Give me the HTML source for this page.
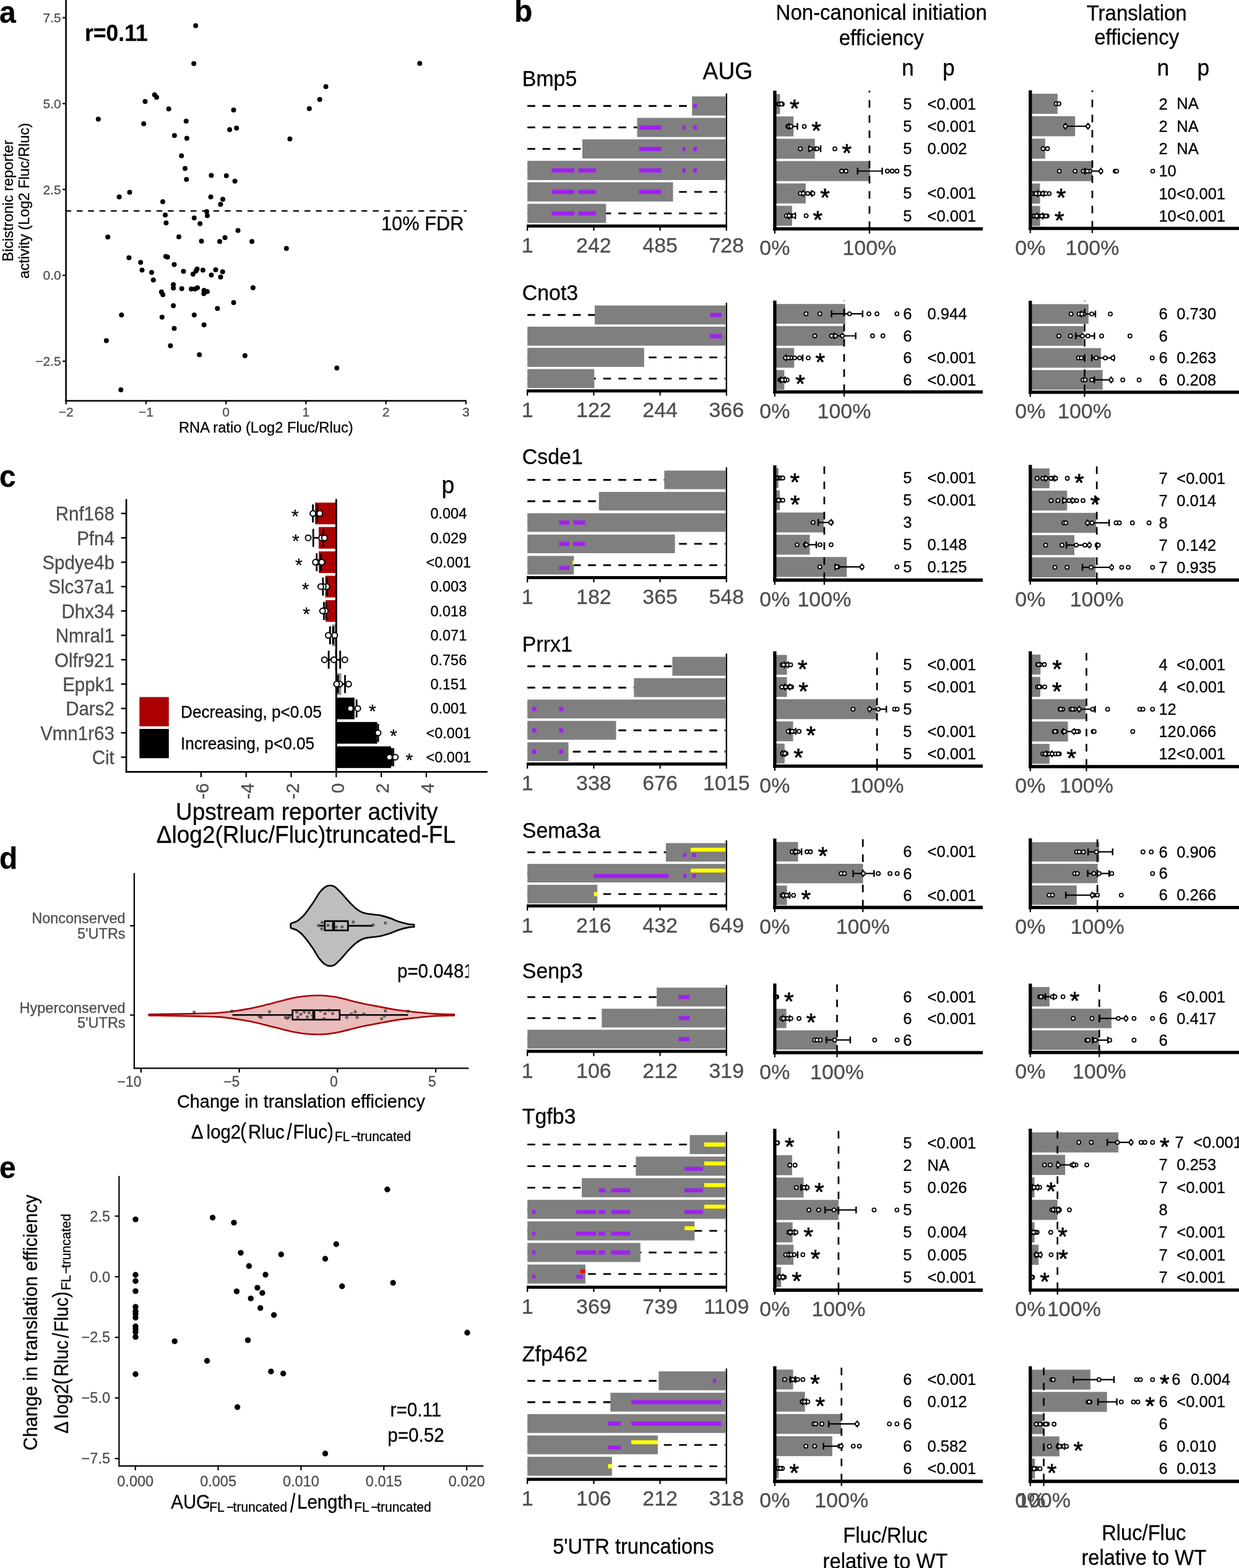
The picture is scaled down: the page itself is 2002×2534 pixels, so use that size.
<!DOCTYPE html>
<html><head><meta charset="utf-8"><title>Figure</title>
<style>
html,body{margin:0;padding:0;background:#fff;}
body{width:2002px;height:2534px;overflow:hidden;}
svg{display:block;}
svg text{font-family:"Liberation Sans", Arial, Helvetica, sans-serif;}
</style></head><body>
<svg width="2002" height="2534" viewBox="0 0 2002 2534">
<rect x="0" y="0" width="2002" height="2534" fill="#fff"/>
<text x="-1" y="36.5" font-size="48" font-weight="bold" fill="#000" stroke="#000" stroke-width="0.3" transform="translate(-1 36.5) scale(1 1.045) translate(1 -36.5)">a</text>
<line x1="106.6" y1="0" x2="106.6" y2="649.1" stroke="#000" stroke-width="2.6" stroke-linecap="butt"/>
<line x1="105.3" y1="647.8" x2="753.8" y2="647.8" stroke="#000" stroke-width="2.6" stroke-linecap="butt"/>
<line x1="101.1" y1="28.6" x2="106.6" y2="28.6" stroke="#000" stroke-width="2.2" stroke-linecap="butt"/>
<text x="98.8" y="35.9" font-size="21" text-anchor="end" fill="#4d4d4d" stroke="#4d4d4d" stroke-width="0.3">7.5</text>
<line x1="101.1" y1="167.4" x2="106.6" y2="167.4" stroke="#000" stroke-width="2.2" stroke-linecap="butt"/>
<text x="98.8" y="174.7" font-size="21" text-anchor="end" fill="#4d4d4d" stroke="#4d4d4d" stroke-width="0.3">5.0</text>
<line x1="101.1" y1="306.2" x2="106.6" y2="306.2" stroke="#000" stroke-width="2.2" stroke-linecap="butt"/>
<text x="98.8" y="313.5" font-size="21" text-anchor="end" fill="#4d4d4d" stroke="#4d4d4d" stroke-width="0.3">2.5</text>
<line x1="101.1" y1="445" x2="106.6" y2="445" stroke="#000" stroke-width="2.2" stroke-linecap="butt"/>
<text x="98.8" y="452.3" font-size="21" text-anchor="end" fill="#4d4d4d" stroke="#4d4d4d" stroke-width="0.3">0.0</text>
<line x1="101.1" y1="583.8" x2="106.6" y2="583.8" stroke="#000" stroke-width="2.2" stroke-linecap="butt"/>
<text x="98.8" y="591.1" font-size="21" text-anchor="end" fill="#4d4d4d" stroke="#4d4d4d" stroke-width="0.3">−2.5</text>
<line x1="106.8" y1="647.8" x2="106.8" y2="653.3" stroke="#000" stroke-width="2.2" stroke-linecap="butt"/>
<text x="106.8" y="673" font-size="21" text-anchor="middle" fill="#4d4d4d" stroke="#4d4d4d" stroke-width="0.3">−2</text>
<line x1="236" y1="647.8" x2="236" y2="653.3" stroke="#000" stroke-width="2.2" stroke-linecap="butt"/>
<text x="236" y="673" font-size="21" text-anchor="middle" fill="#4d4d4d" stroke="#4d4d4d" stroke-width="0.3">−1</text>
<line x1="365.2" y1="647.8" x2="365.2" y2="653.3" stroke="#000" stroke-width="2.2" stroke-linecap="butt"/>
<text x="365.2" y="673" font-size="21" text-anchor="middle" fill="#4d4d4d" stroke="#4d4d4d" stroke-width="0.3">0</text>
<line x1="494.4" y1="647.8" x2="494.4" y2="653.3" stroke="#000" stroke-width="2.2" stroke-linecap="butt"/>
<text x="494.4" y="673" font-size="21" text-anchor="middle" fill="#4d4d4d" stroke="#4d4d4d" stroke-width="0.3">1</text>
<line x1="623.6" y1="647.8" x2="623.6" y2="653.3" stroke="#000" stroke-width="2.2" stroke-linecap="butt"/>
<text x="623.6" y="673" font-size="21" text-anchor="middle" fill="#4d4d4d" stroke="#4d4d4d" stroke-width="0.3">2</text>
<line x1="752.8" y1="647.8" x2="752.8" y2="653.3" stroke="#000" stroke-width="2.2" stroke-linecap="butt"/>
<text x="752.8" y="673" font-size="21" text-anchor="middle" fill="#4d4d4d" stroke="#4d4d4d" stroke-width="0.3">3</text>
<line x1="105.6" y1="340.8" x2="754" y2="340.8" stroke="#000" stroke-width="2.3" stroke-linecap="butt" stroke-dasharray="9.4 9"/>
<circle cx="316.2" cy="41.4" r="4" fill="#000"/>
<circle cx="313.2" cy="102.8" r="4" fill="#000"/>
<circle cx="678.2" cy="102.6" r="4" fill="#000"/>
<circle cx="249.8" cy="153.3" r="4" fill="#000"/>
<circle cx="253.1" cy="157.2" r="4" fill="#000"/>
<circle cx="526.5" cy="140" r="4" fill="#000"/>
<circle cx="234.5" cy="163.9" r="4" fill="#000"/>
<circle cx="516.6" cy="160.7" r="4" fill="#000"/>
<circle cx="272.7" cy="175.9" r="4" fill="#000"/>
<circle cx="377.5" cy="177.8" r="4" fill="#000"/>
<circle cx="499.8" cy="175.6" r="4" fill="#000"/>
<circle cx="158.8" cy="192.6" r="4" fill="#000"/>
<circle cx="300.8" cy="195.8" r="4" fill="#000"/>
<circle cx="232.2" cy="200.1" r="4" fill="#000"/>
<circle cx="382.2" cy="207.1" r="4" fill="#000"/>
<circle cx="371.1" cy="209.5" r="4" fill="#000"/>
<circle cx="281.9" cy="218.9" r="4" fill="#000"/>
<circle cx="301.9" cy="223.6" r="4" fill="#000"/>
<circle cx="468.4" cy="224.4" r="4" fill="#000"/>
<circle cx="293.2" cy="251.7" r="4" fill="#000"/>
<circle cx="299" cy="272.3" r="4" fill="#000"/>
<circle cx="341.4" cy="283.6" r="4" fill="#000"/>
<circle cx="365.8" cy="284" r="4" fill="#000"/>
<circle cx="301.3" cy="289.9" r="4" fill="#000"/>
<circle cx="379.5" cy="292.7" r="4" fill="#000"/>
<circle cx="209.5" cy="310.8" r="4" fill="#000"/>
<circle cx="192.6" cy="318.3" r="4" fill="#000"/>
<circle cx="340.6" cy="318.3" r="4" fill="#000"/>
<circle cx="360" cy="322" r="4" fill="#000"/>
<circle cx="263" cy="326" r="4" fill="#000"/>
<circle cx="356.4" cy="330.2" r="4" fill="#000"/>
<circle cx="334" cy="341.9" r="4" fill="#000"/>
<circle cx="267" cy="347.5" r="4" fill="#000"/>
<circle cx="313.8" cy="352.2" r="4" fill="#000"/>
<circle cx="334.9" cy="348.5" r="4" fill="#000"/>
<circle cx="323.2" cy="361.6" r="4" fill="#000"/>
<circle cx="268.4" cy="360.2" r="4" fill="#000"/>
<circle cx="384.5" cy="372.4" r="4" fill="#000"/>
<circle cx="174.2" cy="383.1" r="4" fill="#000"/>
<circle cx="289" cy="382.7" r="4" fill="#000"/>
<circle cx="363.5" cy="384.1" r="4" fill="#000"/>
<circle cx="325.5" cy="389.7" r="4" fill="#000"/>
<circle cx="355" cy="390.2" r="4" fill="#000"/>
<circle cx="407" cy="390.2" r="4" fill="#000"/>
<circle cx="462.8" cy="401.4" r="4" fill="#000"/>
<circle cx="208.4" cy="416.4" r="4" fill="#000"/>
<circle cx="267.9" cy="414.5" r="4" fill="#000"/>
<circle cx="270.7" cy="415.5" r="4" fill="#000"/>
<circle cx="227.2" cy="423.9" r="4" fill="#000"/>
<circle cx="281.5" cy="427.6" r="4" fill="#000"/>
<circle cx="229.5" cy="436.5" r="4" fill="#000"/>
<circle cx="245" cy="440.3" r="4" fill="#000"/>
<circle cx="296.5" cy="438.4" r="4" fill="#000"/>
<circle cx="318.5" cy="434.7" r="4" fill="#000"/>
<circle cx="327.9" cy="436.5" r="4" fill="#000"/>
<circle cx="348.5" cy="436.1" r="4" fill="#000"/>
<circle cx="359.7" cy="439.3" r="4" fill="#000"/>
<circle cx="311.9" cy="443.1" r="4" fill="#000"/>
<circle cx="316.6" cy="437.9" r="4" fill="#000"/>
<circle cx="341.5" cy="444.5" r="4" fill="#000"/>
<circle cx="356.4" cy="447.8" r="4" fill="#000"/>
<circle cx="247.8" cy="452.5" r="4" fill="#000"/>
<circle cx="280.1" cy="460" r="4" fill="#000"/>
<circle cx="280.1" cy="465.6" r="4" fill="#000"/>
<circle cx="293.7" cy="466.5" r="4" fill="#000"/>
<circle cx="309.1" cy="467" r="4" fill="#000"/>
<circle cx="315.2" cy="467" r="4" fill="#000"/>
<circle cx="319" cy="465.1" r="4" fill="#000"/>
<circle cx="329.7" cy="469.3" r="4" fill="#000"/>
<circle cx="334.9" cy="471.2" r="4" fill="#000"/>
<circle cx="329.3" cy="474.5" r="4" fill="#000"/>
<circle cx="408.9" cy="465.1" r="4" fill="#000"/>
<circle cx="260.9" cy="471.7" r="4" fill="#000"/>
<circle cx="263.2" cy="476.3" r="4" fill="#000"/>
<circle cx="377.5" cy="489" r="4" fill="#000"/>
<circle cx="280.1" cy="494.1" r="4" fill="#000"/>
<circle cx="351.3" cy="498.4" r="4" fill="#000"/>
<circle cx="196.3" cy="509.1" r="4" fill="#000"/>
<circle cx="313.8" cy="509.1" r="4" fill="#000"/>
<circle cx="261.8" cy="512.4" r="4" fill="#000"/>
<circle cx="329.7" cy="525.1" r="4" fill="#000"/>
<circle cx="281.5" cy="530.7" r="4" fill="#000"/>
<circle cx="171.9" cy="550.4" r="4" fill="#000"/>
<circle cx="275.4" cy="558.8" r="4" fill="#000"/>
<circle cx="322.2" cy="573.3" r="4" fill="#000"/>
<circle cx="395.8" cy="574.7" r="4" fill="#000"/>
<circle cx="544.3" cy="594.8" r="4" fill="#000"/>
<circle cx="195.3" cy="630" r="4" fill="#000"/>
<text x="137" y="65.6" font-size="35.5" font-weight="bold" fill="#000" stroke="#000" stroke-width="0.3" transform="translate(137 65.6) scale(1 1.045) translate(-137 -65.6)">r=0.11</text>
<text x="749.5" y="372.4" font-size="30.8" text-anchor="end" fill="#000" stroke="#000" stroke-width="0.3" transform="translate(749.5 372.4) scale(1 1.045) translate(-749.5 -372.4)">10% FDR</text>
<text x="429.8" y="698.8" font-size="23.7" text-anchor="middle" fill="#000" stroke="#000" stroke-width="0.3" transform="translate(429.8 698.8) scale(1 1.045) translate(-429.8 -698.8)">RNA ratio (Log2 Fluc/Rluc)</text>
<text x="21" y="324.5" font-size="23.6" text-anchor="middle" fill="#000" stroke="#000" stroke-width="0.3" transform="translate(21 324.5) rotate(-90) scale(1 1.045) translate(-21 -324.5)">Bicistronic reporter</text>
<text x="46.8" y="324.5" font-size="23.6" text-anchor="middle" fill="#000" stroke="#000" stroke-width="0.3" transform="translate(46.8 324.5) rotate(-90) scale(1 1.045) translate(-46.8 -324.5)">activity (Log2 Fluc/Rluc)</text>
<text x="831" y="35.3" font-size="48" font-weight="bold" fill="#000" stroke="#000" stroke-width="0.3" transform="translate(831 35.3) scale(1 1.045) translate(-831 -35.3)">b</text>
<text x="1424.2" y="32.3" font-size="33" text-anchor="middle" fill="#000" stroke="#000" stroke-width="0.3" transform="translate(1424.2 32.3) scale(1 1.045) translate(-1424.2 -32.3)">Non-canonical initiation</text>
<text x="1424.2" y="73" font-size="33" text-anchor="middle" fill="#000" stroke="#000" stroke-width="0.3" transform="translate(1424.2 73) scale(1 1.045) translate(-1424.2 -73)">efficiency</text>
<text x="1836.7" y="32.7" font-size="33" text-anchor="middle" fill="#000" stroke="#000" stroke-width="0.3" transform="translate(1836.7 32.7) scale(1 1.045) translate(-1836.7 -32.7)">Translation</text>
<text x="1836.7" y="71.9" font-size="33" text-anchor="middle" fill="#000" stroke="#000" stroke-width="0.3" transform="translate(1836.7 71.9) scale(1 1.045) translate(-1836.7 -71.9)">efficiency</text>
<text x="1135.6" y="128.2" font-size="37.2" fill="#000" stroke="#000" stroke-width="0.3" transform="translate(1135.6 128.2) scale(1 1.045) translate(-1135.6 -128.2)">AUG</text>
<text x="1457" y="121.8" font-size="35.5" fill="#000" stroke="#000" stroke-width="0.3" transform="translate(1457 121.8) scale(1 1.045) translate(-1457 -121.8)">n</text>
<text x="1523" y="121.8" font-size="35.5" fill="#000" stroke="#000" stroke-width="0.3" transform="translate(1523 121.8) scale(1 1.045) translate(-1523 -121.8)">p</text>
<text x="1869.4" y="122" font-size="35.5" fill="#000" stroke="#000" stroke-width="0.3" transform="translate(1869.4 122) scale(1 1.045) translate(-1869.4 -122)">n</text>
<text x="1934.6" y="122" font-size="35.5" fill="#000" stroke="#000" stroke-width="0.3" transform="translate(1934.6 122) scale(1 1.045) translate(-1934.6 -122)">p</text>
<text x="843.8" y="138.8" font-size="33.9" fill="#000" stroke="#000" stroke-width="0.3" transform="translate(843.8 138.8) scale(1 1.045) translate(-843.8 -138.8)">Bmp5</text>
<line x1="852.2" y1="171.25" x2="1172.3" y2="171.25" stroke="#000" stroke-width="2.8" stroke-linecap="butt" stroke-dasharray="12.6 11.9"/>
<line x1="852.2" y1="205.97" x2="1172.3" y2="205.97" stroke="#000" stroke-width="2.8" stroke-linecap="butt" stroke-dasharray="12.6 11.9"/>
<line x1="852.2" y1="240.69" x2="1172.3" y2="240.69" stroke="#000" stroke-width="2.8" stroke-linecap="butt" stroke-dasharray="12.6 11.9"/>
<line x1="852.2" y1="275.41" x2="1172.3" y2="275.41" stroke="#000" stroke-width="2.8" stroke-linecap="butt" stroke-dasharray="12.6 11.9"/>
<line x1="852.2" y1="310.13" x2="1172.3" y2="310.13" stroke="#000" stroke-width="2.8" stroke-linecap="butt" stroke-dasharray="12.6 11.9"/>
<line x1="852.2" y1="344.85" x2="1172.3" y2="344.85" stroke="#000" stroke-width="2.8" stroke-linecap="butt" stroke-dasharray="12.6 11.9"/>
<rect x="1118.1" y="155.75" width="54.2" height="31" fill="#7f7f7f"/>
<rect x="1120.4" y="167.85" width="5.8" height="6.8" fill="#a020f0"/>
<rect x="1029.5" y="190.47" width="142.8" height="31" fill="#7f7f7f"/>
<rect x="1032.6" y="202.57" width="36" height="6.8" fill="#a020f0"/>
<rect x="1102.8" y="202.57" width="4.8" height="6.8" fill="#a020f0"/>
<rect x="1120.4" y="202.57" width="5.8" height="6.8" fill="#a020f0"/>
<rect x="941" y="225.19" width="231.3" height="31" fill="#7f7f7f"/>
<rect x="1032.6" y="237.29" width="36" height="6.8" fill="#a020f0"/>
<rect x="1102.8" y="237.29" width="4.8" height="6.8" fill="#a020f0"/>
<rect x="1120.4" y="237.29" width="5.8" height="6.8" fill="#a020f0"/>
<rect x="852.2" y="259.91" width="320.1" height="31" fill="#7f7f7f"/>
<rect x="891.1" y="272.01" width="37" height="6.8" fill="#a020f0"/>
<rect x="934.3" y="272.01" width="28.9" height="6.8" fill="#a020f0"/>
<rect x="1032.6" y="272.01" width="36" height="6.8" fill="#a020f0"/>
<rect x="1102.8" y="272.01" width="4.8" height="6.8" fill="#a020f0"/>
<rect x="1120.4" y="272.01" width="5.8" height="6.8" fill="#a020f0"/>
<rect x="852.2" y="294.63" width="235.3" height="31" fill="#7f7f7f"/>
<rect x="891.1" y="306.73" width="37" height="6.8" fill="#a020f0"/>
<rect x="934.3" y="306.73" width="28.9" height="6.8" fill="#a020f0"/>
<rect x="1032.6" y="306.73" width="36" height="6.8" fill="#a020f0"/>
<rect x="852.2" y="329.35" width="127.1" height="31" fill="#7f7f7f"/>
<rect x="891.1" y="341.45" width="37" height="6.8" fill="#a020f0"/>
<rect x="934.3" y="341.45" width="28.9" height="6.8" fill="#a020f0"/>
<line x1="1173.8" y1="151" x2="1173.8" y2="365.3" stroke="#000" stroke-width="2.3" stroke-linecap="butt"/>
<line x1="851" y1="365.3" x2="1175" y2="365.3" stroke="#000" stroke-width="5" stroke-linecap="butt"/>
<line x1="852.2" y1="365.3" x2="852.2" y2="372.8" stroke="#000" stroke-width="2.2" stroke-linecap="butt"/>
<text x="852.2" y="407.9" font-size="34" text-anchor="middle" fill="#4d4d4d" stroke="#4d4d4d" stroke-width="0.3">1</text>
<line x1="959.4" y1="365.3" x2="959.4" y2="372.8" stroke="#000" stroke-width="2.2" stroke-linecap="butt"/>
<text x="959.4" y="407.9" font-size="34" text-anchor="middle" fill="#4d4d4d" stroke="#4d4d4d" stroke-width="0.3">242</text>
<line x1="1066.6" y1="365.3" x2="1066.6" y2="372.8" stroke="#000" stroke-width="2.2" stroke-linecap="butt"/>
<text x="1066.6" y="407.9" font-size="34" text-anchor="middle" fill="#4d4d4d" stroke="#4d4d4d" stroke-width="0.3">485</text>
<line x1="1173.8" y1="365.3" x2="1173.8" y2="372.8" stroke="#000" stroke-width="2.2" stroke-linecap="butt"/>
<text x="1173.8" y="407.9" font-size="34" text-anchor="middle" fill="#4d4d4d" stroke="#4d4d4d" stroke-width="0.3">728</text>
<rect x="1251.9" y="152.05" width="8.5" height="32.31" fill="#7f7f7f"/>
<rect x="1251.9" y="188.15" width="30.3" height="32.31" fill="#7f7f7f"/>
<rect x="1251.9" y="224.25" width="64.7" height="32.31" fill="#7f7f7f"/>
<rect x="1251.9" y="260.35" width="153.7" height="32.31" fill="#7f7f7f"/>
<rect x="1251.9" y="296.45" width="50" height="32.31" fill="#7f7f7f"/>
<rect x="1251.9" y="332.55" width="28" height="32.31" fill="#7f7f7f"/>
<line x1="1404.9" y1="369.9" x2="1404.9" y2="146.4" stroke="#000" stroke-width="2.7" stroke-linecap="butt" stroke-dasharray="12.2 12.3"/>
<circle cx="1258.1" cy="168.2" r="3" fill="#fff" stroke="#000" stroke-width="1.8"/>
<circle cx="1261.6" cy="168.2" r="3" fill="#fff" stroke="#000" stroke-width="1.8"/>
<circle cx="1264" cy="168.2" r="3" fill="#fff" stroke="#000" stroke-width="1.8"/>
<circle cx="1259.5" cy="168.2" r="3" fill="#fff" stroke="#000" stroke-width="1.8"/>
<circle cx="1262.5" cy="168.2" r="3" fill="#fff" stroke="#000" stroke-width="1.8"/>
<text x="1283.9" y="188.7" font-size="40" text-anchor="middle" fill="#000" stroke="#000" stroke-width="0.3" style="stroke-width:0.75px">*</text>
<text x="1459.3" y="177" font-size="25.5" fill="#000" stroke="#000" stroke-width="0.3">5</text>
<text x="1498.6" y="177" font-size="25.5" fill="#000" stroke="#000" stroke-width="0.3">&lt;0.001</text>
<line x1="1274.5" y1="204.3" x2="1288.5" y2="204.3" stroke="#000" stroke-width="2.2" stroke-linecap="butt"/>
<line x1="1274.5" y1="198.8" x2="1274.5" y2="209.8" stroke="#000" stroke-width="2.4" stroke-linecap="butt"/>
<line x1="1288.5" y1="198.8" x2="1288.5" y2="209.8" stroke="#000" stroke-width="2.4" stroke-linecap="butt"/>
<circle cx="1272.9" cy="204.3" r="3" fill="#fff" stroke="#000" stroke-width="1.8"/>
<circle cx="1276.8" cy="204.3" r="3" fill="#fff" stroke="#000" stroke-width="1.8"/>
<circle cx="1299.6" cy="204.3" r="3" fill="#fff" stroke="#000" stroke-width="1.8"/>
<circle cx="1275" cy="204.3" r="3" fill="#fff" stroke="#000" stroke-width="1.8"/>
<circle cx="1278" cy="204.3" r="3" fill="#fff" stroke="#000" stroke-width="1.8"/>
<text x="1319" y="224.8" font-size="40" text-anchor="middle" fill="#000" stroke="#000" stroke-width="0.3" style="stroke-width:0.75px">*</text>
<text x="1459.3" y="213.1" font-size="25.5" fill="#000" stroke="#000" stroke-width="0.3">5</text>
<text x="1498.6" y="213.1" font-size="25.5" fill="#000" stroke="#000" stroke-width="0.3">&lt;0.001</text>
<line x1="1307.3" y1="240.4" x2="1326" y2="240.4" stroke="#000" stroke-width="2.2" stroke-linecap="butt"/>
<line x1="1307.3" y1="234.9" x2="1307.3" y2="245.9" stroke="#000" stroke-width="2.4" stroke-linecap="butt"/>
<line x1="1326" y1="234.9" x2="1326" y2="245.9" stroke="#000" stroke-width="2.4" stroke-linecap="butt"/>
<circle cx="1293.2" cy="240.4" r="3" fill="#fff" stroke="#000" stroke-width="1.8"/>
<circle cx="1309.6" cy="240.4" r="3" fill="#fff" stroke="#000" stroke-width="1.8"/>
<circle cx="1317.8" cy="240.4" r="3" fill="#fff" stroke="#000" stroke-width="1.8"/>
<circle cx="1320.2" cy="240.4" r="3" fill="#fff" stroke="#000" stroke-width="1.8"/>
<circle cx="1349" cy="240.4" r="3" fill="#fff" stroke="#000" stroke-width="1.8"/>
<text x="1368.2" y="260.9" font-size="40" text-anchor="middle" fill="#000" stroke="#000" stroke-width="0.3" style="stroke-width:0.75px">*</text>
<text x="1459.3" y="249.2" font-size="25.5" fill="#000" stroke="#000" stroke-width="0.3">5</text>
<text x="1498.6" y="249.2" font-size="25.5" fill="#000" stroke="#000" stroke-width="0.3">0.002</text>
<line x1="1385.7" y1="276.5" x2="1425.5" y2="276.5" stroke="#000" stroke-width="2.2" stroke-linecap="butt"/>
<line x1="1385.7" y1="271" x2="1385.7" y2="282" stroke="#000" stroke-width="2.4" stroke-linecap="butt"/>
<line x1="1425.5" y1="271" x2="1425.5" y2="282" stroke="#000" stroke-width="2.4" stroke-linecap="butt"/>
<circle cx="1360" cy="276.5" r="3" fill="#fff" stroke="#000" stroke-width="1.8"/>
<circle cx="1367" cy="276.5" r="3" fill="#fff" stroke="#000" stroke-width="1.8"/>
<circle cx="1433.7" cy="276.5" r="3" fill="#fff" stroke="#000" stroke-width="1.8"/>
<circle cx="1441.6" cy="276.5" r="3" fill="#fff" stroke="#000" stroke-width="1.8"/>
<circle cx="1449.4" cy="276.5" r="3" fill="#fff" stroke="#000" stroke-width="1.8"/>
<text x="1459.3" y="285.3" font-size="25.5" fill="#000" stroke="#000" stroke-width="0.3">5</text>
<line x1="1297.9" y1="312.6" x2="1312" y2="312.6" stroke="#000" stroke-width="2.2" stroke-linecap="butt"/>
<line x1="1297.9" y1="307.1" x2="1297.9" y2="318.1" stroke="#000" stroke-width="2.4" stroke-linecap="butt"/>
<line x1="1312" y1="307.1" x2="1312" y2="318.1" stroke="#000" stroke-width="2.4" stroke-linecap="butt"/>
<circle cx="1293.2" cy="312.6" r="3" fill="#fff" stroke="#000" stroke-width="1.8"/>
<circle cx="1297.9" cy="312.6" r="3" fill="#fff" stroke="#000" stroke-width="1.8"/>
<circle cx="1312" cy="312.6" r="3" fill="#fff" stroke="#000" stroke-width="1.8"/>
<circle cx="1313.5" cy="312.6" r="3" fill="#fff" stroke="#000" stroke-width="1.8"/>
<circle cx="1305" cy="312.6" r="3" fill="#fff" stroke="#000" stroke-width="1.8"/>
<text x="1333" y="333.1" font-size="40" text-anchor="middle" fill="#000" stroke="#000" stroke-width="0.3" style="stroke-width:0.75px">*</text>
<text x="1459.3" y="321.4" font-size="25.5" fill="#000" stroke="#000" stroke-width="0.3">5</text>
<text x="1498.6" y="321.4" font-size="25.5" fill="#000" stroke="#000" stroke-width="0.3">&lt;0.001</text>
<line x1="1274.5" y1="348.7" x2="1285" y2="348.7" stroke="#000" stroke-width="2.2" stroke-linecap="butt"/>
<line x1="1274.5" y1="343.2" x2="1274.5" y2="354.2" stroke="#000" stroke-width="2.4" stroke-linecap="butt"/>
<line x1="1285" y1="343.2" x2="1285" y2="354.2" stroke="#000" stroke-width="2.4" stroke-linecap="butt"/>
<circle cx="1271" cy="348.7" r="3" fill="#fff" stroke="#000" stroke-width="1.8"/>
<circle cx="1278" cy="348.7" r="3" fill="#fff" stroke="#000" stroke-width="1.8"/>
<circle cx="1282.7" cy="348.7" r="3" fill="#fff" stroke="#000" stroke-width="1.8"/>
<circle cx="1302.6" cy="348.7" r="3" fill="#fff" stroke="#000" stroke-width="1.8"/>
<circle cx="1275" cy="348.7" r="3" fill="#fff" stroke="#000" stroke-width="1.8"/>
<text x="1321.3" y="369.2" font-size="40" text-anchor="middle" fill="#000" stroke="#000" stroke-width="0.3" style="stroke-width:0.75px">*</text>
<text x="1459.3" y="357.5" font-size="25.5" fill="#000" stroke="#000" stroke-width="0.3">5</text>
<text x="1498.6" y="357.5" font-size="25.5" fill="#000" stroke="#000" stroke-width="0.3">&lt;0.001</text>
<line x1="1251.9" y1="146.4" x2="1251.9" y2="372.55" stroke="#000" stroke-width="5.3" stroke-linecap="butt"/>
<line x1="1249.25" y1="369.9" x2="1588" y2="369.9" stroke="#000" stroke-width="5.3" stroke-linecap="butt"/>
<line x1="1251.9" y1="369.9" x2="1251.9" y2="377.4" stroke="#000" stroke-width="2.2" stroke-linecap="butt"/>
<line x1="1404.9" y1="369.9" x2="1404.9" y2="377.4" stroke="#000" stroke-width="2.2" stroke-linecap="butt"/>
<text x="1251.9" y="412.3" font-size="34" text-anchor="middle" fill="#4d4d4d" stroke="#4d4d4d" stroke-width="0.3">0%</text>
<text x="1404.9" y="412.3" font-size="34" text-anchor="middle" fill="#4d4d4d" stroke="#4d4d4d" stroke-width="0.3">100%</text>
<rect x="1664.8" y="151.46" width="44" height="32.47" fill="#7f7f7f"/>
<rect x="1664.8" y="187.74" width="72.4" height="32.47" fill="#7f7f7f"/>
<rect x="1664.8" y="224.02" width="24" height="32.47" fill="#7f7f7f"/>
<rect x="1664.8" y="260.3" width="100.2" height="32.47" fill="#7f7f7f"/>
<rect x="1664.8" y="296.58" width="15.7" height="32.47" fill="#7f7f7f"/>
<rect x="1664.8" y="332.86" width="15.9" height="32.47" fill="#7f7f7f"/>
<line x1="1765" y1="369.2" x2="1765" y2="145.9" stroke="#000" stroke-width="2.7" stroke-linecap="butt" stroke-dasharray="12.2 12.3"/>
<circle cx="1706.7" cy="167.7" r="3" fill="#fff" stroke="#000" stroke-width="1.8"/>
<circle cx="1711" cy="167.7" r="3" fill="#fff" stroke="#000" stroke-width="1.8"/>
<text x="1872.4" y="176.5" font-size="25.5" fill="#000" stroke="#000" stroke-width="0.3">2</text>
<text x="1901.3" y="176.5" font-size="25.5" fill="#000" stroke="#000" stroke-width="0.3" transform="translate(1901.3 176.5) scale(1 1.045) translate(-1901.3 -176.5)">NA</text>
<line x1="1721.5" y1="203.98" x2="1758" y2="203.98" stroke="#000" stroke-width="2.2" stroke-linecap="butt"/>
<line x1="1721.5" y1="198.48" x2="1721.5" y2="209.48" stroke="#000" stroke-width="2.4" stroke-linecap="butt"/>
<line x1="1758" y1="198.48" x2="1758" y2="209.48" stroke="#000" stroke-width="2.4" stroke-linecap="butt"/>
<circle cx="1721.5" cy="203.98" r="3" fill="#fff" stroke="#000" stroke-width="1.8"/>
<circle cx="1758" cy="203.98" r="3" fill="#fff" stroke="#000" stroke-width="1.8"/>
<text x="1872.4" y="212.78" font-size="25.5" fill="#000" stroke="#000" stroke-width="0.3">2</text>
<text x="1901.3" y="212.78" font-size="25.5" fill="#000" stroke="#000" stroke-width="0.3" transform="translate(1901.3 212.78) scale(1 1.045) translate(-1901.3 -212.78)">NA</text>
<circle cx="1685.5" cy="240.26" r="3" fill="#fff" stroke="#000" stroke-width="1.8"/>
<circle cx="1692.5" cy="240.26" r="3" fill="#fff" stroke="#000" stroke-width="1.8"/>
<text x="1872.4" y="249.06" font-size="25.5" fill="#000" stroke="#000" stroke-width="0.3">2</text>
<text x="1901.3" y="249.06" font-size="25.5" fill="#000" stroke="#000" stroke-width="0.3" transform="translate(1901.3 249.06) scale(1 1.045) translate(-1901.3 -249.06)">NA</text>
<line x1="1753" y1="276.54" x2="1778.8" y2="276.54" stroke="#000" stroke-width="2.2" stroke-linecap="butt"/>
<line x1="1753" y1="271.04" x2="1753" y2="282.04" stroke="#000" stroke-width="2.4" stroke-linecap="butt"/>
<line x1="1778.8" y1="271.04" x2="1778.8" y2="282.04" stroke="#000" stroke-width="2.4" stroke-linecap="butt"/>
<circle cx="1711.7" cy="276.54" r="3" fill="#fff" stroke="#000" stroke-width="1.8"/>
<circle cx="1737.2" cy="276.54" r="3" fill="#fff" stroke="#000" stroke-width="1.8"/>
<circle cx="1750.4" cy="276.54" r="3" fill="#fff" stroke="#000" stroke-width="1.8"/>
<circle cx="1754.6" cy="276.54" r="3" fill="#fff" stroke="#000" stroke-width="1.8"/>
<circle cx="1760.7" cy="276.54" r="3" fill="#fff" stroke="#000" stroke-width="1.8"/>
<circle cx="1778.8" cy="276.54" r="3" fill="#fff" stroke="#000" stroke-width="1.8"/>
<circle cx="1802" cy="276.54" r="3" fill="#fff" stroke="#000" stroke-width="1.8"/>
<circle cx="1804.2" cy="276.54" r="3" fill="#fff" stroke="#000" stroke-width="1.8"/>
<circle cx="1862.6" cy="276.54" r="3" fill="#fff" stroke="#000" stroke-width="1.8"/>
<circle cx="1757" cy="276.54" r="3" fill="#fff" stroke="#000" stroke-width="1.8"/>
<text x="1872.4" y="285.34" font-size="25.5" fill="#000" stroke="#000" stroke-width="0.3">10</text>
<line x1="1676.8" y1="312.82" x2="1686" y2="312.82" stroke="#000" stroke-width="2.2" stroke-linecap="butt"/>
<line x1="1676.8" y1="307.32" x2="1676.8" y2="318.32" stroke="#000" stroke-width="2.4" stroke-linecap="butt"/>
<line x1="1686" y1="307.32" x2="1686" y2="318.32" stroke="#000" stroke-width="2.4" stroke-linecap="butt"/>
<circle cx="1668" cy="312.82" r="3" fill="#fff" stroke="#000" stroke-width="1.8"/>
<circle cx="1676.8" cy="312.82" r="3" fill="#fff" stroke="#000" stroke-width="1.8"/>
<circle cx="1682.3" cy="312.82" r="3" fill="#fff" stroke="#000" stroke-width="1.8"/>
<circle cx="1687" cy="312.82" r="3" fill="#fff" stroke="#000" stroke-width="1.8"/>
<circle cx="1695.3" cy="312.82" r="3" fill="#fff" stroke="#000" stroke-width="1.8"/>
<circle cx="1672" cy="312.82" r="3" fill="#fff" stroke="#000" stroke-width="1.8"/>
<circle cx="1679" cy="312.82" r="3" fill="#fff" stroke="#000" stroke-width="1.8"/>
<circle cx="1685" cy="312.82" r="3" fill="#fff" stroke="#000" stroke-width="1.8"/>
<circle cx="1690" cy="312.82" r="3" fill="#fff" stroke="#000" stroke-width="1.8"/>
<circle cx="1674" cy="312.82" r="3" fill="#fff" stroke="#000" stroke-width="1.8"/>
<text x="1714.5" y="333.32" font-size="40" text-anchor="middle" fill="#000" stroke="#000" stroke-width="0.3" style="stroke-width:0.75px">*</text>
<text x="1872.4" y="321.62" font-size="25.5" fill="#000" stroke="#000" stroke-width="0.3">10</text>
<text x="1901.3" y="321.62" font-size="25.5" fill="#000" stroke="#000" stroke-width="0.3">&lt;0.001</text>
<line x1="1676" y1="349.1" x2="1685" y2="349.1" stroke="#000" stroke-width="2.2" stroke-linecap="butt"/>
<line x1="1676" y1="343.6" x2="1676" y2="354.6" stroke="#000" stroke-width="2.4" stroke-linecap="butt"/>
<line x1="1685" y1="343.6" x2="1685" y2="354.6" stroke="#000" stroke-width="2.4" stroke-linecap="butt"/>
<circle cx="1669.2" cy="349.1" r="3" fill="#fff" stroke="#000" stroke-width="1.8"/>
<circle cx="1678.4" cy="349.1" r="3" fill="#fff" stroke="#000" stroke-width="1.8"/>
<circle cx="1685.5" cy="349.1" r="3" fill="#fff" stroke="#000" stroke-width="1.8"/>
<circle cx="1692" cy="349.1" r="3" fill="#fff" stroke="#000" stroke-width="1.8"/>
<circle cx="1672" cy="349.1" r="3" fill="#fff" stroke="#000" stroke-width="1.8"/>
<circle cx="1675" cy="349.1" r="3" fill="#fff" stroke="#000" stroke-width="1.8"/>
<circle cx="1681" cy="349.1" r="3" fill="#fff" stroke="#000" stroke-width="1.8"/>
<circle cx="1688" cy="349.1" r="3" fill="#fff" stroke="#000" stroke-width="1.8"/>
<circle cx="1683" cy="349.1" r="3" fill="#fff" stroke="#000" stroke-width="1.8"/>
<circle cx="1690" cy="349.1" r="3" fill="#fff" stroke="#000" stroke-width="1.8"/>
<text x="1711.7" y="369.6" font-size="40" text-anchor="middle" fill="#000" stroke="#000" stroke-width="0.3" style="stroke-width:0.75px">*</text>
<text x="1872.4" y="357.9" font-size="25.5" fill="#000" stroke="#000" stroke-width="0.3">10</text>
<text x="1901.3" y="357.9" font-size="25.5" fill="#000" stroke="#000" stroke-width="0.3">&lt;0.001</text>
<line x1="1664.8" y1="145.9" x2="1664.8" y2="371.85" stroke="#000" stroke-width="5.3" stroke-linecap="butt"/>
<line x1="1662.15" y1="369.2" x2="2002" y2="369.2" stroke="#000" stroke-width="5.3" stroke-linecap="butt"/>
<line x1="1664.8" y1="369.2" x2="1664.8" y2="376.7" stroke="#000" stroke-width="2.2" stroke-linecap="butt"/>
<line x1="1765" y1="369.2" x2="1765" y2="376.7" stroke="#000" stroke-width="2.2" stroke-linecap="butt"/>
<text x="1664.8" y="411.6" font-size="34" text-anchor="middle" fill="#4d4d4d" stroke="#4d4d4d" stroke-width="0.3">0%</text>
<text x="1765" y="411.6" font-size="34" text-anchor="middle" fill="#4d4d4d" stroke="#4d4d4d" stroke-width="0.3">100%</text>
<text x="843.8" y="485" font-size="33.9" fill="#000" stroke="#000" stroke-width="0.3" transform="translate(843.8 485) scale(1 1.045) translate(-843.8 -485)">Cnot3</text>
<line x1="852.2" y1="509" x2="1172.3" y2="509" stroke="#000" stroke-width="2.8" stroke-linecap="butt" stroke-dasharray="12.6 11.9"/>
<line x1="852.2" y1="543.27" x2="1172.3" y2="543.27" stroke="#000" stroke-width="2.8" stroke-linecap="butt" stroke-dasharray="12.6 11.9"/>
<line x1="852.2" y1="577.54" x2="1172.3" y2="577.54" stroke="#000" stroke-width="2.8" stroke-linecap="butt" stroke-dasharray="12.6 11.9"/>
<line x1="852.2" y1="611.81" x2="1172.3" y2="611.81" stroke="#000" stroke-width="2.8" stroke-linecap="butt" stroke-dasharray="12.6 11.9"/>
<rect x="961" y="493.65" width="211.3" height="30.7" fill="#7f7f7f"/>
<rect x="1147.5" y="505.6" width="18.4" height="6.8" fill="#a020f0"/>
<rect x="852.2" y="527.92" width="320.1" height="30.7" fill="#7f7f7f"/>
<rect x="1147.5" y="539.87" width="18.4" height="6.8" fill="#a020f0"/>
<rect x="852.2" y="562.19" width="188.6" height="30.7" fill="#7f7f7f"/>
<rect x="852.2" y="596.46" width="108.1" height="30.7" fill="#7f7f7f"/>
<line x1="1173.8" y1="489.2" x2="1173.8" y2="631.8" stroke="#000" stroke-width="2.3" stroke-linecap="butt"/>
<line x1="851" y1="631.8" x2="1175" y2="631.8" stroke="#000" stroke-width="5" stroke-linecap="butt"/>
<line x1="852.2" y1="631.8" x2="852.2" y2="639.3" stroke="#000" stroke-width="2.2" stroke-linecap="butt"/>
<text x="852.2" y="674.4" font-size="34" text-anchor="middle" fill="#4d4d4d" stroke="#4d4d4d" stroke-width="0.3">1</text>
<line x1="959.4" y1="631.8" x2="959.4" y2="639.3" stroke="#000" stroke-width="2.2" stroke-linecap="butt"/>
<text x="959.4" y="674.4" font-size="34" text-anchor="middle" fill="#4d4d4d" stroke="#4d4d4d" stroke-width="0.3">122</text>
<line x1="1066.6" y1="631.8" x2="1066.6" y2="639.3" stroke="#000" stroke-width="2.2" stroke-linecap="butt"/>
<text x="1066.6" y="674.4" font-size="34" text-anchor="middle" fill="#4d4d4d" stroke="#4d4d4d" stroke-width="0.3">244</text>
<line x1="1173.8" y1="631.8" x2="1173.8" y2="639.3" stroke="#000" stroke-width="2.2" stroke-linecap="butt"/>
<text x="1173.8" y="674.4" font-size="34" text-anchor="middle" fill="#4d4d4d" stroke="#4d4d4d" stroke-width="0.3">366</text>
<rect x="1251.9" y="491.28" width="113.8" height="31.84" fill="#7f7f7f"/>
<rect x="1251.9" y="526.85" width="111.3" height="31.84" fill="#7f7f7f"/>
<rect x="1251.9" y="562.42" width="31.3" height="31.84" fill="#7f7f7f"/>
<rect x="1251.9" y="597.99" width="15.4" height="31.84" fill="#7f7f7f"/>
<line x1="1364" y1="633.4" x2="1364" y2="485.7" stroke="#000" stroke-width="2.7" stroke-linecap="butt" stroke-dasharray="12.2 12.3"/>
<line x1="1343.6" y1="507.2" x2="1393.8" y2="507.2" stroke="#000" stroke-width="2.2" stroke-linecap="butt"/>
<line x1="1343.6" y1="501.7" x2="1343.6" y2="512.7" stroke="#000" stroke-width="2.4" stroke-linecap="butt"/>
<line x1="1393.8" y1="501.7" x2="1393.8" y2="512.7" stroke="#000" stroke-width="2.4" stroke-linecap="butt"/>
<circle cx="1302.5" cy="507.2" r="3" fill="#fff" stroke="#000" stroke-width="1.8"/>
<circle cx="1324.6" cy="507.2" r="3" fill="#fff" stroke="#000" stroke-width="1.8"/>
<circle cx="1372.7" cy="507.2" r="3" fill="#fff" stroke="#000" stroke-width="1.8"/>
<circle cx="1404" cy="507.2" r="3" fill="#fff" stroke="#000" stroke-width="1.8"/>
<circle cx="1417" cy="507.2" r="3" fill="#fff" stroke="#000" stroke-width="1.8"/>
<circle cx="1449.3" cy="507.2" r="3" fill="#fff" stroke="#000" stroke-width="1.8"/>
<text x="1459.3" y="516" font-size="25.5" fill="#000" stroke="#000" stroke-width="0.3">6</text>
<text x="1498.6" y="516" font-size="25.5" fill="#000" stroke="#000" stroke-width="0.3">0.944</text>
<line x1="1348" y1="542.77" x2="1382.6" y2="542.77" stroke="#000" stroke-width="2.2" stroke-linecap="butt"/>
<line x1="1348" y1="537.27" x2="1348" y2="548.27" stroke="#000" stroke-width="2.4" stroke-linecap="butt"/>
<line x1="1382.6" y1="537.27" x2="1382.6" y2="548.27" stroke="#000" stroke-width="2.4" stroke-linecap="butt"/>
<circle cx="1316.5" cy="542.77" r="3" fill="#fff" stroke="#000" stroke-width="1.8"/>
<circle cx="1343.6" cy="542.77" r="3" fill="#fff" stroke="#000" stroke-width="1.8"/>
<circle cx="1361.2" cy="542.77" r="3" fill="#fff" stroke="#000" stroke-width="1.8"/>
<circle cx="1409.8" cy="542.77" r="3" fill="#fff" stroke="#000" stroke-width="1.8"/>
<circle cx="1426.6" cy="542.77" r="3" fill="#fff" stroke="#000" stroke-width="1.8"/>
<circle cx="1350" cy="542.77" r="3" fill="#fff" stroke="#000" stroke-width="1.8"/>
<text x="1459.3" y="551.57" font-size="25.5" fill="#000" stroke="#000" stroke-width="0.3">6</text>
<line x1="1270" y1="578.34" x2="1297" y2="578.34" stroke="#000" stroke-width="2.2" stroke-linecap="butt"/>
<line x1="1270" y1="572.84" x2="1270" y2="583.84" stroke="#000" stroke-width="2.4" stroke-linecap="butt"/>
<line x1="1297" y1="572.84" x2="1297" y2="583.84" stroke="#000" stroke-width="2.4" stroke-linecap="butt"/>
<circle cx="1269.1" cy="578.34" r="3" fill="#fff" stroke="#000" stroke-width="1.8"/>
<circle cx="1277.9" cy="578.34" r="3" fill="#fff" stroke="#000" stroke-width="1.8"/>
<circle cx="1283.9" cy="578.34" r="3" fill="#fff" stroke="#000" stroke-width="1.8"/>
<circle cx="1292" cy="578.34" r="3" fill="#fff" stroke="#000" stroke-width="1.8"/>
<circle cx="1306" cy="578.34" r="3" fill="#fff" stroke="#000" stroke-width="1.8"/>
<circle cx="1274" cy="578.34" r="3" fill="#fff" stroke="#000" stroke-width="1.8"/>
<text x="1325.3" y="598.84" font-size="40" text-anchor="middle" fill="#000" stroke="#000" stroke-width="0.3" style="stroke-width:0.75px">*</text>
<text x="1459.3" y="587.14" font-size="25.5" fill="#000" stroke="#000" stroke-width="0.3">6</text>
<text x="1498.6" y="587.14" font-size="25.5" fill="#000" stroke="#000" stroke-width="0.3">&lt;0.001</text>
<line x1="1261.5" y1="613.91" x2="1268.5" y2="613.91" stroke="#000" stroke-width="2.2" stroke-linecap="butt"/>
<line x1="1261.5" y1="608.41" x2="1261.5" y2="619.41" stroke="#000" stroke-width="2.4" stroke-linecap="butt"/>
<line x1="1268.5" y1="608.41" x2="1268.5" y2="619.41" stroke="#000" stroke-width="2.4" stroke-linecap="butt"/>
<circle cx="1260.3" cy="613.91" r="3" fill="#fff" stroke="#000" stroke-width="1.8"/>
<circle cx="1265.6" cy="613.91" r="3" fill="#fff" stroke="#000" stroke-width="1.8"/>
<circle cx="1271.9" cy="613.91" r="3" fill="#fff" stroke="#000" stroke-width="1.8"/>
<circle cx="1262" cy="613.91" r="3" fill="#fff" stroke="#000" stroke-width="1.8"/>
<circle cx="1268" cy="613.91" r="3" fill="#fff" stroke="#000" stroke-width="1.8"/>
<circle cx="1264" cy="613.91" r="3" fill="#fff" stroke="#000" stroke-width="1.8"/>
<text x="1293" y="634.41" font-size="40" text-anchor="middle" fill="#000" stroke="#000" stroke-width="0.3" style="stroke-width:0.75px">*</text>
<text x="1459.3" y="622.71" font-size="25.5" fill="#000" stroke="#000" stroke-width="0.3">6</text>
<text x="1498.6" y="622.71" font-size="25.5" fill="#000" stroke="#000" stroke-width="0.3">&lt;0.001</text>
<line x1="1251.9" y1="485.7" x2="1251.9" y2="636.05" stroke="#000" stroke-width="5.3" stroke-linecap="butt"/>
<line x1="1249.25" y1="633.4" x2="1588" y2="633.4" stroke="#000" stroke-width="5.3" stroke-linecap="butt"/>
<line x1="1251.9" y1="633.4" x2="1251.9" y2="640.9" stroke="#000" stroke-width="2.2" stroke-linecap="butt"/>
<line x1="1364" y1="633.4" x2="1364" y2="640.9" stroke="#000" stroke-width="2.2" stroke-linecap="butt"/>
<text x="1251.9" y="675.8" font-size="34" text-anchor="middle" fill="#4d4d4d" stroke="#4d4d4d" stroke-width="0.3">0%</text>
<text x="1364" y="675.8" font-size="34" text-anchor="middle" fill="#4d4d4d" stroke="#4d4d4d" stroke-width="0.3">100%</text>
<rect x="1664.8" y="491.51" width="94" height="31.77" fill="#7f7f7f"/>
<rect x="1664.8" y="527.01" width="85.9" height="31.77" fill="#7f7f7f"/>
<rect x="1664.8" y="562.51" width="114.1" height="31.77" fill="#7f7f7f"/>
<rect x="1664.8" y="598.01" width="116.9" height="31.77" fill="#7f7f7f"/>
<line x1="1752.5" y1="633.8" x2="1752.5" y2="485.9" stroke="#000" stroke-width="2.7" stroke-linecap="butt" stroke-dasharray="12.2 12.3"/>
<line x1="1747" y1="507.4" x2="1770" y2="507.4" stroke="#000" stroke-width="2.2" stroke-linecap="butt"/>
<line x1="1747" y1="501.9" x2="1747" y2="512.9" stroke="#000" stroke-width="2.4" stroke-linecap="butt"/>
<line x1="1770" y1="501.9" x2="1770" y2="512.9" stroke="#000" stroke-width="2.4" stroke-linecap="butt"/>
<circle cx="1730.6" cy="507.4" r="3" fill="#fff" stroke="#000" stroke-width="1.8"/>
<circle cx="1743.7" cy="507.4" r="3" fill="#fff" stroke="#000" stroke-width="1.8"/>
<circle cx="1750.7" cy="507.4" r="3" fill="#fff" stroke="#000" stroke-width="1.8"/>
<circle cx="1764.1" cy="507.4" r="3" fill="#fff" stroke="#000" stroke-width="1.8"/>
<circle cx="1794.1" cy="507.4" r="3" fill="#fff" stroke="#000" stroke-width="1.8"/>
<circle cx="1748" cy="507.4" r="3" fill="#fff" stroke="#000" stroke-width="1.8"/>
<text x="1872.4" y="516.2" font-size="25.5" fill="#000" stroke="#000" stroke-width="0.3">6</text>
<text x="1901.3" y="516.2" font-size="25.5" fill="#000" stroke="#000" stroke-width="0.3">0.730</text>
<line x1="1738.4" y1="542.9" x2="1768.4" y2="542.9" stroke="#000" stroke-width="2.2" stroke-linecap="butt"/>
<line x1="1738.4" y1="537.4" x2="1738.4" y2="548.4" stroke="#000" stroke-width="2.4" stroke-linecap="butt"/>
<line x1="1768.4" y1="537.4" x2="1768.4" y2="548.4" stroke="#000" stroke-width="2.4" stroke-linecap="butt"/>
<circle cx="1710.9" cy="542.9" r="3" fill="#fff" stroke="#000" stroke-width="1.8"/>
<circle cx="1729.6" cy="542.9" r="3" fill="#fff" stroke="#000" stroke-width="1.8"/>
<circle cx="1749" cy="542.9" r="3" fill="#fff" stroke="#000" stroke-width="1.8"/>
<circle cx="1757.8" cy="542.9" r="3" fill="#fff" stroke="#000" stroke-width="1.8"/>
<circle cx="1780" cy="542.9" r="3" fill="#fff" stroke="#000" stroke-width="1.8"/>
<circle cx="1825.8" cy="542.9" r="3" fill="#fff" stroke="#000" stroke-width="1.8"/>
<text x="1872.4" y="551.7" font-size="25.5" fill="#000" stroke="#000" stroke-width="0.3">6</text>
<line x1="1764.1" y1="578.4" x2="1799.7" y2="578.4" stroke="#000" stroke-width="2.2" stroke-linecap="butt"/>
<line x1="1764.1" y1="572.9" x2="1764.1" y2="583.9" stroke="#000" stroke-width="2.4" stroke-linecap="butt"/>
<line x1="1799.7" y1="572.9" x2="1799.7" y2="583.9" stroke="#000" stroke-width="2.4" stroke-linecap="butt"/>
<circle cx="1742.6" cy="578.4" r="3" fill="#fff" stroke="#000" stroke-width="1.8"/>
<circle cx="1747.2" cy="578.4" r="3" fill="#fff" stroke="#000" stroke-width="1.8"/>
<circle cx="1771.2" cy="578.4" r="3" fill="#fff" stroke="#000" stroke-width="1.8"/>
<circle cx="1786" cy="578.4" r="3" fill="#fff" stroke="#000" stroke-width="1.8"/>
<circle cx="1798.3" cy="578.4" r="3" fill="#fff" stroke="#000" stroke-width="1.8"/>
<circle cx="1861.8" cy="578.4" r="3" fill="#fff" stroke="#000" stroke-width="1.8"/>
<text x="1872.4" y="587.2" font-size="25.5" fill="#000" stroke="#000" stroke-width="0.3">6</text>
<text x="1901.3" y="587.2" font-size="25.5" fill="#000" stroke="#000" stroke-width="0.3">0.263</text>
<line x1="1768.4" y1="613.9" x2="1795.5" y2="613.9" stroke="#000" stroke-width="2.2" stroke-linecap="butt"/>
<line x1="1768.4" y1="608.4" x2="1768.4" y2="619.4" stroke="#000" stroke-width="2.4" stroke-linecap="butt"/>
<line x1="1795.5" y1="608.4" x2="1795.5" y2="619.4" stroke="#000" stroke-width="2.4" stroke-linecap="butt"/>
<circle cx="1750" cy="613.9" r="3" fill="#fff" stroke="#000" stroke-width="1.8"/>
<circle cx="1753.5" cy="613.9" r="3" fill="#fff" stroke="#000" stroke-width="1.8"/>
<circle cx="1764.1" cy="613.9" r="3" fill="#fff" stroke="#000" stroke-width="1.8"/>
<circle cx="1795.5" cy="613.9" r="3" fill="#fff" stroke="#000" stroke-width="1.8"/>
<circle cx="1814.2" cy="613.9" r="3" fill="#fff" stroke="#000" stroke-width="1.8"/>
<circle cx="1840.6" cy="613.9" r="3" fill="#fff" stroke="#000" stroke-width="1.8"/>
<text x="1872.4" y="622.7" font-size="25.5" fill="#000" stroke="#000" stroke-width="0.3">6</text>
<text x="1901.3" y="622.7" font-size="25.5" fill="#000" stroke="#000" stroke-width="0.3">0.208</text>
<line x1="1664.8" y1="485.9" x2="1664.8" y2="636.45" stroke="#000" stroke-width="5.3" stroke-linecap="butt"/>
<line x1="1662.15" y1="633.8" x2="2002" y2="633.8" stroke="#000" stroke-width="5.3" stroke-linecap="butt"/>
<line x1="1664.8" y1="633.8" x2="1664.8" y2="641.3" stroke="#000" stroke-width="2.2" stroke-linecap="butt"/>
<line x1="1752.5" y1="633.8" x2="1752.5" y2="641.3" stroke="#000" stroke-width="2.2" stroke-linecap="butt"/>
<text x="1664.8" y="676.2" font-size="34" text-anchor="middle" fill="#4d4d4d" stroke="#4d4d4d" stroke-width="0.3">0%</text>
<text x="1752.5" y="676.2" font-size="34" text-anchor="middle" fill="#4d4d4d" stroke="#4d4d4d" stroke-width="0.3">100%</text>
<text x="843.8" y="750.2" font-size="33.9" fill="#000" stroke="#000" stroke-width="0.3" transform="translate(843.8 750.2) scale(1 1.045) translate(-843.8 -750.2)">Csde1</text>
<line x1="852.2" y1="775.5" x2="1172.3" y2="775.5" stroke="#000" stroke-width="2.8" stroke-linecap="butt" stroke-dasharray="12.6 11.9"/>
<line x1="852.2" y1="809.98" x2="1172.3" y2="809.98" stroke="#000" stroke-width="2.8" stroke-linecap="butt" stroke-dasharray="12.6 11.9"/>
<line x1="852.2" y1="844.46" x2="1172.3" y2="844.46" stroke="#000" stroke-width="2.8" stroke-linecap="butt" stroke-dasharray="12.6 11.9"/>
<line x1="852.2" y1="878.94" x2="1172.3" y2="878.94" stroke="#000" stroke-width="2.8" stroke-linecap="butt" stroke-dasharray="12.6 11.9"/>
<line x1="852.2" y1="913.42" x2="1172.3" y2="913.42" stroke="#000" stroke-width="2.8" stroke-linecap="butt" stroke-dasharray="12.6 11.9"/>
<rect x="1073.4" y="760.45" width="98.9" height="30.1" fill="#7f7f7f"/>
<rect x="967.7" y="794.93" width="204.6" height="30.1" fill="#7f7f7f"/>
<rect x="852.2" y="829.41" width="320.1" height="30.1" fill="#7f7f7f"/>
<rect x="903.4" y="841.06" width="16.6" height="6.8" fill="#a020f0"/>
<rect x="926.2" y="841.06" width="19.4" height="6.8" fill="#a020f0"/>
<rect x="852.2" y="863.89" width="238.4" height="30.1" fill="#7f7f7f"/>
<rect x="903.4" y="875.54" width="16.6" height="6.8" fill="#a020f0"/>
<rect x="926.2" y="875.54" width="19.4" height="6.8" fill="#a020f0"/>
<rect x="852.2" y="898.37" width="75.1" height="30.1" fill="#7f7f7f"/>
<rect x="925.2" y="905.92" width="2.5" height="6.4" fill="#ffff00"/>
<rect x="903.4" y="914.52" width="16.6" height="6.4" fill="#a020f0"/>
<line x1="1173.8" y1="755.2" x2="1173.8" y2="933.6" stroke="#000" stroke-width="2.3" stroke-linecap="butt"/>
<line x1="851" y1="933.6" x2="1175" y2="933.6" stroke="#000" stroke-width="5" stroke-linecap="butt"/>
<line x1="852.2" y1="933.6" x2="852.2" y2="941.1" stroke="#000" stroke-width="2.2" stroke-linecap="butt"/>
<text x="852.2" y="976.2" font-size="34" text-anchor="middle" fill="#4d4d4d" stroke="#4d4d4d" stroke-width="0.3">1</text>
<line x1="959.4" y1="933.6" x2="959.4" y2="941.1" stroke="#000" stroke-width="2.2" stroke-linecap="butt"/>
<text x="959.4" y="976.2" font-size="34" text-anchor="middle" fill="#4d4d4d" stroke="#4d4d4d" stroke-width="0.3">182</text>
<line x1="1066.6" y1="933.6" x2="1066.6" y2="941.1" stroke="#000" stroke-width="2.2" stroke-linecap="butt"/>
<text x="1066.6" y="976.2" font-size="34" text-anchor="middle" fill="#4d4d4d" stroke="#4d4d4d" stroke-width="0.3">365</text>
<line x1="1173.8" y1="933.6" x2="1173.8" y2="941.1" stroke="#000" stroke-width="2.2" stroke-linecap="butt"/>
<text x="1173.8" y="976.2" font-size="34" text-anchor="middle" fill="#4d4d4d" stroke="#4d4d4d" stroke-width="0.3">548</text>
<rect x="1251.9" y="756.42" width="6" height="32.16" fill="#7f7f7f"/>
<rect x="1251.9" y="792.35" width="8.1" height="32.16" fill="#7f7f7f"/>
<rect x="1251.9" y="828.28" width="79.1" height="32.16" fill="#7f7f7f"/>
<rect x="1251.9" y="864.21" width="56.6" height="32.16" fill="#7f7f7f"/>
<rect x="1251.9" y="900.14" width="116.3" height="32.16" fill="#7f7f7f"/>
<line x1="1331.9" y1="937.5" x2="1331.9" y2="752" stroke="#000" stroke-width="2.7" stroke-linecap="butt" stroke-dasharray="12.2 12.3"/>
<circle cx="1255.8" cy="772.5" r="3" fill="#fff" stroke="#000" stroke-width="1.8"/>
<circle cx="1257" cy="772.5" r="3" fill="#fff" stroke="#000" stroke-width="1.8"/>
<circle cx="1260" cy="772.5" r="3" fill="#fff" stroke="#000" stroke-width="1.8"/>
<circle cx="1262" cy="772.5" r="3" fill="#fff" stroke="#000" stroke-width="1.8"/>
<circle cx="1264.9" cy="772.5" r="3" fill="#fff" stroke="#000" stroke-width="1.8"/>
<text x="1284.3" y="793" font-size="40" text-anchor="middle" fill="#000" stroke="#000" stroke-width="0.3" style="stroke-width:0.75px">*</text>
<text x="1459.3" y="781.3" font-size="25.5" fill="#000" stroke="#000" stroke-width="0.3">5</text>
<text x="1498.6" y="781.3" font-size="25.5" fill="#000" stroke="#000" stroke-width="0.3">&lt;0.001</text>
<circle cx="1257.3" cy="808.43" r="3" fill="#fff" stroke="#000" stroke-width="1.8"/>
<circle cx="1259" cy="808.43" r="3" fill="#fff" stroke="#000" stroke-width="1.8"/>
<circle cx="1261" cy="808.43" r="3" fill="#fff" stroke="#000" stroke-width="1.8"/>
<circle cx="1264.9" cy="808.43" r="3" fill="#fff" stroke="#000" stroke-width="1.8"/>
<circle cx="1258" cy="808.43" r="3" fill="#fff" stroke="#000" stroke-width="1.8"/>
<text x="1284.7" y="828.93" font-size="40" text-anchor="middle" fill="#000" stroke="#000" stroke-width="0.3" style="stroke-width:0.75px">*</text>
<text x="1459.3" y="817.23" font-size="25.5" fill="#000" stroke="#000" stroke-width="0.3">5</text>
<text x="1498.6" y="817.23" font-size="25.5" fill="#000" stroke="#000" stroke-width="0.3">&lt;0.001</text>
<line x1="1322.2" y1="844.36" x2="1343.3" y2="844.36" stroke="#000" stroke-width="2.2" stroke-linecap="butt"/>
<line x1="1322.2" y1="838.86" x2="1322.2" y2="849.86" stroke="#000" stroke-width="2.4" stroke-linecap="butt"/>
<line x1="1343.3" y1="838.86" x2="1343.3" y2="849.86" stroke="#000" stroke-width="2.4" stroke-linecap="butt"/>
<circle cx="1313.8" cy="844.36" r="3" fill="#fff" stroke="#000" stroke-width="1.8"/>
<circle cx="1343.3" cy="844.36" r="3" fill="#fff" stroke="#000" stroke-width="1.8"/>
<circle cx="1342.4" cy="844.36" r="3" fill="#fff" stroke="#000" stroke-width="1.8"/>
<text x="1459.3" y="853.16" font-size="25.5" fill="#000" stroke="#000" stroke-width="0.3">3</text>
<line x1="1301" y1="880.29" x2="1319" y2="880.29" stroke="#000" stroke-width="2.2" stroke-linecap="butt"/>
<line x1="1301" y1="874.79" x2="1301" y2="885.79" stroke="#000" stroke-width="2.4" stroke-linecap="butt"/>
<line x1="1319" y1="874.79" x2="1319" y2="885.79" stroke="#000" stroke-width="2.4" stroke-linecap="butt"/>
<circle cx="1288.1" cy="880.29" r="3" fill="#fff" stroke="#000" stroke-width="1.8"/>
<circle cx="1301.1" cy="880.29" r="3" fill="#fff" stroke="#000" stroke-width="1.8"/>
<circle cx="1325" cy="880.29" r="3" fill="#fff" stroke="#000" stroke-width="1.8"/>
<circle cx="1342.9" cy="880.29" r="3" fill="#fff" stroke="#000" stroke-width="1.8"/>
<circle cx="1303" cy="880.29" r="3" fill="#fff" stroke="#000" stroke-width="1.8"/>
<text x="1459.3" y="889.09" font-size="25.5" fill="#000" stroke="#000" stroke-width="0.3">5</text>
<text x="1498.6" y="889.09" font-size="25.5" fill="#000" stroke="#000" stroke-width="0.3">0.148</text>
<line x1="1349.6" y1="916.22" x2="1392.8" y2="916.22" stroke="#000" stroke-width="2.2" stroke-linecap="butt"/>
<line x1="1349.6" y1="910.72" x2="1349.6" y2="921.72" stroke="#000" stroke-width="2.4" stroke-linecap="butt"/>
<line x1="1392.8" y1="910.72" x2="1392.8" y2="921.72" stroke="#000" stroke-width="2.4" stroke-linecap="butt"/>
<circle cx="1324.7" cy="916.22" r="3" fill="#fff" stroke="#000" stroke-width="1.8"/>
<circle cx="1353.8" cy="916.22" r="3" fill="#fff" stroke="#000" stroke-width="1.8"/>
<circle cx="1392.8" cy="916.22" r="3" fill="#fff" stroke="#000" stroke-width="1.8"/>
<circle cx="1449.3" cy="916.22" r="3" fill="#fff" stroke="#000" stroke-width="1.8"/>
<circle cx="1352" cy="916.22" r="3" fill="#fff" stroke="#000" stroke-width="1.8"/>
<text x="1459.3" y="925.02" font-size="25.5" fill="#000" stroke="#000" stroke-width="0.3">5</text>
<text x="1498.6" y="925.02" font-size="25.5" fill="#000" stroke="#000" stroke-width="0.3">0.125</text>
<line x1="1251.9" y1="752" x2="1251.9" y2="940.15" stroke="#000" stroke-width="5.3" stroke-linecap="butt"/>
<line x1="1249.25" y1="937.5" x2="1588" y2="937.5" stroke="#000" stroke-width="5.3" stroke-linecap="butt"/>
<line x1="1251.9" y1="937.5" x2="1251.9" y2="945" stroke="#000" stroke-width="2.2" stroke-linecap="butt"/>
<line x1="1331.9" y1="937.5" x2="1331.9" y2="945" stroke="#000" stroke-width="2.2" stroke-linecap="butt"/>
<text x="1251.9" y="979.9" font-size="34" text-anchor="middle" fill="#4d4d4d" stroke="#4d4d4d" stroke-width="0.3">0%</text>
<text x="1331.9" y="979.9" font-size="34" text-anchor="middle" fill="#4d4d4d" stroke="#4d4d4d" stroke-width="0.3">100%</text>
<rect x="1664.8" y="756.91" width="31" height="32.18" fill="#7f7f7f"/>
<rect x="1664.8" y="792.87" width="59.4" height="32.18" fill="#7f7f7f"/>
<rect x="1664.8" y="828.83" width="106.4" height="32.18" fill="#7f7f7f"/>
<rect x="1664.8" y="864.79" width="71.2" height="32.18" fill="#7f7f7f"/>
<rect x="1664.8" y="900.75" width="105.4" height="32.18" fill="#7f7f7f"/>
<line x1="1772.2" y1="937.4" x2="1772.2" y2="751.3" stroke="#000" stroke-width="2.7" stroke-linecap="butt" stroke-dasharray="12.2 12.3"/>
<line x1="1689.2" y1="773" x2="1704" y2="773" stroke="#000" stroke-width="2.2" stroke-linecap="butt"/>
<line x1="1689.2" y1="767.5" x2="1689.2" y2="778.5" stroke="#000" stroke-width="2.4" stroke-linecap="butt"/>
<line x1="1704" y1="767.5" x2="1704" y2="778.5" stroke="#000" stroke-width="2.4" stroke-linecap="butt"/>
<circle cx="1675.8" cy="773" r="3" fill="#fff" stroke="#000" stroke-width="1.8"/>
<circle cx="1685" cy="773" r="3" fill="#fff" stroke="#000" stroke-width="1.8"/>
<circle cx="1700.5" cy="773" r="3" fill="#fff" stroke="#000" stroke-width="1.8"/>
<circle cx="1705.6" cy="773" r="3" fill="#fff" stroke="#000" stroke-width="1.8"/>
<circle cx="1724.6" cy="773" r="3" fill="#fff" stroke="#000" stroke-width="1.8"/>
<circle cx="1690" cy="773" r="3" fill="#fff" stroke="#000" stroke-width="1.8"/>
<circle cx="1698" cy="773" r="3" fill="#fff" stroke="#000" stroke-width="1.8"/>
<text x="1743.8" y="793.5" font-size="40" text-anchor="middle" fill="#000" stroke="#000" stroke-width="0.3" style="stroke-width:0.75px">*</text>
<text x="1872.4" y="781.8" font-size="25.5" fill="#000" stroke="#000" stroke-width="0.3">7</text>
<text x="1901.3" y="781.8" font-size="25.5" fill="#000" stroke="#000" stroke-width="0.3">&lt;0.001</text>
<line x1="1717.6" y1="808.96" x2="1732.4" y2="808.96" stroke="#000" stroke-width="2.2" stroke-linecap="butt"/>
<line x1="1717.6" y1="803.46" x2="1717.6" y2="814.46" stroke="#000" stroke-width="2.4" stroke-linecap="butt"/>
<line x1="1732.4" y1="803.46" x2="1732.4" y2="814.46" stroke="#000" stroke-width="2.4" stroke-linecap="butt"/>
<circle cx="1698.4" cy="808.96" r="3" fill="#fff" stroke="#000" stroke-width="1.8"/>
<circle cx="1709.4" cy="808.96" r="3" fill="#fff" stroke="#000" stroke-width="1.8"/>
<circle cx="1727.3" cy="808.96" r="3" fill="#fff" stroke="#000" stroke-width="1.8"/>
<circle cx="1733.5" cy="808.96" r="3" fill="#fff" stroke="#000" stroke-width="1.8"/>
<circle cx="1739.7" cy="808.96" r="3" fill="#fff" stroke="#000" stroke-width="1.8"/>
<circle cx="1750" cy="808.96" r="3" fill="#fff" stroke="#000" stroke-width="1.8"/>
<circle cx="1720" cy="808.96" r="3" fill="#fff" stroke="#000" stroke-width="1.8"/>
<text x="1769.5" y="829.46" font-size="40" text-anchor="middle" fill="#000" stroke="#000" stroke-width="0.3" style="stroke-width:0.75px">*</text>
<text x="1872.4" y="817.76" font-size="25.5" fill="#000" stroke="#000" stroke-width="0.3">7</text>
<text x="1901.3" y="817.76" font-size="25.5" fill="#000" stroke="#000" stroke-width="0.3">0.014</text>
<line x1="1757.2" y1="844.92" x2="1792.2" y2="844.92" stroke="#000" stroke-width="2.2" stroke-linecap="butt"/>
<line x1="1757.2" y1="839.42" x2="1757.2" y2="850.42" stroke="#000" stroke-width="2.4" stroke-linecap="butt"/>
<line x1="1792.2" y1="839.42" x2="1792.2" y2="850.42" stroke="#000" stroke-width="2.4" stroke-linecap="butt"/>
<circle cx="1719" cy="844.92" r="3" fill="#fff" stroke="#000" stroke-width="1.8"/>
<circle cx="1722.1" cy="844.92" r="3" fill="#fff" stroke="#000" stroke-width="1.8"/>
<circle cx="1757.2" cy="844.92" r="3" fill="#fff" stroke="#000" stroke-width="1.8"/>
<circle cx="1764.4" cy="844.92" r="3" fill="#fff" stroke="#000" stroke-width="1.8"/>
<circle cx="1803.5" cy="844.92" r="3" fill="#fff" stroke="#000" stroke-width="1.8"/>
<circle cx="1808.7" cy="844.92" r="3" fill="#fff" stroke="#000" stroke-width="1.8"/>
<circle cx="1829.7" cy="844.92" r="3" fill="#fff" stroke="#000" stroke-width="1.8"/>
<circle cx="1856.7" cy="844.92" r="3" fill="#fff" stroke="#000" stroke-width="1.8"/>
<text x="1872.4" y="853.72" font-size="25.5" fill="#000" stroke="#000" stroke-width="0.3">8</text>
<line x1="1723.2" y1="880.88" x2="1760.3" y2="880.88" stroke="#000" stroke-width="2.2" stroke-linecap="butt"/>
<line x1="1723.2" y1="875.38" x2="1723.2" y2="886.38" stroke="#000" stroke-width="2.4" stroke-linecap="butt"/>
<line x1="1760.3" y1="875.38" x2="1760.3" y2="886.38" stroke="#000" stroke-width="2.4" stroke-linecap="butt"/>
<circle cx="1689.6" cy="880.88" r="3" fill="#fff" stroke="#000" stroke-width="1.8"/>
<circle cx="1716" cy="880.88" r="3" fill="#fff" stroke="#000" stroke-width="1.8"/>
<circle cx="1739" cy="880.88" r="3" fill="#fff" stroke="#000" stroke-width="1.8"/>
<circle cx="1753" cy="880.88" r="3" fill="#fff" stroke="#000" stroke-width="1.8"/>
<circle cx="1760.3" cy="880.88" r="3" fill="#fff" stroke="#000" stroke-width="1.8"/>
<circle cx="1772.6" cy="880.88" r="3" fill="#fff" stroke="#000" stroke-width="1.8"/>
<circle cx="1774.7" cy="880.88" r="3" fill="#fff" stroke="#000" stroke-width="1.8"/>
<text x="1872.4" y="889.68" font-size="25.5" fill="#000" stroke="#000" stroke-width="0.3">7</text>
<text x="1901.3" y="889.68" font-size="25.5" fill="#000" stroke="#000" stroke-width="0.3">0.142</text>
<line x1="1749" y1="916.84" x2="1796.3" y2="916.84" stroke="#000" stroke-width="2.2" stroke-linecap="butt"/>
<line x1="1749" y1="911.34" x2="1749" y2="922.34" stroke="#000" stroke-width="2.4" stroke-linecap="butt"/>
<line x1="1796.3" y1="911.34" x2="1796.3" y2="922.34" stroke="#000" stroke-width="2.4" stroke-linecap="butt"/>
<circle cx="1704.6" cy="916.84" r="3" fill="#fff" stroke="#000" stroke-width="1.8"/>
<circle cx="1724.2" cy="916.84" r="3" fill="#fff" stroke="#000" stroke-width="1.8"/>
<circle cx="1763" cy="916.84" r="3" fill="#fff" stroke="#000" stroke-width="1.8"/>
<circle cx="1796.3" cy="916.84" r="3" fill="#fff" stroke="#000" stroke-width="1.8"/>
<circle cx="1812.4" cy="916.84" r="3" fill="#fff" stroke="#000" stroke-width="1.8"/>
<circle cx="1823.1" cy="916.84" r="3" fill="#fff" stroke="#000" stroke-width="1.8"/>
<circle cx="1862.3" cy="916.84" r="3" fill="#fff" stroke="#000" stroke-width="1.8"/>
<text x="1872.4" y="925.64" font-size="25.5" fill="#000" stroke="#000" stroke-width="0.3">7</text>
<text x="1901.3" y="925.64" font-size="25.5" fill="#000" stroke="#000" stroke-width="0.3">0.935</text>
<line x1="1664.8" y1="751.3" x2="1664.8" y2="940.05" stroke="#000" stroke-width="5.3" stroke-linecap="butt"/>
<line x1="1662.15" y1="937.4" x2="2002" y2="937.4" stroke="#000" stroke-width="5.3" stroke-linecap="butt"/>
<line x1="1664.8" y1="937.4" x2="1664.8" y2="944.9" stroke="#000" stroke-width="2.2" stroke-linecap="butt"/>
<line x1="1772.2" y1="937.4" x2="1772.2" y2="944.9" stroke="#000" stroke-width="2.2" stroke-linecap="butt"/>
<text x="1664.8" y="979.8" font-size="34" text-anchor="middle" fill="#4d4d4d" stroke="#4d4d4d" stroke-width="0.3">0%</text>
<text x="1772.2" y="979.8" font-size="34" text-anchor="middle" fill="#4d4d4d" stroke="#4d4d4d" stroke-width="0.3">100%</text>
<text x="843.8" y="1052.7" font-size="33.9" fill="#000" stroke="#000" stroke-width="0.3" transform="translate(843.8 1052.7) scale(1 1.045) translate(-843.8 -1052.7)">Prrx1</text>
<line x1="852.2" y1="1076.75" x2="1172.3" y2="1076.75" stroke="#000" stroke-width="2.8" stroke-linecap="butt" stroke-dasharray="12.6 11.9"/>
<line x1="852.2" y1="1111.25" x2="1172.3" y2="1111.25" stroke="#000" stroke-width="2.8" stroke-linecap="butt" stroke-dasharray="12.6 11.9"/>
<line x1="852.2" y1="1145.75" x2="1172.3" y2="1145.75" stroke="#000" stroke-width="2.8" stroke-linecap="butt" stroke-dasharray="12.6 11.9"/>
<line x1="852.2" y1="1180.25" x2="1172.3" y2="1180.25" stroke="#000" stroke-width="2.8" stroke-linecap="butt" stroke-dasharray="12.6 11.9"/>
<line x1="852.2" y1="1214.75" x2="1172.3" y2="1214.75" stroke="#000" stroke-width="2.8" stroke-linecap="butt" stroke-dasharray="12.6 11.9"/>
<rect x="1086.4" y="1061.5" width="85.9" height="30.5" fill="#7f7f7f"/>
<rect x="1024.3" y="1096" width="148" height="30.5" fill="#7f7f7f"/>
<rect x="852.2" y="1130.5" width="320.1" height="30.5" fill="#7f7f7f"/>
<rect x="860" y="1142.35" width="6.8" height="6.8" fill="#a020f0"/>
<rect x="903.2" y="1142.35" width="6.8" height="6.8" fill="#a020f0"/>
<rect x="852.2" y="1165" width="143.3" height="30.5" fill="#7f7f7f"/>
<rect x="860" y="1176.85" width="6.8" height="6.8" fill="#a020f0"/>
<rect x="903.2" y="1176.85" width="6.8" height="6.8" fill="#a020f0"/>
<rect x="852.2" y="1199.5" width="66.3" height="30.5" fill="#7f7f7f"/>
<rect x="860" y="1211.35" width="6.8" height="6.8" fill="#a020f0"/>
<rect x="903.2" y="1211.35" width="6.8" height="6.8" fill="#a020f0"/>
<line x1="1173.8" y1="1056.2" x2="1173.8" y2="1234.7" stroke="#000" stroke-width="2.3" stroke-linecap="butt"/>
<line x1="851" y1="1234.7" x2="1175" y2="1234.7" stroke="#000" stroke-width="5" stroke-linecap="butt"/>
<line x1="852.2" y1="1234.7" x2="852.2" y2="1242.2" stroke="#000" stroke-width="2.2" stroke-linecap="butt"/>
<text x="852.2" y="1277.3" font-size="34" text-anchor="middle" fill="#4d4d4d" stroke="#4d4d4d" stroke-width="0.3">1</text>
<line x1="959.4" y1="1234.7" x2="959.4" y2="1242.2" stroke="#000" stroke-width="2.2" stroke-linecap="butt"/>
<text x="959.4" y="1277.3" font-size="34" text-anchor="middle" fill="#4d4d4d" stroke="#4d4d4d" stroke-width="0.3">338</text>
<line x1="1066.6" y1="1234.7" x2="1066.6" y2="1242.2" stroke="#000" stroke-width="2.2" stroke-linecap="butt"/>
<text x="1066.6" y="1277.3" font-size="34" text-anchor="middle" fill="#4d4d4d" stroke="#4d4d4d" stroke-width="0.3">676</text>
<line x1="1173.8" y1="1234.7" x2="1173.8" y2="1242.2" stroke="#000" stroke-width="2.2" stroke-linecap="butt"/>
<text x="1173.8" y="1277.3" font-size="34" text-anchor="middle" fill="#4d4d4d" stroke="#4d4d4d" stroke-width="0.3">1015</text>
<rect x="1251.9" y="1058.37" width="19.7" height="32.07" fill="#7f7f7f"/>
<rect x="1251.9" y="1094.2" width="19.7" height="32.07" fill="#7f7f7f"/>
<rect x="1251.9" y="1130.03" width="164.1" height="32.07" fill="#7f7f7f"/>
<rect x="1251.9" y="1165.86" width="29.6" height="32.07" fill="#7f7f7f"/>
<rect x="1251.9" y="1201.69" width="15.9" height="32.07" fill="#7f7f7f"/>
<line x1="1417.1" y1="1238.1" x2="1417.1" y2="1052.6" stroke="#000" stroke-width="2.7" stroke-linecap="butt" stroke-dasharray="12.2 12.3"/>
<line x1="1267.4" y1="1074.4" x2="1273.7" y2="1074.4" stroke="#000" stroke-width="2.2" stroke-linecap="butt"/>
<line x1="1267.4" y1="1068.9" x2="1267.4" y2="1079.9" stroke="#000" stroke-width="2.4" stroke-linecap="butt"/>
<line x1="1273.7" y1="1068.9" x2="1273.7" y2="1079.9" stroke="#000" stroke-width="2.4" stroke-linecap="butt"/>
<circle cx="1263.6" cy="1074.4" r="3" fill="#fff" stroke="#000" stroke-width="1.8"/>
<circle cx="1269.5" cy="1074.4" r="3" fill="#fff" stroke="#000" stroke-width="1.8"/>
<circle cx="1272.7" cy="1074.4" r="3" fill="#fff" stroke="#000" stroke-width="1.8"/>
<circle cx="1277.5" cy="1074.4" r="3" fill="#fff" stroke="#000" stroke-width="1.8"/>
<circle cx="1266" cy="1074.4" r="3" fill="#fff" stroke="#000" stroke-width="1.8"/>
<text x="1296.9" y="1094.9" font-size="40" text-anchor="middle" fill="#000" stroke="#000" stroke-width="0.3" style="stroke-width:0.75px">*</text>
<text x="1459.3" y="1083.2" font-size="25.5" fill="#000" stroke="#000" stroke-width="0.3">5</text>
<text x="1498.6" y="1083.2" font-size="25.5" fill="#000" stroke="#000" stroke-width="0.3">&lt;0.001</text>
<line x1="1268" y1="1110.23" x2="1276" y2="1110.23" stroke="#000" stroke-width="2.2" stroke-linecap="butt"/>
<line x1="1268" y1="1104.73" x2="1268" y2="1115.73" stroke="#000" stroke-width="2.4" stroke-linecap="butt"/>
<line x1="1276" y1="1104.73" x2="1276" y2="1115.73" stroke="#000" stroke-width="2.4" stroke-linecap="butt"/>
<circle cx="1263.2" cy="1110.23" r="3" fill="#fff" stroke="#000" stroke-width="1.8"/>
<circle cx="1269.5" cy="1110.23" r="3" fill="#fff" stroke="#000" stroke-width="1.8"/>
<circle cx="1274.8" cy="1110.23" r="3" fill="#fff" stroke="#000" stroke-width="1.8"/>
<circle cx="1279" cy="1110.23" r="3" fill="#fff" stroke="#000" stroke-width="1.8"/>
<circle cx="1277" cy="1110.23" r="3" fill="#fff" stroke="#000" stroke-width="1.8"/>
<text x="1298" y="1130.73" font-size="40" text-anchor="middle" fill="#000" stroke="#000" stroke-width="0.3" style="stroke-width:0.75px">*</text>
<text x="1459.3" y="1119.03" font-size="25.5" fill="#000" stroke="#000" stroke-width="0.3">5</text>
<text x="1498.6" y="1119.03" font-size="25.5" fill="#000" stroke="#000" stroke-width="0.3">&lt;0.001</text>
<line x1="1405" y1="1146.06" x2="1432.2" y2="1146.06" stroke="#000" stroke-width="2.2" stroke-linecap="butt"/>
<line x1="1405" y1="1140.56" x2="1405" y2="1151.56" stroke="#000" stroke-width="2.4" stroke-linecap="butt"/>
<line x1="1432.2" y1="1140.56" x2="1432.2" y2="1151.56" stroke="#000" stroke-width="2.4" stroke-linecap="butt"/>
<circle cx="1378.5" cy="1146.06" r="3" fill="#fff" stroke="#000" stroke-width="1.8"/>
<circle cx="1405" cy="1146.06" r="3" fill="#fff" stroke="#000" stroke-width="1.8"/>
<circle cx="1419.2" cy="1146.06" r="3" fill="#fff" stroke="#000" stroke-width="1.8"/>
<circle cx="1445.5" cy="1146.06" r="3" fill="#fff" stroke="#000" stroke-width="1.8"/>
<circle cx="1449.7" cy="1146.06" r="3" fill="#fff" stroke="#000" stroke-width="1.8"/>
<text x="1459.3" y="1154.86" font-size="25.5" fill="#000" stroke="#000" stroke-width="0.3">5</text>
<line x1="1276" y1="1181.89" x2="1286" y2="1181.89" stroke="#000" stroke-width="2.2" stroke-linecap="butt"/>
<line x1="1276" y1="1176.39" x2="1276" y2="1187.39" stroke="#000" stroke-width="2.4" stroke-linecap="butt"/>
<line x1="1286" y1="1176.39" x2="1286" y2="1187.39" stroke="#000" stroke-width="2.4" stroke-linecap="butt"/>
<circle cx="1273.7" cy="1181.89" r="3" fill="#fff" stroke="#000" stroke-width="1.8"/>
<circle cx="1278.6" cy="1181.89" r="3" fill="#fff" stroke="#000" stroke-width="1.8"/>
<circle cx="1283.2" cy="1181.89" r="3" fill="#fff" stroke="#000" stroke-width="1.8"/>
<circle cx="1291.2" cy="1181.89" r="3" fill="#fff" stroke="#000" stroke-width="1.8"/>
<circle cx="1280" cy="1181.89" r="3" fill="#fff" stroke="#000" stroke-width="1.8"/>
<text x="1310.2" y="1202.39" font-size="40" text-anchor="middle" fill="#000" stroke="#000" stroke-width="0.3" style="stroke-width:0.75px">*</text>
<text x="1459.3" y="1190.69" font-size="25.5" fill="#000" stroke="#000" stroke-width="0.3">5</text>
<text x="1498.6" y="1190.69" font-size="25.5" fill="#000" stroke="#000" stroke-width="0.3">&lt;0.001</text>
<line x1="1264" y1="1217.72" x2="1268.5" y2="1217.72" stroke="#000" stroke-width="2.2" stroke-linecap="butt"/>
<line x1="1264" y1="1212.22" x2="1264" y2="1223.22" stroke="#000" stroke-width="2.4" stroke-linecap="butt"/>
<line x1="1268.5" y1="1212.22" x2="1268.5" y2="1223.22" stroke="#000" stroke-width="2.4" stroke-linecap="butt"/>
<circle cx="1264.2" cy="1217.72" r="3" fill="#fff" stroke="#000" stroke-width="1.8"/>
<circle cx="1266.3" cy="1217.72" r="3" fill="#fff" stroke="#000" stroke-width="1.8"/>
<circle cx="1270.1" cy="1217.72" r="3" fill="#fff" stroke="#000" stroke-width="1.8"/>
<circle cx="1265" cy="1217.72" r="3" fill="#fff" stroke="#000" stroke-width="1.8"/>
<circle cx="1268" cy="1217.72" r="3" fill="#fff" stroke="#000" stroke-width="1.8"/>
<text x="1290" y="1238.22" font-size="40" text-anchor="middle" fill="#000" stroke="#000" stroke-width="0.3" style="stroke-width:0.75px">*</text>
<text x="1459.3" y="1226.52" font-size="25.5" fill="#000" stroke="#000" stroke-width="0.3">5</text>
<text x="1498.6" y="1226.52" font-size="25.5" fill="#000" stroke="#000" stroke-width="0.3">&lt;0.001</text>
<line x1="1251.9" y1="1052.6" x2="1251.9" y2="1240.75" stroke="#000" stroke-width="5.3" stroke-linecap="butt"/>
<line x1="1249.25" y1="1238.1" x2="1588" y2="1238.1" stroke="#000" stroke-width="5.3" stroke-linecap="butt"/>
<line x1="1251.9" y1="1238.1" x2="1251.9" y2="1245.6" stroke="#000" stroke-width="2.2" stroke-linecap="butt"/>
<line x1="1417.1" y1="1238.1" x2="1417.1" y2="1245.6" stroke="#000" stroke-width="2.2" stroke-linecap="butt"/>
<text x="1251.9" y="1280.5" font-size="34" text-anchor="middle" fill="#4d4d4d" stroke="#4d4d4d" stroke-width="0.3">0%</text>
<text x="1417.1" y="1280.5" font-size="34" text-anchor="middle" fill="#4d4d4d" stroke="#4d4d4d" stroke-width="0.3">100%</text>
<rect x="1664.8" y="1057.86" width="16.5" height="32.28" fill="#7f7f7f"/>
<rect x="1664.8" y="1093.93" width="16.1" height="32.28" fill="#7f7f7f"/>
<rect x="1664.8" y="1130" width="89.3" height="32.28" fill="#7f7f7f"/>
<rect x="1664.8" y="1166.07" width="60.8" height="32.28" fill="#7f7f7f"/>
<rect x="1664.8" y="1202.14" width="31" height="32.28" fill="#7f7f7f"/>
<line x1="1755.5" y1="1238.9" x2="1755.5" y2="1052.4" stroke="#000" stroke-width="2.7" stroke-linecap="butt" stroke-dasharray="12.2 12.3"/>
<circle cx="1676.8" cy="1074" r="3" fill="#fff" stroke="#000" stroke-width="1.8"/>
<circle cx="1680.9" cy="1074" r="3" fill="#fff" stroke="#000" stroke-width="1.8"/>
<circle cx="1687.5" cy="1074" r="3" fill="#fff" stroke="#000" stroke-width="1.8"/>
<circle cx="1678" cy="1074" r="3" fill="#fff" stroke="#000" stroke-width="1.8"/>
<text x="1708.1" y="1094.5" font-size="40" text-anchor="middle" fill="#000" stroke="#000" stroke-width="0.3" style="stroke-width:0.75px">*</text>
<text x="1872.4" y="1082.8" font-size="25.5" fill="#000" stroke="#000" stroke-width="0.3">4</text>
<text x="1901.3" y="1082.8" font-size="25.5" fill="#000" stroke="#000" stroke-width="0.3">&lt;0.001</text>
<circle cx="1676.4" cy="1110.07" r="3" fill="#fff" stroke="#000" stroke-width="1.8"/>
<circle cx="1680.9" cy="1110.07" r="3" fill="#fff" stroke="#000" stroke-width="1.8"/>
<circle cx="1688.1" cy="1110.07" r="3" fill="#fff" stroke="#000" stroke-width="1.8"/>
<circle cx="1679" cy="1110.07" r="3" fill="#fff" stroke="#000" stroke-width="1.8"/>
<text x="1707.7" y="1130.57" font-size="40" text-anchor="middle" fill="#000" stroke="#000" stroke-width="0.3" style="stroke-width:0.75px">*</text>
<text x="1872.4" y="1118.87" font-size="25.5" fill="#000" stroke="#000" stroke-width="0.3">4</text>
<text x="1901.3" y="1118.87" font-size="25.5" fill="#000" stroke="#000" stroke-width="0.3">&lt;0.001</text>
<line x1="1743.8" y1="1146.14" x2="1769.5" y2="1146.14" stroke="#000" stroke-width="2.2" stroke-linecap="butt"/>
<line x1="1743.8" y1="1140.64" x2="1743.8" y2="1151.64" stroke="#000" stroke-width="2.4" stroke-linecap="butt"/>
<line x1="1769.5" y1="1140.64" x2="1769.5" y2="1151.64" stroke="#000" stroke-width="2.4" stroke-linecap="butt"/>
<circle cx="1712.9" cy="1146.14" r="3" fill="#fff" stroke="#000" stroke-width="1.8"/>
<circle cx="1717" cy="1146.14" r="3" fill="#fff" stroke="#000" stroke-width="1.8"/>
<circle cx="1730.4" cy="1146.14" r="3" fill="#fff" stroke="#000" stroke-width="1.8"/>
<circle cx="1736.1" cy="1146.14" r="3" fill="#fff" stroke="#000" stroke-width="1.8"/>
<circle cx="1743.8" cy="1146.14" r="3" fill="#fff" stroke="#000" stroke-width="1.8"/>
<circle cx="1765.4" cy="1146.14" r="3" fill="#fff" stroke="#000" stroke-width="1.8"/>
<circle cx="1789.7" cy="1146.14" r="3" fill="#fff" stroke="#000" stroke-width="1.8"/>
<circle cx="1841.7" cy="1146.14" r="3" fill="#fff" stroke="#000" stroke-width="1.8"/>
<circle cx="1846.8" cy="1146.14" r="3" fill="#fff" stroke="#000" stroke-width="1.8"/>
<circle cx="1862.3" cy="1146.14" r="3" fill="#fff" stroke="#000" stroke-width="1.8"/>
<circle cx="1714" cy="1146.14" r="3" fill="#fff" stroke="#000" stroke-width="1.8"/>
<circle cx="1733" cy="1146.14" r="3" fill="#fff" stroke="#000" stroke-width="1.8"/>
<text x="1872.4" y="1154.94" font-size="25.5" fill="#000" stroke="#000" stroke-width="0.3">12</text>
<line x1="1718" y1="1182.21" x2="1735.5" y2="1182.21" stroke="#000" stroke-width="2.2" stroke-linecap="butt"/>
<line x1="1718" y1="1176.71" x2="1718" y2="1187.71" stroke="#000" stroke-width="2.4" stroke-linecap="butt"/>
<line x1="1735.5" y1="1176.71" x2="1735.5" y2="1187.71" stroke="#000" stroke-width="2.4" stroke-linecap="butt"/>
<circle cx="1703.6" cy="1182.21" r="3" fill="#fff" stroke="#000" stroke-width="1.8"/>
<circle cx="1706.7" cy="1182.21" r="3" fill="#fff" stroke="#000" stroke-width="1.8"/>
<circle cx="1718" cy="1182.21" r="3" fill="#fff" stroke="#000" stroke-width="1.8"/>
<circle cx="1737.6" cy="1182.21" r="3" fill="#fff" stroke="#000" stroke-width="1.8"/>
<circle cx="1742.7" cy="1182.21" r="3" fill="#fff" stroke="#000" stroke-width="1.8"/>
<circle cx="1766.4" cy="1182.21" r="3" fill="#fff" stroke="#000" stroke-width="1.8"/>
<circle cx="1767.9" cy="1182.21" r="3" fill="#fff" stroke="#000" stroke-width="1.8"/>
<circle cx="1830.3" cy="1182.21" r="3" fill="#fff" stroke="#000" stroke-width="1.8"/>
<circle cx="1705" cy="1182.21" r="3" fill="#fff" stroke="#000" stroke-width="1.8"/>
<circle cx="1740" cy="1182.21" r="3" fill="#fff" stroke="#000" stroke-width="1.8"/>
<circle cx="1720" cy="1182.21" r="3" fill="#fff" stroke="#000" stroke-width="1.8"/>
<circle cx="1735" cy="1182.21" r="3" fill="#fff" stroke="#000" stroke-width="1.8"/>
<text x="1872.4" y="1191.01" font-size="25.5" fill="#000" stroke="#000" stroke-width="0.3">12</text>
<text x="1901.3" y="1191.01" font-size="25.5" fill="#000" stroke="#000" stroke-width="0.3">0.066</text>
<line x1="1691" y1="1218.28" x2="1700" y2="1218.28" stroke="#000" stroke-width="2.2" stroke-linecap="butt"/>
<line x1="1691" y1="1212.78" x2="1691" y2="1223.78" stroke="#000" stroke-width="2.4" stroke-linecap="butt"/>
<line x1="1700" y1="1212.78" x2="1700" y2="1223.78" stroke="#000" stroke-width="2.4" stroke-linecap="butt"/>
<circle cx="1685" cy="1218.28" r="3" fill="#fff" stroke="#000" stroke-width="1.8"/>
<circle cx="1691.2" cy="1218.28" r="3" fill="#fff" stroke="#000" stroke-width="1.8"/>
<circle cx="1698.4" cy="1218.28" r="3" fill="#fff" stroke="#000" stroke-width="1.8"/>
<circle cx="1707.7" cy="1218.28" r="3" fill="#fff" stroke="#000" stroke-width="1.8"/>
<circle cx="1711.8" cy="1218.28" r="3" fill="#fff" stroke="#000" stroke-width="1.8"/>
<circle cx="1688" cy="1218.28" r="3" fill="#fff" stroke="#000" stroke-width="1.8"/>
<circle cx="1694" cy="1218.28" r="3" fill="#fff" stroke="#000" stroke-width="1.8"/>
<circle cx="1705" cy="1218.28" r="3" fill="#fff" stroke="#000" stroke-width="1.8"/>
<circle cx="1710" cy="1218.28" r="3" fill="#fff" stroke="#000" stroke-width="1.8"/>
<circle cx="1696" cy="1218.28" r="3" fill="#fff" stroke="#000" stroke-width="1.8"/>
<circle cx="1689" cy="1218.28" r="3" fill="#fff" stroke="#000" stroke-width="1.8"/>
<circle cx="1700" cy="1218.28" r="3" fill="#fff" stroke="#000" stroke-width="1.8"/>
<text x="1731.4" y="1238.78" font-size="40" text-anchor="middle" fill="#000" stroke="#000" stroke-width="0.3" style="stroke-width:0.75px">*</text>
<text x="1872.4" y="1227.08" font-size="25.5" fill="#000" stroke="#000" stroke-width="0.3">12</text>
<text x="1901.3" y="1227.08" font-size="25.5" fill="#000" stroke="#000" stroke-width="0.3">&lt;0.001</text>
<line x1="1664.8" y1="1052.4" x2="1664.8" y2="1241.55" stroke="#000" stroke-width="5.3" stroke-linecap="butt"/>
<line x1="1662.15" y1="1238.9" x2="2002" y2="1238.9" stroke="#000" stroke-width="5.3" stroke-linecap="butt"/>
<line x1="1664.8" y1="1238.9" x2="1664.8" y2="1246.4" stroke="#000" stroke-width="2.2" stroke-linecap="butt"/>
<line x1="1755.5" y1="1238.9" x2="1755.5" y2="1246.4" stroke="#000" stroke-width="2.2" stroke-linecap="butt"/>
<text x="1664.8" y="1281.3" font-size="34" text-anchor="middle" fill="#4d4d4d" stroke="#4d4d4d" stroke-width="0.3">0%</text>
<text x="1755.5" y="1281.3" font-size="34" text-anchor="middle" fill="#4d4d4d" stroke="#4d4d4d" stroke-width="0.3">100%</text>
<text x="843.8" y="1354.4" font-size="33.9" fill="#000" stroke="#000" stroke-width="0.3" transform="translate(843.8 1354.4) scale(1 1.045) translate(-843.8 -1354.4)">Sema3a</text>
<line x1="852.2" y1="1377.45" x2="1172.3" y2="1377.45" stroke="#000" stroke-width="2.8" stroke-linecap="butt" stroke-dasharray="12.6 11.9"/>
<line x1="852.2" y1="1411.15" x2="1172.3" y2="1411.15" stroke="#000" stroke-width="2.8" stroke-linecap="butt" stroke-dasharray="12.6 11.9"/>
<line x1="852.2" y1="1444.85" x2="1172.3" y2="1444.85" stroke="#000" stroke-width="2.8" stroke-linecap="butt" stroke-dasharray="12.6 11.9"/>
<rect x="1075.9" y="1362.5" width="96.4" height="29.9" fill="#7f7f7f"/>
<rect x="1115.9" y="1369.95" width="57" height="6.4" fill="#ffff00"/>
<rect x="1104.4" y="1378.55" width="4.8" height="6.4" fill="#a020f0"/>
<rect x="1118.7" y="1378.55" width="5.8" height="6.4" fill="#a020f0"/>
<rect x="852.2" y="1396.2" width="320.1" height="29.9" fill="#7f7f7f"/>
<rect x="1115.9" y="1403.65" width="57" height="6.4" fill="#ffff00"/>
<rect x="959.6" y="1412.25" width="120.9" height="6.4" fill="#a020f0"/>
<rect x="1104.4" y="1412.25" width="4.8" height="6.4" fill="#a020f0"/>
<rect x="1118.7" y="1412.25" width="5.8" height="6.4" fill="#a020f0"/>
<rect x="852.2" y="1429.9" width="113" height="29.9" fill="#7f7f7f"/>
<rect x="959.6" y="1441.45" width="6" height="6.8" fill="#ffff00"/>
<line x1="1173.8" y1="1358" x2="1173.8" y2="1464" stroke="#000" stroke-width="2.3" stroke-linecap="butt"/>
<line x1="851" y1="1464" x2="1175" y2="1464" stroke="#000" stroke-width="5" stroke-linecap="butt"/>
<line x1="852.2" y1="1464" x2="852.2" y2="1471.5" stroke="#000" stroke-width="2.2" stroke-linecap="butt"/>
<text x="852.2" y="1506.6" font-size="34" text-anchor="middle" fill="#4d4d4d" stroke="#4d4d4d" stroke-width="0.3">1</text>
<line x1="959.4" y1="1464" x2="959.4" y2="1471.5" stroke="#000" stroke-width="2.2" stroke-linecap="butt"/>
<text x="959.4" y="1506.6" font-size="34" text-anchor="middle" fill="#4d4d4d" stroke="#4d4d4d" stroke-width="0.3">216</text>
<line x1="1066.6" y1="1464" x2="1066.6" y2="1471.5" stroke="#000" stroke-width="2.2" stroke-linecap="butt"/>
<text x="1066.6" y="1506.6" font-size="34" text-anchor="middle" fill="#4d4d4d" stroke="#4d4d4d" stroke-width="0.3">432</text>
<line x1="1173.8" y1="1464" x2="1173.8" y2="1471.5" stroke="#000" stroke-width="2.2" stroke-linecap="butt"/>
<text x="1173.8" y="1506.6" font-size="34" text-anchor="middle" fill="#4d4d4d" stroke="#4d4d4d" stroke-width="0.3">649</text>
<rect x="1251.9" y="1360.75" width="37.6" height="31.5" fill="#7f7f7f"/>
<rect x="1251.9" y="1395.95" width="142.6" height="31.5" fill="#7f7f7f"/>
<rect x="1251.9" y="1431.15" width="19.7" height="31.5" fill="#7f7f7f"/>
<line x1="1394.2" y1="1466.5" x2="1394.2" y2="1355.2" stroke="#000" stroke-width="2.7" stroke-linecap="butt" stroke-dasharray="12.2 12.3"/>
<line x1="1284.3" y1="1376.5" x2="1295.2" y2="1376.5" stroke="#000" stroke-width="2.2" stroke-linecap="butt"/>
<line x1="1284.3" y1="1371" x2="1284.3" y2="1382" stroke="#000" stroke-width="2.4" stroke-linecap="butt"/>
<line x1="1295.2" y1="1371" x2="1295.2" y2="1382" stroke="#000" stroke-width="2.4" stroke-linecap="butt"/>
<circle cx="1280" cy="1376.5" r="3" fill="#fff" stroke="#000" stroke-width="1.8"/>
<circle cx="1284.3" cy="1376.5" r="3" fill="#fff" stroke="#000" stroke-width="1.8"/>
<circle cx="1289.5" cy="1376.5" r="3" fill="#fff" stroke="#000" stroke-width="1.8"/>
<circle cx="1303.9" cy="1376.5" r="3" fill="#fff" stroke="#000" stroke-width="1.8"/>
<circle cx="1309.6" cy="1376.5" r="3" fill="#fff" stroke="#000" stroke-width="1.8"/>
<circle cx="1286" cy="1376.5" r="3" fill="#fff" stroke="#000" stroke-width="1.8"/>
<text x="1329.6" y="1397" font-size="40" text-anchor="middle" fill="#000" stroke="#000" stroke-width="0.3" style="stroke-width:0.75px">*</text>
<text x="1459.3" y="1385.3" font-size="25.5" fill="#000" stroke="#000" stroke-width="0.3">6</text>
<text x="1498.6" y="1385.3" font-size="25.5" fill="#000" stroke="#000" stroke-width="0.3">&lt;0.001</text>
<line x1="1378.5" y1="1411.7" x2="1412.4" y2="1411.7" stroke="#000" stroke-width="2.2" stroke-linecap="butt"/>
<line x1="1378.5" y1="1406.2" x2="1378.5" y2="1417.2" stroke="#000" stroke-width="2.4" stroke-linecap="butt"/>
<line x1="1412.4" y1="1406.2" x2="1412.4" y2="1417.2" stroke="#000" stroke-width="2.4" stroke-linecap="butt"/>
<circle cx="1359.1" cy="1411.7" r="3" fill="#fff" stroke="#000" stroke-width="1.8"/>
<circle cx="1364.4" cy="1411.7" r="3" fill="#fff" stroke="#000" stroke-width="1.8"/>
<circle cx="1419.2" cy="1411.7" r="3" fill="#fff" stroke="#000" stroke-width="1.8"/>
<circle cx="1438.1" cy="1411.7" r="3" fill="#fff" stroke="#000" stroke-width="1.8"/>
<circle cx="1449.7" cy="1411.7" r="3" fill="#fff" stroke="#000" stroke-width="1.8"/>
<circle cx="1395" cy="1411.7" r="3" fill="#fff" stroke="#000" stroke-width="1.8"/>
<text x="1459.3" y="1420.5" font-size="25.5" fill="#000" stroke="#000" stroke-width="0.3">6</text>
<line x1="1266" y1="1446.9" x2="1276" y2="1446.9" stroke="#000" stroke-width="2.2" stroke-linecap="butt"/>
<line x1="1266" y1="1441.4" x2="1266" y2="1452.4" stroke="#000" stroke-width="2.4" stroke-linecap="butt"/>
<line x1="1276" y1="1441.4" x2="1276" y2="1452.4" stroke="#000" stroke-width="2.4" stroke-linecap="butt"/>
<circle cx="1263.6" cy="1446.9" r="3" fill="#fff" stroke="#000" stroke-width="1.8"/>
<circle cx="1268.5" cy="1446.9" r="3" fill="#fff" stroke="#000" stroke-width="1.8"/>
<circle cx="1273.7" cy="1446.9" r="3" fill="#fff" stroke="#000" stroke-width="1.8"/>
<circle cx="1282.2" cy="1446.9" r="3" fill="#fff" stroke="#000" stroke-width="1.8"/>
<circle cx="1266" cy="1446.9" r="3" fill="#fff" stroke="#000" stroke-width="1.8"/>
<circle cx="1271" cy="1446.9" r="3" fill="#fff" stroke="#000" stroke-width="1.8"/>
<text x="1302.2" y="1467.4" font-size="40" text-anchor="middle" fill="#000" stroke="#000" stroke-width="0.3" style="stroke-width:0.75px">*</text>
<text x="1459.3" y="1455.7" font-size="25.5" fill="#000" stroke="#000" stroke-width="0.3">6</text>
<text x="1498.6" y="1455.7" font-size="25.5" fill="#000" stroke="#000" stroke-width="0.3">&lt;0.001</text>
<line x1="1251.9" y1="1355.2" x2="1251.9" y2="1469.15" stroke="#000" stroke-width="5.3" stroke-linecap="butt"/>
<line x1="1249.25" y1="1466.5" x2="1588" y2="1466.5" stroke="#000" stroke-width="5.3" stroke-linecap="butt"/>
<line x1="1251.9" y1="1466.5" x2="1251.9" y2="1474" stroke="#000" stroke-width="2.2" stroke-linecap="butt"/>
<line x1="1394.2" y1="1466.5" x2="1394.2" y2="1474" stroke="#000" stroke-width="2.2" stroke-linecap="butt"/>
<text x="1251.9" y="1508.9" font-size="34" text-anchor="middle" fill="#4d4d4d" stroke="#4d4d4d" stroke-width="0.3">0%</text>
<text x="1394.2" y="1508.9" font-size="34" text-anchor="middle" fill="#4d4d4d" stroke="#4d4d4d" stroke-width="0.3">100%</text>
<rect x="1664.8" y="1361.06" width="111.3" height="31.28" fill="#7f7f7f"/>
<rect x="1664.8" y="1396.01" width="108.9" height="31.28" fill="#7f7f7f"/>
<rect x="1664.8" y="1430.96" width="74.9" height="31.28" fill="#7f7f7f"/>
<line x1="1773.2" y1="1466.7" x2="1773.2" y2="1354.8" stroke="#000" stroke-width="2.7" stroke-linecap="butt" stroke-dasharray="12.2 12.3"/>
<line x1="1758.2" y1="1376.7" x2="1797.8" y2="1376.7" stroke="#000" stroke-width="2.2" stroke-linecap="butt"/>
<line x1="1758.2" y1="1371.2" x2="1758.2" y2="1382.2" stroke="#000" stroke-width="2.4" stroke-linecap="butt"/>
<line x1="1797.8" y1="1371.2" x2="1797.8" y2="1382.2" stroke="#000" stroke-width="2.4" stroke-linecap="butt"/>
<circle cx="1739.7" cy="1376.7" r="3" fill="#fff" stroke="#000" stroke-width="1.8"/>
<circle cx="1743.8" cy="1376.7" r="3" fill="#fff" stroke="#000" stroke-width="1.8"/>
<circle cx="1750.6" cy="1376.7" r="3" fill="#fff" stroke="#000" stroke-width="1.8"/>
<circle cx="1771.6" cy="1376.7" r="3" fill="#fff" stroke="#000" stroke-width="1.8"/>
<circle cx="1846.8" cy="1376.7" r="3" fill="#fff" stroke="#000" stroke-width="1.8"/>
<circle cx="1860.2" cy="1376.7" r="3" fill="#fff" stroke="#000" stroke-width="1.8"/>
<text x="1872.4" y="1385.5" font-size="25.5" fill="#000" stroke="#000" stroke-width="0.3">6</text>
<text x="1901.3" y="1385.5" font-size="25.5" fill="#000" stroke="#000" stroke-width="0.3">0.906</text>
<line x1="1757.6" y1="1411.65" x2="1792.2" y2="1411.65" stroke="#000" stroke-width="2.2" stroke-linecap="butt"/>
<line x1="1757.6" y1="1406.15" x2="1757.6" y2="1417.15" stroke="#000" stroke-width="2.4" stroke-linecap="butt"/>
<line x1="1792.2" y1="1406.15" x2="1792.2" y2="1417.15" stroke="#000" stroke-width="2.4" stroke-linecap="butt"/>
<circle cx="1736.6" cy="1411.65" r="3" fill="#fff" stroke="#000" stroke-width="1.8"/>
<circle cx="1740.7" cy="1411.65" r="3" fill="#fff" stroke="#000" stroke-width="1.8"/>
<circle cx="1767.5" cy="1411.65" r="3" fill="#fff" stroke="#000" stroke-width="1.8"/>
<circle cx="1776.1" cy="1411.65" r="3" fill="#fff" stroke="#000" stroke-width="1.8"/>
<circle cx="1796.3" cy="1411.65" r="3" fill="#fff" stroke="#000" stroke-width="1.8"/>
<circle cx="1862.3" cy="1411.65" r="3" fill="#fff" stroke="#000" stroke-width="1.8"/>
<text x="1872.4" y="1420.45" font-size="25.5" fill="#000" stroke="#000" stroke-width="0.3">6</text>
<line x1="1722.1" y1="1446.6" x2="1764.4" y2="1446.6" stroke="#000" stroke-width="2.2" stroke-linecap="butt"/>
<line x1="1722.1" y1="1441.1" x2="1722.1" y2="1452.1" stroke="#000" stroke-width="2.4" stroke-linecap="butt"/>
<line x1="1764.4" y1="1441.1" x2="1764.4" y2="1452.1" stroke="#000" stroke-width="2.4" stroke-linecap="butt"/>
<circle cx="1695.3" cy="1446.6" r="3" fill="#fff" stroke="#000" stroke-width="1.8"/>
<circle cx="1700.5" cy="1446.6" r="3" fill="#fff" stroke="#000" stroke-width="1.8"/>
<circle cx="1767.5" cy="1446.6" r="3" fill="#fff" stroke="#000" stroke-width="1.8"/>
<circle cx="1773.2" cy="1446.6" r="3" fill="#fff" stroke="#000" stroke-width="1.8"/>
<circle cx="1811.8" cy="1446.6" r="3" fill="#fff" stroke="#000" stroke-width="1.8"/>
<circle cx="1765" cy="1446.6" r="3" fill="#fff" stroke="#000" stroke-width="1.8"/>
<text x="1872.4" y="1455.4" font-size="25.5" fill="#000" stroke="#000" stroke-width="0.3">6</text>
<text x="1901.3" y="1455.4" font-size="25.5" fill="#000" stroke="#000" stroke-width="0.3">0.266</text>
<line x1="1664.8" y1="1354.8" x2="1664.8" y2="1469.35" stroke="#000" stroke-width="5.3" stroke-linecap="butt"/>
<line x1="1662.15" y1="1466.7" x2="2002" y2="1466.7" stroke="#000" stroke-width="5.3" stroke-linecap="butt"/>
<line x1="1664.8" y1="1466.7" x2="1664.8" y2="1474.2" stroke="#000" stroke-width="2.2" stroke-linecap="butt"/>
<line x1="1773.2" y1="1466.7" x2="1773.2" y2="1474.2" stroke="#000" stroke-width="2.2" stroke-linecap="butt"/>
<text x="1664.8" y="1509.1" font-size="34" text-anchor="middle" fill="#4d4d4d" stroke="#4d4d4d" stroke-width="0.3">0%</text>
<text x="1773.2" y="1509.1" font-size="34" text-anchor="middle" fill="#4d4d4d" stroke="#4d4d4d" stroke-width="0.3">100%</text>
<text x="843.8" y="1581.5" font-size="33.9" fill="#000" stroke="#000" stroke-width="0.3" transform="translate(843.8 1581.5) scale(1 1.045) translate(-843.8 -1581.5)">Senp3</text>
<line x1="852.2" y1="1611.3" x2="1172.3" y2="1611.3" stroke="#000" stroke-width="2.8" stroke-linecap="butt" stroke-dasharray="12.6 11.9"/>
<line x1="852.2" y1="1645.3" x2="1172.3" y2="1645.3" stroke="#000" stroke-width="2.8" stroke-linecap="butt" stroke-dasharray="12.6 11.9"/>
<line x1="852.2" y1="1679.3" x2="1172.3" y2="1679.3" stroke="#000" stroke-width="2.8" stroke-linecap="butt" stroke-dasharray="12.6 11.9"/>
<rect x="1061.1" y="1596.15" width="111.2" height="30.3" fill="#7f7f7f"/>
<rect x="1096.6" y="1607.9" width="17.6" height="6.8" fill="#a020f0"/>
<rect x="972.3" y="1630.15" width="200" height="30.3" fill="#7f7f7f"/>
<rect x="1096.6" y="1641.9" width="17.6" height="6.8" fill="#a020f0"/>
<rect x="852.2" y="1664.15" width="320.1" height="30.3" fill="#7f7f7f"/>
<rect x="1096.6" y="1675.9" width="17.6" height="6.8" fill="#a020f0"/>
<line x1="1173.8" y1="1592" x2="1173.8" y2="1699.1" stroke="#000" stroke-width="2.3" stroke-linecap="butt"/>
<line x1="851" y1="1699.1" x2="1175" y2="1699.1" stroke="#000" stroke-width="5" stroke-linecap="butt"/>
<line x1="852.2" y1="1699.1" x2="852.2" y2="1706.6" stroke="#000" stroke-width="2.2" stroke-linecap="butt"/>
<text x="852.2" y="1741.7" font-size="34" text-anchor="middle" fill="#4d4d4d" stroke="#4d4d4d" stroke-width="0.3">1</text>
<line x1="959.4" y1="1699.1" x2="959.4" y2="1706.6" stroke="#000" stroke-width="2.2" stroke-linecap="butt"/>
<text x="959.4" y="1741.7" font-size="34" text-anchor="middle" fill="#4d4d4d" stroke="#4d4d4d" stroke-width="0.3">106</text>
<line x1="1066.6" y1="1699.1" x2="1066.6" y2="1706.6" stroke="#000" stroke-width="2.2" stroke-linecap="butt"/>
<text x="1066.6" y="1741.7" font-size="34" text-anchor="middle" fill="#4d4d4d" stroke="#4d4d4d" stroke-width="0.3">212</text>
<line x1="1173.8" y1="1699.1" x2="1173.8" y2="1706.6" stroke="#000" stroke-width="2.2" stroke-linecap="butt"/>
<text x="1173.8" y="1741.7" font-size="34" text-anchor="middle" fill="#4d4d4d" stroke="#4d4d4d" stroke-width="0.3">319</text>
<rect x="1251.9" y="1595.53" width="0.7" height="31.15" fill="#7f7f7f"/>
<rect x="1251.9" y="1630.33" width="18.7" height="31.15" fill="#7f7f7f"/>
<rect x="1251.9" y="1665.13" width="99.8" height="31.15" fill="#7f7f7f"/>
<line x1="1352.5" y1="1701.1" x2="1352.5" y2="1589.4" stroke="#000" stroke-width="2.7" stroke-linecap="butt" stroke-dasharray="12.2 12.3"/>
<circle cx="1255.2" cy="1611.1" r="3" fill="#fff" stroke="#000" stroke-width="1.8"/>
<circle cx="1253" cy="1611.1" r="3" fill="#fff" stroke="#000" stroke-width="1.8"/>
<circle cx="1254" cy="1611.1" r="3" fill="#fff" stroke="#000" stroke-width="1.8"/>
<circle cx="1253.5" cy="1611.1" r="3" fill="#fff" stroke="#000" stroke-width="1.8"/>
<circle cx="1254.5" cy="1611.1" r="3" fill="#fff" stroke="#000" stroke-width="1.8"/>
<circle cx="1253.2" cy="1611.1" r="3" fill="#fff" stroke="#000" stroke-width="1.8"/>
<text x="1274.8" y="1631.6" font-size="40" text-anchor="middle" fill="#000" stroke="#000" stroke-width="0.3" style="stroke-width:0.75px">*</text>
<text x="1459.3" y="1619.9" font-size="25.5" fill="#000" stroke="#000" stroke-width="0.3">6</text>
<text x="1498.6" y="1619.9" font-size="25.5" fill="#000" stroke="#000" stroke-width="0.3">&lt;0.001</text>
<line x1="1265" y1="1645.9" x2="1276" y2="1645.9" stroke="#000" stroke-width="2.2" stroke-linecap="butt"/>
<line x1="1265" y1="1640.4" x2="1265" y2="1651.4" stroke="#000" stroke-width="2.4" stroke-linecap="butt"/>
<line x1="1276" y1="1640.4" x2="1276" y2="1651.4" stroke="#000" stroke-width="2.4" stroke-linecap="butt"/>
<circle cx="1263.2" cy="1645.9" r="3" fill="#fff" stroke="#000" stroke-width="1.8"/>
<circle cx="1268.5" cy="1645.9" r="3" fill="#fff" stroke="#000" stroke-width="1.8"/>
<circle cx="1272.7" cy="1645.9" r="3" fill="#fff" stroke="#000" stroke-width="1.8"/>
<circle cx="1277.9" cy="1645.9" r="3" fill="#fff" stroke="#000" stroke-width="1.8"/>
<circle cx="1291" cy="1645.9" r="3" fill="#fff" stroke="#000" stroke-width="1.8"/>
<circle cx="1266" cy="1645.9" r="3" fill="#fff" stroke="#000" stroke-width="1.8"/>
<text x="1310.6" y="1666.4" font-size="40" text-anchor="middle" fill="#000" stroke="#000" stroke-width="0.3" style="stroke-width:0.75px">*</text>
<text x="1459.3" y="1654.7" font-size="25.5" fill="#000" stroke="#000" stroke-width="0.3">6</text>
<text x="1498.6" y="1654.7" font-size="25.5" fill="#000" stroke="#000" stroke-width="0.3">&lt;0.001</text>
<line x1="1335.3" y1="1680.7" x2="1373.9" y2="1680.7" stroke="#000" stroke-width="2.2" stroke-linecap="butt"/>
<line x1="1335.3" y1="1675.2" x2="1335.3" y2="1686.2" stroke="#000" stroke-width="2.4" stroke-linecap="butt"/>
<line x1="1373.9" y1="1675.2" x2="1373.9" y2="1686.2" stroke="#000" stroke-width="2.4" stroke-linecap="butt"/>
<circle cx="1316.3" cy="1680.7" r="3" fill="#fff" stroke="#000" stroke-width="1.8"/>
<circle cx="1325.4" cy="1680.7" r="3" fill="#fff" stroke="#000" stroke-width="1.8"/>
<circle cx="1348.6" cy="1680.7" r="3" fill="#fff" stroke="#000" stroke-width="1.8"/>
<circle cx="1413.3" cy="1680.7" r="3" fill="#fff" stroke="#000" stroke-width="1.8"/>
<circle cx="1449.7" cy="1680.7" r="3" fill="#fff" stroke="#000" stroke-width="1.8"/>
<circle cx="1320" cy="1680.7" r="3" fill="#fff" stroke="#000" stroke-width="1.8"/>
<text x="1459.3" y="1689.5" font-size="25.5" fill="#000" stroke="#000" stroke-width="0.3">6</text>
<line x1="1251.9" y1="1589.4" x2="1251.9" y2="1703.75" stroke="#000" stroke-width="5.3" stroke-linecap="butt"/>
<line x1="1249.25" y1="1701.1" x2="1588" y2="1701.1" stroke="#000" stroke-width="5.3" stroke-linecap="butt"/>
<line x1="1251.9" y1="1701.1" x2="1251.9" y2="1708.6" stroke="#000" stroke-width="2.2" stroke-linecap="butt"/>
<line x1="1352.5" y1="1701.1" x2="1352.5" y2="1708.6" stroke="#000" stroke-width="2.2" stroke-linecap="butt"/>
<text x="1251.9" y="1743.5" font-size="34" text-anchor="middle" fill="#4d4d4d" stroke="#4d4d4d" stroke-width="0.3">0%</text>
<text x="1352.5" y="1743.5" font-size="34" text-anchor="middle" fill="#4d4d4d" stroke="#4d4d4d" stroke-width="0.3">100%</text>
<rect x="1664.8" y="1595.12" width="31" height="31.37" fill="#7f7f7f"/>
<rect x="1664.8" y="1630.17" width="131.1" height="31.37" fill="#7f7f7f"/>
<rect x="1664.8" y="1665.22" width="111.3" height="31.37" fill="#7f7f7f"/>
<line x1="1776.3" y1="1700.9" x2="1776.3" y2="1589.6" stroke="#000" stroke-width="2.7" stroke-linecap="butt" stroke-dasharray="12.2 12.3"/>
<line x1="1689.2" y1="1610.8" x2="1702.6" y2="1610.8" stroke="#000" stroke-width="2.2" stroke-linecap="butt"/>
<line x1="1689.2" y1="1605.3" x2="1689.2" y2="1616.3" stroke="#000" stroke-width="2.4" stroke-linecap="butt"/>
<line x1="1702.6" y1="1605.3" x2="1702.6" y2="1616.3" stroke="#000" stroke-width="2.4" stroke-linecap="butt"/>
<circle cx="1679.9" cy="1610.8" r="3" fill="#fff" stroke="#000" stroke-width="1.8"/>
<circle cx="1684" cy="1610.8" r="3" fill="#fff" stroke="#000" stroke-width="1.8"/>
<circle cx="1700.5" cy="1610.8" r="3" fill="#fff" stroke="#000" stroke-width="1.8"/>
<circle cx="1704.6" cy="1610.8" r="3" fill="#fff" stroke="#000" stroke-width="1.8"/>
<circle cx="1717.6" cy="1610.8" r="3" fill="#fff" stroke="#000" stroke-width="1.8"/>
<circle cx="1682" cy="1610.8" r="3" fill="#fff" stroke="#000" stroke-width="1.8"/>
<text x="1736.6" y="1631.3" font-size="40" text-anchor="middle" fill="#000" stroke="#000" stroke-width="0.3" style="stroke-width:0.75px">*</text>
<text x="1872.4" y="1619.6" font-size="25.5" fill="#000" stroke="#000" stroke-width="0.3">6</text>
<text x="1901.3" y="1619.6" font-size="25.5" fill="#000" stroke="#000" stroke-width="0.3">&lt;0.001</text>
<line x1="1776.8" y1="1645.85" x2="1819.4" y2="1645.85" stroke="#000" stroke-width="2.2" stroke-linecap="butt"/>
<line x1="1776.8" y1="1640.35" x2="1776.8" y2="1651.35" stroke="#000" stroke-width="2.4" stroke-linecap="butt"/>
<line x1="1819.4" y1="1640.35" x2="1819.4" y2="1651.35" stroke="#000" stroke-width="2.4" stroke-linecap="butt"/>
<circle cx="1734.1" cy="1645.85" r="3" fill="#fff" stroke="#000" stroke-width="1.8"/>
<circle cx="1764.6" cy="1645.85" r="3" fill="#fff" stroke="#000" stroke-width="1.8"/>
<circle cx="1807" cy="1645.85" r="3" fill="#fff" stroke="#000" stroke-width="1.8"/>
<circle cx="1819.4" cy="1645.85" r="3" fill="#fff" stroke="#000" stroke-width="1.8"/>
<circle cx="1832.4" cy="1645.85" r="3" fill="#fff" stroke="#000" stroke-width="1.8"/>
<circle cx="1862.3" cy="1645.85" r="3" fill="#fff" stroke="#000" stroke-width="1.8"/>
<text x="1872.4" y="1654.65" font-size="25.5" fill="#000" stroke="#000" stroke-width="0.3">6</text>
<text x="1901.3" y="1654.65" font-size="25.5" fill="#000" stroke="#000" stroke-width="0.3">0.417</text>
<line x1="1765.4" y1="1680.9" x2="1790.1" y2="1680.9" stroke="#000" stroke-width="2.2" stroke-linecap="butt"/>
<line x1="1765.4" y1="1675.4" x2="1765.4" y2="1686.4" stroke="#000" stroke-width="2.4" stroke-linecap="butt"/>
<line x1="1790.1" y1="1675.4" x2="1790.1" y2="1686.4" stroke="#000" stroke-width="2.4" stroke-linecap="butt"/>
<circle cx="1756.1" cy="1680.9" r="3" fill="#fff" stroke="#000" stroke-width="1.8"/>
<circle cx="1767.9" cy="1680.9" r="3" fill="#fff" stroke="#000" stroke-width="1.8"/>
<circle cx="1793.2" cy="1680.9" r="3" fill="#fff" stroke="#000" stroke-width="1.8"/>
<circle cx="1832.4" cy="1680.9" r="3" fill="#fff" stroke="#000" stroke-width="1.8"/>
<circle cx="1758" cy="1680.9" r="3" fill="#fff" stroke="#000" stroke-width="1.8"/>
<circle cx="1770" cy="1680.9" r="3" fill="#fff" stroke="#000" stroke-width="1.8"/>
<text x="1872.4" y="1689.7" font-size="25.5" fill="#000" stroke="#000" stroke-width="0.3">6</text>
<line x1="1664.8" y1="1589.6" x2="1664.8" y2="1703.55" stroke="#000" stroke-width="5.3" stroke-linecap="butt"/>
<line x1="1662.15" y1="1700.9" x2="2002" y2="1700.9" stroke="#000" stroke-width="5.3" stroke-linecap="butt"/>
<line x1="1664.8" y1="1700.9" x2="1664.8" y2="1708.4" stroke="#000" stroke-width="2.2" stroke-linecap="butt"/>
<line x1="1776.3" y1="1700.9" x2="1776.3" y2="1708.4" stroke="#000" stroke-width="2.2" stroke-linecap="butt"/>
<text x="1664.8" y="1743.3" font-size="34" text-anchor="middle" fill="#4d4d4d" stroke="#4d4d4d" stroke-width="0.3">0%</text>
<text x="1776.3" y="1743.3" font-size="34" text-anchor="middle" fill="#4d4d4d" stroke="#4d4d4d" stroke-width="0.3">100%</text>
<text x="843.8" y="1816.2" font-size="33.9" fill="#000" stroke="#000" stroke-width="0.3" transform="translate(843.8 1816.2) scale(1 1.045) translate(-843.8 -1816.2)">Tgfb3</text>
<line x1="852.2" y1="1849.7" x2="1172.3" y2="1849.7" stroke="#000" stroke-width="2.8" stroke-linecap="butt" stroke-dasharray="12.6 11.9"/>
<line x1="852.2" y1="1884.58" x2="1172.3" y2="1884.58" stroke="#000" stroke-width="2.8" stroke-linecap="butt" stroke-dasharray="12.6 11.9"/>
<line x1="852.2" y1="1919.45" x2="1172.3" y2="1919.45" stroke="#000" stroke-width="2.8" stroke-linecap="butt" stroke-dasharray="12.6 11.9"/>
<line x1="852.2" y1="1954.33" x2="1172.3" y2="1954.33" stroke="#000" stroke-width="2.8" stroke-linecap="butt" stroke-dasharray="12.6 11.9"/>
<line x1="852.2" y1="1989.2" x2="1172.3" y2="1989.2" stroke="#000" stroke-width="2.8" stroke-linecap="butt" stroke-dasharray="12.6 11.9"/>
<line x1="852.2" y1="2024.08" x2="1172.3" y2="2024.08" stroke="#000" stroke-width="2.8" stroke-linecap="butt" stroke-dasharray="12.6 11.9"/>
<line x1="852.2" y1="2058.95" x2="1172.3" y2="2058.95" stroke="#000" stroke-width="2.8" stroke-linecap="butt" stroke-dasharray="12.6 11.9"/>
<rect x="1114.5" y="1834.3" width="57.8" height="30.8" fill="#7f7f7f"/>
<rect x="1138" y="1846.3" width="34.9" height="6.8" fill="#ffff00"/>
<rect x="1027.4" y="1869.17" width="144.9" height="30.8" fill="#7f7f7f"/>
<rect x="1138" y="1877.08" width="34.9" height="6.4" fill="#ffff00"/>
<rect x="1106.1" y="1885.67" width="29.9" height="6.4" fill="#a020f0"/>
<rect x="940" y="1904.05" width="232.3" height="30.8" fill="#7f7f7f"/>
<rect x="1138" y="1911.95" width="34.9" height="6.4" fill="#ffff00"/>
<rect x="967.6" y="1920.55" width="10.3" height="6.4" fill="#a020f0"/>
<rect x="987.6" y="1920.55" width="30.7" height="6.4" fill="#a020f0"/>
<rect x="1106.1" y="1920.55" width="29.9" height="6.4" fill="#a020f0"/>
<rect x="852.2" y="1938.92" width="320.1" height="30.8" fill="#7f7f7f"/>
<rect x="1138" y="1946.83" width="34.9" height="6.4" fill="#ffff00"/>
<rect x="860.1" y="1955.42" width="4.8" height="6.4" fill="#a020f0"/>
<rect x="930.8" y="1955.42" width="32.4" height="6.4" fill="#a020f0"/>
<rect x="967.3" y="1955.42" width="10.6" height="6.4" fill="#a020f0"/>
<rect x="987.6" y="1955.42" width="30.7" height="6.4" fill="#a020f0"/>
<rect x="1106.1" y="1955.42" width="29.9" height="6.4" fill="#a020f0"/>
<rect x="852.2" y="1973.8" width="270.1" height="30.8" fill="#7f7f7f"/>
<rect x="1106.1" y="1981.7" width="16.6" height="6.4" fill="#ffff00"/>
<rect x="860.1" y="1990.3" width="4.8" height="6.4" fill="#a020f0"/>
<rect x="930.8" y="1990.3" width="32.4" height="6.4" fill="#a020f0"/>
<rect x="967.3" y="1990.3" width="10.6" height="6.4" fill="#a020f0"/>
<rect x="987.6" y="1990.3" width="30.7" height="6.4" fill="#a020f0"/>
<rect x="852.2" y="2008.67" width="182.6" height="30.8" fill="#7f7f7f"/>
<rect x="860.1" y="2020.67" width="4.8" height="6.8" fill="#a020f0"/>
<rect x="930.8" y="2020.67" width="32.4" height="6.8" fill="#a020f0"/>
<rect x="967.3" y="2020.67" width="10.6" height="6.8" fill="#a020f0"/>
<rect x="987.6" y="2020.67" width="30.7" height="6.8" fill="#a020f0"/>
<rect x="852.2" y="2043.55" width="93.7" height="30.8" fill="#7f7f7f"/>
<rect x="937.8" y="2051.45" width="7.8" height="6.4" fill="#ff0000"/>
<rect x="860.1" y="2060.05" width="4.8" height="6.4" fill="#a020f0"/>
<rect x="930.8" y="2060.05" width="11.3" height="6.4" fill="#a020f0"/>
<line x1="1173.8" y1="1829.2" x2="1173.8" y2="2080.3" stroke="#000" stroke-width="2.3" stroke-linecap="butt"/>
<line x1="851" y1="2080.3" x2="1175" y2="2080.3" stroke="#000" stroke-width="5" stroke-linecap="butt"/>
<line x1="852.2" y1="2080.3" x2="852.2" y2="2087.8" stroke="#000" stroke-width="2.2" stroke-linecap="butt"/>
<text x="852.2" y="2122.9" font-size="34" text-anchor="middle" fill="#4d4d4d" stroke="#4d4d4d" stroke-width="0.3">1</text>
<line x1="959.4" y1="2080.3" x2="959.4" y2="2087.8" stroke="#000" stroke-width="2.2" stroke-linecap="butt"/>
<text x="959.4" y="2122.9" font-size="34" text-anchor="middle" fill="#4d4d4d" stroke="#4d4d4d" stroke-width="0.3">369</text>
<line x1="1066.6" y1="2080.3" x2="1066.6" y2="2087.8" stroke="#000" stroke-width="2.2" stroke-linecap="butt"/>
<text x="1066.6" y="2122.9" font-size="34" text-anchor="middle" fill="#4d4d4d" stroke="#4d4d4d" stroke-width="0.3">739</text>
<line x1="1173.8" y1="2080.3" x2="1173.8" y2="2087.8" stroke="#000" stroke-width="2.2" stroke-linecap="butt"/>
<text x="1173.8" y="2122.9" font-size="34" text-anchor="middle" fill="#4d4d4d" stroke="#4d4d4d" stroke-width="0.3">1109</text>
<rect x="1251.9" y="1830.61" width="1.1" height="32.38" fill="#7f7f7f"/>
<rect x="1251.9" y="1866.79" width="28.1" height="32.38" fill="#7f7f7f"/>
<rect x="1251.9" y="1902.97" width="46.5" height="32.38" fill="#7f7f7f"/>
<rect x="1251.9" y="1939.15" width="103" height="32.38" fill="#7f7f7f"/>
<rect x="1251.9" y="1975.33" width="28.8" height="32.38" fill="#7f7f7f"/>
<rect x="1251.9" y="2011.51" width="30.3" height="32.38" fill="#7f7f7f"/>
<rect x="1251.9" y="2047.69" width="10.2" height="32.38" fill="#7f7f7f"/>
<line x1="1354.9" y1="2085" x2="1354.9" y2="1824.2" stroke="#000" stroke-width="2.7" stroke-linecap="butt" stroke-dasharray="12.2 12.3"/>
<circle cx="1256.4" cy="1846.8" r="3" fill="#fff" stroke="#000" stroke-width="1.8"/>
<circle cx="1254" cy="1846.8" r="3" fill="#fff" stroke="#000" stroke-width="1.8"/>
<circle cx="1255" cy="1846.8" r="3" fill="#fff" stroke="#000" stroke-width="1.8"/>
<circle cx="1253.5" cy="1846.8" r="3" fill="#fff" stroke="#000" stroke-width="1.8"/>
<circle cx="1255.5" cy="1846.8" r="3" fill="#fff" stroke="#000" stroke-width="1.8"/>
<text x="1275.8" y="1867.3" font-size="40" text-anchor="middle" fill="#000" stroke="#000" stroke-width="0.3" style="stroke-width:0.75px">*</text>
<text x="1459.3" y="1855.6" font-size="25.5" fill="#000" stroke="#000" stroke-width="0.3">5</text>
<text x="1498.6" y="1855.6" font-size="25.5" fill="#000" stroke="#000" stroke-width="0.3">&lt;0.001</text>
<circle cx="1276.3" cy="1882.98" r="3" fill="#fff" stroke="#000" stroke-width="1.8"/>
<circle cx="1284.7" cy="1882.98" r="3" fill="#fff" stroke="#000" stroke-width="1.8"/>
<text x="1459.3" y="1891.78" font-size="25.5" fill="#000" stroke="#000" stroke-width="0.3">2</text>
<text x="1498.6" y="1891.78" font-size="25.5" fill="#000" stroke="#000" stroke-width="0.3" transform="translate(1498.6 1891.78) scale(1 1.045) translate(-1498.6 -1891.78)">NA</text>
<line x1="1294.4" y1="1919.16" x2="1303.2" y2="1919.16" stroke="#000" stroke-width="2.2" stroke-linecap="butt"/>
<line x1="1294.4" y1="1913.66" x2="1294.4" y2="1924.66" stroke="#000" stroke-width="2.4" stroke-linecap="butt"/>
<line x1="1303.2" y1="1913.66" x2="1303.2" y2="1924.66" stroke="#000" stroke-width="2.4" stroke-linecap="butt"/>
<circle cx="1286.8" cy="1919.16" r="3" fill="#fff" stroke="#000" stroke-width="1.8"/>
<circle cx="1296.9" cy="1919.16" r="3" fill="#fff" stroke="#000" stroke-width="1.8"/>
<circle cx="1301.1" cy="1919.16" r="3" fill="#fff" stroke="#000" stroke-width="1.8"/>
<circle cx="1304.3" cy="1919.16" r="3" fill="#fff" stroke="#000" stroke-width="1.8"/>
<circle cx="1299" cy="1919.16" r="3" fill="#fff" stroke="#000" stroke-width="1.8"/>
<text x="1323.9" y="1939.66" font-size="40" text-anchor="middle" fill="#000" stroke="#000" stroke-width="0.3" style="stroke-width:0.75px">*</text>
<text x="1459.3" y="1927.96" font-size="25.5" fill="#000" stroke="#000" stroke-width="0.3">5</text>
<text x="1498.6" y="1927.96" font-size="25.5" fill="#000" stroke="#000" stroke-width="0.3">0.026</text>
<line x1="1333.2" y1="1955.34" x2="1383.3" y2="1955.34" stroke="#000" stroke-width="2.2" stroke-linecap="butt"/>
<line x1="1333.2" y1="1949.84" x2="1333.2" y2="1960.84" stroke="#000" stroke-width="2.4" stroke-linecap="butt"/>
<line x1="1383.3" y1="1949.84" x2="1383.3" y2="1960.84" stroke="#000" stroke-width="2.4" stroke-linecap="butt"/>
<circle cx="1307" cy="1955.34" r="3" fill="#fff" stroke="#000" stroke-width="1.8"/>
<circle cx="1322.8" cy="1955.34" r="3" fill="#fff" stroke="#000" stroke-width="1.8"/>
<circle cx="1347.5" cy="1955.34" r="3" fill="#fff" stroke="#000" stroke-width="1.8"/>
<circle cx="1412.4" cy="1955.34" r="3" fill="#fff" stroke="#000" stroke-width="1.8"/>
<circle cx="1449.3" cy="1955.34" r="3" fill="#fff" stroke="#000" stroke-width="1.8"/>
<text x="1459.3" y="1964.14" font-size="25.5" fill="#000" stroke="#000" stroke-width="0.3">5</text>
<line x1="1277" y1="1991.52" x2="1284" y2="1991.52" stroke="#000" stroke-width="2.2" stroke-linecap="butt"/>
<line x1="1277" y1="1986.02" x2="1277" y2="1997.02" stroke="#000" stroke-width="2.4" stroke-linecap="butt"/>
<line x1="1284" y1="1986.02" x2="1284" y2="1997.02" stroke="#000" stroke-width="2.4" stroke-linecap="butt"/>
<circle cx="1274.4" cy="1991.52" r="3" fill="#fff" stroke="#000" stroke-width="1.8"/>
<circle cx="1279" cy="1991.52" r="3" fill="#fff" stroke="#000" stroke-width="1.8"/>
<circle cx="1282.2" cy="1991.52" r="3" fill="#fff" stroke="#000" stroke-width="1.8"/>
<circle cx="1286" cy="1991.52" r="3" fill="#fff" stroke="#000" stroke-width="1.8"/>
<circle cx="1277" cy="1991.52" r="3" fill="#fff" stroke="#000" stroke-width="1.8"/>
<text x="1306.4" y="2012.02" font-size="40" text-anchor="middle" fill="#000" stroke="#000" stroke-width="0.3" style="stroke-width:0.75px">*</text>
<text x="1459.3" y="2000.32" font-size="25.5" fill="#000" stroke="#000" stroke-width="0.3">5</text>
<text x="1498.6" y="2000.32" font-size="25.5" fill="#000" stroke="#000" stroke-width="0.3">0.004</text>
<line x1="1274.8" y1="2027.7" x2="1288.9" y2="2027.7" stroke="#000" stroke-width="2.2" stroke-linecap="butt"/>
<line x1="1274.8" y1="2022.2" x2="1274.8" y2="2033.2" stroke="#000" stroke-width="2.4" stroke-linecap="butt"/>
<line x1="1288.9" y1="2022.2" x2="1288.9" y2="2033.2" stroke="#000" stroke-width="2.4" stroke-linecap="butt"/>
<circle cx="1269.5" cy="2027.7" r="3" fill="#fff" stroke="#000" stroke-width="1.8"/>
<circle cx="1274.4" cy="2027.7" r="3" fill="#fff" stroke="#000" stroke-width="1.8"/>
<circle cx="1283.2" cy="2027.7" r="3" fill="#fff" stroke="#000" stroke-width="1.8"/>
<circle cx="1297.3" cy="2027.7" r="3" fill="#fff" stroke="#000" stroke-width="1.8"/>
<circle cx="1278" cy="2027.7" r="3" fill="#fff" stroke="#000" stroke-width="1.8"/>
<text x="1317.6" y="2048.2" font-size="40" text-anchor="middle" fill="#000" stroke="#000" stroke-width="0.3" style="stroke-width:0.75px">*</text>
<text x="1459.3" y="2036.5" font-size="25.5" fill="#000" stroke="#000" stroke-width="0.3">5</text>
<text x="1498.6" y="2036.5" font-size="25.5" fill="#000" stroke="#000" stroke-width="0.3">0.005</text>
<line x1="1259" y1="2063.88" x2="1265" y2="2063.88" stroke="#000" stroke-width="2.2" stroke-linecap="butt"/>
<line x1="1259" y1="2058.38" x2="1259" y2="2069.38" stroke="#000" stroke-width="2.4" stroke-linecap="butt"/>
<line x1="1265" y1="2058.38" x2="1265" y2="2069.38" stroke="#000" stroke-width="2.4" stroke-linecap="butt"/>
<circle cx="1258.5" cy="2063.88" r="3" fill="#fff" stroke="#000" stroke-width="1.8"/>
<circle cx="1263.2" cy="2063.88" r="3" fill="#fff" stroke="#000" stroke-width="1.8"/>
<circle cx="1267.4" cy="2063.88" r="3" fill="#fff" stroke="#000" stroke-width="1.8"/>
<circle cx="1260" cy="2063.88" r="3" fill="#fff" stroke="#000" stroke-width="1.8"/>
<circle cx="1265" cy="2063.88" r="3" fill="#fff" stroke="#000" stroke-width="1.8"/>
<text x="1287.4" y="2084.38" font-size="40" text-anchor="middle" fill="#000" stroke="#000" stroke-width="0.3" style="stroke-width:0.75px">*</text>
<text x="1459.3" y="2072.68" font-size="25.5" fill="#000" stroke="#000" stroke-width="0.3">5</text>
<text x="1498.6" y="2072.68" font-size="25.5" fill="#000" stroke="#000" stroke-width="0.3">&lt;0.001</text>
<line x1="1251.9" y1="1824.2" x2="1251.9" y2="2087.65" stroke="#000" stroke-width="5.3" stroke-linecap="butt"/>
<line x1="1249.25" y1="2085" x2="1588" y2="2085" stroke="#000" stroke-width="5.3" stroke-linecap="butt"/>
<line x1="1251.9" y1="2085" x2="1251.9" y2="2092.5" stroke="#000" stroke-width="2.2" stroke-linecap="butt"/>
<line x1="1354.9" y1="2085" x2="1354.9" y2="2092.5" stroke="#000" stroke-width="2.2" stroke-linecap="butt"/>
<text x="1251.9" y="2127.4" font-size="34" text-anchor="middle" fill="#4d4d4d" stroke="#4d4d4d" stroke-width="0.3">0%</text>
<text x="1354.9" y="2127.4" font-size="34" text-anchor="middle" fill="#4d4d4d" stroke="#4d4d4d" stroke-width="0.3">100%</text>
<rect x="1664.8" y="1829.94" width="142.2" height="32.52" fill="#7f7f7f"/>
<rect x="1664.8" y="1866.27" width="56.3" height="32.52" fill="#7f7f7f"/>
<rect x="1664.8" y="1902.6" width="6.8" height="32.52" fill="#7f7f7f"/>
<rect x="1664.8" y="1938.93" width="43.9" height="32.52" fill="#7f7f7f"/>
<rect x="1664.8" y="1975.26" width="6.8" height="32.52" fill="#7f7f7f"/>
<rect x="1664.8" y="2011.59" width="13.4" height="32.52" fill="#7f7f7f"/>
<rect x="1664.8" y="2047.92" width="0.7" height="32.52" fill="#7f7f7f"/>
<line x1="1708.7" y1="2084.8" x2="1708.7" y2="1824.1" stroke="#000" stroke-width="2.7" stroke-linecap="butt" stroke-dasharray="12.2 12.3"/>
<line x1="1789.1" y1="1846.2" x2="1827.7" y2="1846.2" stroke="#000" stroke-width="2.2" stroke-linecap="butt"/>
<line x1="1789.1" y1="1840.7" x2="1789.1" y2="1851.7" stroke="#000" stroke-width="2.4" stroke-linecap="butt"/>
<line x1="1827.7" y1="1840.7" x2="1827.7" y2="1851.7" stroke="#000" stroke-width="2.4" stroke-linecap="butt"/>
<circle cx="1743.2" cy="1846.2" r="3" fill="#fff" stroke="#000" stroke-width="1.8"/>
<circle cx="1763.4" cy="1846.2" r="3" fill="#fff" stroke="#000" stroke-width="1.8"/>
<circle cx="1805.6" cy="1846.2" r="3" fill="#fff" stroke="#000" stroke-width="1.8"/>
<circle cx="1827.7" cy="1846.2" r="3" fill="#fff" stroke="#000" stroke-width="1.8"/>
<circle cx="1843.7" cy="1846.2" r="3" fill="#fff" stroke="#000" stroke-width="1.8"/>
<circle cx="1849.9" cy="1846.2" r="3" fill="#fff" stroke="#000" stroke-width="1.8"/>
<circle cx="1862.3" cy="1846.2" r="3" fill="#fff" stroke="#000" stroke-width="1.8"/>
<text x="1881.9" y="1866.7" font-size="40" text-anchor="middle" fill="#000" stroke="#000" stroke-width="0.3" style="stroke-width:0.75px">*</text>
<text x="1898.4" y="1855" font-size="25.5" fill="#000" stroke="#000" stroke-width="0.3">7</text>
<text x="1928.2" y="1855" font-size="25.5" fill="#000" stroke="#000" stroke-width="0.3">&lt;0.001</text>
<line x1="1709.8" y1="1882.53" x2="1734.5" y2="1882.53" stroke="#000" stroke-width="2.2" stroke-linecap="butt"/>
<line x1="1709.8" y1="1877.03" x2="1709.8" y2="1888.03" stroke="#000" stroke-width="2.4" stroke-linecap="butt"/>
<line x1="1734.5" y1="1877.03" x2="1734.5" y2="1888.03" stroke="#000" stroke-width="2.4" stroke-linecap="butt"/>
<circle cx="1687.7" cy="1882.53" r="3" fill="#fff" stroke="#000" stroke-width="1.8"/>
<circle cx="1697" cy="1882.53" r="3" fill="#fff" stroke="#000" stroke-width="1.8"/>
<circle cx="1709.8" cy="1882.53" r="3" fill="#fff" stroke="#000" stroke-width="1.8"/>
<circle cx="1732.4" cy="1882.53" r="3" fill="#fff" stroke="#000" stroke-width="1.8"/>
<circle cx="1738.6" cy="1882.53" r="3" fill="#fff" stroke="#000" stroke-width="1.8"/>
<circle cx="1756.1" cy="1882.53" r="3" fill="#fff" stroke="#000" stroke-width="1.8"/>
<circle cx="1735" cy="1882.53" r="3" fill="#fff" stroke="#000" stroke-width="1.8"/>
<text x="1872.4" y="1891.33" font-size="25.5" fill="#000" stroke="#000" stroke-width="0.3">7</text>
<text x="1901.3" y="1891.33" font-size="25.5" fill="#000" stroke="#000" stroke-width="0.3">0.253</text>
<line x1="1669" y1="1918.86" x2="1677" y2="1918.86" stroke="#000" stroke-width="2.2" stroke-linecap="butt"/>
<line x1="1669" y1="1913.36" x2="1669" y2="1924.36" stroke="#000" stroke-width="2.4" stroke-linecap="butt"/>
<line x1="1677" y1="1913.36" x2="1677" y2="1924.36" stroke="#000" stroke-width="2.4" stroke-linecap="butt"/>
<circle cx="1669.6" cy="1918.86" r="3" fill="#fff" stroke="#000" stroke-width="1.8"/>
<circle cx="1674.7" cy="1918.86" r="3" fill="#fff" stroke="#000" stroke-width="1.8"/>
<circle cx="1679.9" cy="1918.86" r="3" fill="#fff" stroke="#000" stroke-width="1.8"/>
<circle cx="1668" cy="1918.86" r="3" fill="#fff" stroke="#000" stroke-width="1.8"/>
<circle cx="1672" cy="1918.86" r="3" fill="#fff" stroke="#000" stroke-width="1.8"/>
<circle cx="1676" cy="1918.86" r="3" fill="#fff" stroke="#000" stroke-width="1.8"/>
<circle cx="1671" cy="1918.86" r="3" fill="#fff" stroke="#000" stroke-width="1.8"/>
<text x="1698.4" y="1939.36" font-size="40" text-anchor="middle" fill="#000" stroke="#000" stroke-width="0.3" style="stroke-width:0.75px">*</text>
<text x="1872.4" y="1927.66" font-size="25.5" fill="#000" stroke="#000" stroke-width="0.3">7</text>
<text x="1901.3" y="1927.66" font-size="25.5" fill="#000" stroke="#000" stroke-width="0.3">&lt;0.001</text>
<line x1="1703" y1="1955.19" x2="1712" y2="1955.19" stroke="#000" stroke-width="2.2" stroke-linecap="butt"/>
<line x1="1703" y1="1949.69" x2="1703" y2="1960.69" stroke="#000" stroke-width="2.4" stroke-linecap="butt"/>
<line x1="1712" y1="1949.69" x2="1712" y2="1960.69" stroke="#000" stroke-width="2.4" stroke-linecap="butt"/>
<circle cx="1699.5" cy="1955.19" r="3" fill="#fff" stroke="#000" stroke-width="1.8"/>
<circle cx="1704.6" cy="1955.19" r="3" fill="#fff" stroke="#000" stroke-width="1.8"/>
<circle cx="1709.8" cy="1955.19" r="3" fill="#fff" stroke="#000" stroke-width="1.8"/>
<circle cx="1711.8" cy="1955.19" r="3" fill="#fff" stroke="#000" stroke-width="1.8"/>
<circle cx="1727.9" cy="1955.19" r="3" fill="#fff" stroke="#000" stroke-width="1.8"/>
<circle cx="1702" cy="1955.19" r="3" fill="#fff" stroke="#000" stroke-width="1.8"/>
<circle cx="1707" cy="1955.19" r="3" fill="#fff" stroke="#000" stroke-width="1.8"/>
<circle cx="1710" cy="1955.19" r="3" fill="#fff" stroke="#000" stroke-width="1.8"/>
<text x="1872.4" y="1963.99" font-size="25.5" fill="#000" stroke="#000" stroke-width="0.3">8</text>
<circle cx="1669.6" cy="1991.52" r="3" fill="#fff" stroke="#000" stroke-width="1.8"/>
<circle cx="1675.8" cy="1991.52" r="3" fill="#fff" stroke="#000" stroke-width="1.8"/>
<circle cx="1697.8" cy="1991.52" r="3" fill="#fff" stroke="#000" stroke-width="1.8"/>
<circle cx="1668" cy="1991.52" r="3" fill="#fff" stroke="#000" stroke-width="1.8"/>
<circle cx="1671" cy="1991.52" r="3" fill="#fff" stroke="#000" stroke-width="1.8"/>
<circle cx="1673" cy="1991.52" r="3" fill="#fff" stroke="#000" stroke-width="1.8"/>
<circle cx="1670" cy="1991.52" r="3" fill="#fff" stroke="#000" stroke-width="1.8"/>
<text x="1717" y="2012.02" font-size="40" text-anchor="middle" fill="#000" stroke="#000" stroke-width="0.3" style="stroke-width:0.75px">*</text>
<text x="1872.4" y="2000.32" font-size="25.5" fill="#000" stroke="#000" stroke-width="0.3">7</text>
<text x="1901.3" y="2000.32" font-size="25.5" fill="#000" stroke="#000" stroke-width="0.3">&lt;0.001</text>
<line x1="1674" y1="2027.85" x2="1682" y2="2027.85" stroke="#000" stroke-width="2.2" stroke-linecap="butt"/>
<line x1="1674" y1="2022.35" x2="1674" y2="2033.35" stroke="#000" stroke-width="2.4" stroke-linecap="butt"/>
<line x1="1682" y1="2022.35" x2="1682" y2="2033.35" stroke="#000" stroke-width="2.4" stroke-linecap="butt"/>
<circle cx="1673.7" cy="2027.85" r="3" fill="#fff" stroke="#000" stroke-width="1.8"/>
<circle cx="1679.9" cy="2027.85" r="3" fill="#fff" stroke="#000" stroke-width="1.8"/>
<circle cx="1698.4" cy="2027.85" r="3" fill="#fff" stroke="#000" stroke-width="1.8"/>
<circle cx="1676" cy="2027.85" r="3" fill="#fff" stroke="#000" stroke-width="1.8"/>
<circle cx="1678" cy="2027.85" r="3" fill="#fff" stroke="#000" stroke-width="1.8"/>
<circle cx="1675" cy="2027.85" r="3" fill="#fff" stroke="#000" stroke-width="1.8"/>
<circle cx="1681" cy="2027.85" r="3" fill="#fff" stroke="#000" stroke-width="1.8"/>
<text x="1718" y="2048.35" font-size="40" text-anchor="middle" fill="#000" stroke="#000" stroke-width="0.3" style="stroke-width:0.75px">*</text>
<text x="1872.4" y="2036.65" font-size="25.5" fill="#000" stroke="#000" stroke-width="0.3">7</text>
<text x="1901.3" y="2036.65" font-size="25.5" fill="#000" stroke="#000" stroke-width="0.3">&lt;0.001</text>
<circle cx="1667.5" cy="2064.18" r="3" fill="#fff" stroke="#000" stroke-width="1.8"/>
<circle cx="1666" cy="2064.18" r="3" fill="#fff" stroke="#000" stroke-width="1.8"/>
<circle cx="1668" cy="2064.18" r="3" fill="#fff" stroke="#000" stroke-width="1.8"/>
<circle cx="1667" cy="2064.18" r="3" fill="#fff" stroke="#000" stroke-width="1.8"/>
<circle cx="1666.5" cy="2064.18" r="3" fill="#fff" stroke="#000" stroke-width="1.8"/>
<circle cx="1668.5" cy="2064.18" r="3" fill="#fff" stroke="#000" stroke-width="1.8"/>
<circle cx="1667" cy="2064.18" r="3" fill="#fff" stroke="#000" stroke-width="1.8"/>
<text x="1688.1" y="2084.68" font-size="40" text-anchor="middle" fill="#000" stroke="#000" stroke-width="0.3" style="stroke-width:0.75px">*</text>
<text x="1872.4" y="2072.98" font-size="25.5" fill="#000" stroke="#000" stroke-width="0.3">7</text>
<text x="1901.3" y="2072.98" font-size="25.5" fill="#000" stroke="#000" stroke-width="0.3">&lt;0.001</text>
<line x1="1664.8" y1="1824.1" x2="1664.8" y2="2087.45" stroke="#000" stroke-width="5.3" stroke-linecap="butt"/>
<line x1="1662.15" y1="2084.8" x2="2002" y2="2084.8" stroke="#000" stroke-width="5.3" stroke-linecap="butt"/>
<line x1="1664.8" y1="2084.8" x2="1664.8" y2="2092.3" stroke="#000" stroke-width="2.2" stroke-linecap="butt"/>
<line x1="1708.7" y1="2084.8" x2="1708.7" y2="2092.3" stroke="#000" stroke-width="2.2" stroke-linecap="butt"/>
<text x="1664.8" y="2127.2" font-size="34" text-anchor="middle" fill="#4d4d4d" stroke="#4d4d4d" stroke-width="0.3">0%</text>
<text x="1735.4" y="2127.2" font-size="34" text-anchor="middle" fill="#4d4d4d" stroke="#4d4d4d" stroke-width="0.3">100%</text>
<text x="843.8" y="2200.4" font-size="33.9" fill="#000" stroke="#000" stroke-width="0.3" transform="translate(843.8 2200.4) scale(1 1.045) translate(-843.8 -2200.4)">Zfp462</text>
<line x1="852.2" y1="2231.5" x2="1172.3" y2="2231.5" stroke="#000" stroke-width="2.8" stroke-linecap="butt" stroke-dasharray="12.6 11.9"/>
<line x1="852.2" y1="2266.01" x2="1172.3" y2="2266.01" stroke="#000" stroke-width="2.8" stroke-linecap="butt" stroke-dasharray="12.6 11.9"/>
<line x1="852.2" y1="2300.52" x2="1172.3" y2="2300.52" stroke="#000" stroke-width="2.8" stroke-linecap="butt" stroke-dasharray="12.6 11.9"/>
<line x1="852.2" y1="2335.03" x2="1172.3" y2="2335.03" stroke="#000" stroke-width="2.8" stroke-linecap="butt" stroke-dasharray="12.6 11.9"/>
<line x1="852.2" y1="2369.54" x2="1172.3" y2="2369.54" stroke="#000" stroke-width="2.8" stroke-linecap="butt" stroke-dasharray="12.6 11.9"/>
<rect x="1064.3" y="2216.25" width="108" height="30.5" fill="#7f7f7f"/>
<rect x="1152.1" y="2228.1" width="5" height="6.8" fill="#a020f0"/>
<rect x="986.3" y="2250.76" width="186" height="30.5" fill="#7f7f7f"/>
<rect x="1020" y="2262.61" width="145.2" height="6.8" fill="#a020f0"/>
<rect x="852.2" y="2285.27" width="320.1" height="30.5" fill="#7f7f7f"/>
<rect x="982.4" y="2297.12" width="20.8" height="6.8" fill="#a020f0"/>
<rect x="1020" y="2297.12" width="145.2" height="6.8" fill="#a020f0"/>
<rect x="852.2" y="2319.78" width="210.7" height="30.5" fill="#7f7f7f"/>
<rect x="1020" y="2327.53" width="43.3" height="6.4" fill="#ffff00"/>
<rect x="982.4" y="2336.13" width="20.8" height="6.4" fill="#a020f0"/>
<rect x="852.2" y="2354.29" width="136.6" height="30.5" fill="#7f7f7f"/>
<rect x="982.4" y="2366.14" width="6.8" height="6.8" fill="#ffff00"/>
<line x1="1173.8" y1="2211.6" x2="1173.8" y2="2390.8" stroke="#000" stroke-width="2.3" stroke-linecap="butt"/>
<line x1="851" y1="2390.8" x2="1175" y2="2390.8" stroke="#000" stroke-width="5" stroke-linecap="butt"/>
<line x1="852.2" y1="2390.8" x2="852.2" y2="2398.3" stroke="#000" stroke-width="2.2" stroke-linecap="butt"/>
<text x="852.2" y="2433.4" font-size="34" text-anchor="middle" fill="#4d4d4d" stroke="#4d4d4d" stroke-width="0.3">1</text>
<line x1="959.4" y1="2390.8" x2="959.4" y2="2398.3" stroke="#000" stroke-width="2.2" stroke-linecap="butt"/>
<text x="959.4" y="2433.4" font-size="34" text-anchor="middle" fill="#4d4d4d" stroke="#4d4d4d" stroke-width="0.3">106</text>
<line x1="1066.6" y1="2390.8" x2="1066.6" y2="2398.3" stroke="#000" stroke-width="2.2" stroke-linecap="butt"/>
<text x="1066.6" y="2433.4" font-size="34" text-anchor="middle" fill="#4d4d4d" stroke="#4d4d4d" stroke-width="0.3">212</text>
<line x1="1173.8" y1="2390.8" x2="1173.8" y2="2398.3" stroke="#000" stroke-width="2.2" stroke-linecap="butt"/>
<text x="1173.8" y="2433.4" font-size="34" text-anchor="middle" fill="#4d4d4d" stroke="#4d4d4d" stroke-width="0.3">318</text>
<rect x="1251.9" y="2213.33" width="29.6" height="32.13" fill="#7f7f7f"/>
<rect x="1251.9" y="2249.23" width="48.8" height="32.13" fill="#7f7f7f"/>
<rect x="1251.9" y="2285.13" width="107.2" height="32.13" fill="#7f7f7f"/>
<rect x="1251.9" y="2321.03" width="92.9" height="32.13" fill="#7f7f7f"/>
<rect x="1251.9" y="2356.93" width="6.4" height="32.13" fill="#7f7f7f"/>
<line x1="1359.7" y1="2394" x2="1359.7" y2="2207.9" stroke="#000" stroke-width="2.7" stroke-linecap="butt" stroke-dasharray="12.2 12.3"/>
<line x1="1276.9" y1="2229.4" x2="1285.3" y2="2229.4" stroke="#000" stroke-width="2.2" stroke-linecap="butt"/>
<line x1="1276.9" y1="2223.9" x2="1276.9" y2="2234.9" stroke="#000" stroke-width="2.4" stroke-linecap="butt"/>
<line x1="1285.3" y1="2223.9" x2="1285.3" y2="2234.9" stroke="#000" stroke-width="2.4" stroke-linecap="butt"/>
<circle cx="1267.8" cy="2229.4" r="3" fill="#fff" stroke="#000" stroke-width="1.8"/>
<circle cx="1279" cy="2229.4" r="3" fill="#fff" stroke="#000" stroke-width="1.8"/>
<circle cx="1283.2" cy="2229.4" r="3" fill="#fff" stroke="#000" stroke-width="1.8"/>
<circle cx="1288.9" cy="2229.4" r="3" fill="#fff" stroke="#000" stroke-width="1.8"/>
<circle cx="1297.3" cy="2229.4" r="3" fill="#fff" stroke="#000" stroke-width="1.8"/>
<circle cx="1281" cy="2229.4" r="3" fill="#fff" stroke="#000" stroke-width="1.8"/>
<text x="1317" y="2249.9" font-size="40" text-anchor="middle" fill="#000" stroke="#000" stroke-width="0.3" style="stroke-width:0.75px">*</text>
<text x="1459.3" y="2238.2" font-size="25.5" fill="#000" stroke="#000" stroke-width="0.3">6</text>
<text x="1498.6" y="2238.2" font-size="25.5" fill="#000" stroke="#000" stroke-width="0.3">&lt;0.001</text>
<line x1="1297" y1="2265.3" x2="1303" y2="2265.3" stroke="#000" stroke-width="2.2" stroke-linecap="butt"/>
<line x1="1297" y1="2259.8" x2="1297" y2="2270.8" stroke="#000" stroke-width="2.4" stroke-linecap="butt"/>
<line x1="1303" y1="2259.8" x2="1303" y2="2270.8" stroke="#000" stroke-width="2.4" stroke-linecap="butt"/>
<circle cx="1295.9" cy="2265.3" r="3" fill="#fff" stroke="#000" stroke-width="1.8"/>
<circle cx="1299" cy="2265.3" r="3" fill="#fff" stroke="#000" stroke-width="1.8"/>
<circle cx="1302.2" cy="2265.3" r="3" fill="#fff" stroke="#000" stroke-width="1.8"/>
<circle cx="1305.3" cy="2265.3" r="3" fill="#fff" stroke="#000" stroke-width="1.8"/>
<circle cx="1297" cy="2265.3" r="3" fill="#fff" stroke="#000" stroke-width="1.8"/>
<circle cx="1300" cy="2265.3" r="3" fill="#fff" stroke="#000" stroke-width="1.8"/>
<text x="1325.4" y="2285.8" font-size="40" text-anchor="middle" fill="#000" stroke="#000" stroke-width="0.3" style="stroke-width:0.75px">*</text>
<text x="1459.3" y="2274.1" font-size="25.5" fill="#000" stroke="#000" stroke-width="0.3">6</text>
<text x="1498.6" y="2274.1" font-size="25.5" fill="#000" stroke="#000" stroke-width="0.3">0.012</text>
<line x1="1339.1" y1="2301.2" x2="1385" y2="2301.2" stroke="#000" stroke-width="2.2" stroke-linecap="butt"/>
<line x1="1339.1" y1="2295.7" x2="1339.1" y2="2306.7" stroke="#000" stroke-width="2.4" stroke-linecap="butt"/>
<line x1="1385" y1="2295.7" x2="1385" y2="2306.7" stroke="#000" stroke-width="2.4" stroke-linecap="butt"/>
<circle cx="1314.8" cy="2301.2" r="3" fill="#fff" stroke="#000" stroke-width="1.8"/>
<circle cx="1318" cy="2301.2" r="3" fill="#fff" stroke="#000" stroke-width="1.8"/>
<circle cx="1328.1" cy="2301.2" r="3" fill="#fff" stroke="#000" stroke-width="1.8"/>
<circle cx="1385" cy="2301.2" r="3" fill="#fff" stroke="#000" stroke-width="1.8"/>
<circle cx="1437.1" cy="2301.2" r="3" fill="#fff" stroke="#000" stroke-width="1.8"/>
<circle cx="1449.3" cy="2301.2" r="3" fill="#fff" stroke="#000" stroke-width="1.8"/>
<text x="1459.3" y="2310" font-size="25.5" fill="#000" stroke="#000" stroke-width="0.3">6</text>
<line x1="1330.6" y1="2337.1" x2="1360.2" y2="2337.1" stroke="#000" stroke-width="2.2" stroke-linecap="butt"/>
<line x1="1330.6" y1="2331.6" x2="1330.6" y2="2342.6" stroke="#000" stroke-width="2.4" stroke-linecap="butt"/>
<line x1="1360.2" y1="2331.6" x2="1360.2" y2="2342.6" stroke="#000" stroke-width="2.4" stroke-linecap="butt"/>
<circle cx="1302.2" cy="2337.1" r="3" fill="#fff" stroke="#000" stroke-width="1.8"/>
<circle cx="1316.3" cy="2337.1" r="3" fill="#fff" stroke="#000" stroke-width="1.8"/>
<circle cx="1356.6" cy="2337.1" r="3" fill="#fff" stroke="#000" stroke-width="1.8"/>
<circle cx="1359.1" cy="2337.1" r="3" fill="#fff" stroke="#000" stroke-width="1.8"/>
<circle cx="1378.7" cy="2337.1" r="3" fill="#fff" stroke="#000" stroke-width="1.8"/>
<circle cx="1388.6" cy="2337.1" r="3" fill="#fff" stroke="#000" stroke-width="1.8"/>
<text x="1459.3" y="2345.9" font-size="25.5" fill="#000" stroke="#000" stroke-width="0.3">6</text>
<text x="1498.6" y="2345.9" font-size="25.5" fill="#000" stroke="#000" stroke-width="0.3">0.582</text>
<circle cx="1256.4" cy="2373" r="3" fill="#fff" stroke="#000" stroke-width="1.8"/>
<circle cx="1260" cy="2373" r="3" fill="#fff" stroke="#000" stroke-width="1.8"/>
<circle cx="1264.2" cy="2373" r="3" fill="#fff" stroke="#000" stroke-width="1.8"/>
<circle cx="1257" cy="2373" r="3" fill="#fff" stroke="#000" stroke-width="1.8"/>
<circle cx="1258" cy="2373" r="3" fill="#fff" stroke="#000" stroke-width="1.8"/>
<circle cx="1261" cy="2373" r="3" fill="#fff" stroke="#000" stroke-width="1.8"/>
<text x="1283.2" y="2393.5" font-size="40" text-anchor="middle" fill="#000" stroke="#000" stroke-width="0.3" style="stroke-width:0.75px">*</text>
<text x="1459.3" y="2381.8" font-size="25.5" fill="#000" stroke="#000" stroke-width="0.3">6</text>
<text x="1498.6" y="2381.8" font-size="25.5" fill="#000" stroke="#000" stroke-width="0.3">&lt;0.001</text>
<line x1="1251.9" y1="2207.9" x2="1251.9" y2="2396.65" stroke="#000" stroke-width="5.3" stroke-linecap="butt"/>
<line x1="1249.25" y1="2394" x2="1588" y2="2394" stroke="#000" stroke-width="5.3" stroke-linecap="butt"/>
<line x1="1251.9" y1="2394" x2="1251.9" y2="2401.5" stroke="#000" stroke-width="2.2" stroke-linecap="butt"/>
<line x1="1359.7" y1="2394" x2="1359.7" y2="2401.5" stroke="#000" stroke-width="2.2" stroke-linecap="butt"/>
<text x="1251.9" y="2436.4" font-size="34" text-anchor="middle" fill="#4d4d4d" stroke="#4d4d4d" stroke-width="0.3">0%</text>
<text x="1359.7" y="2436.4" font-size="34" text-anchor="middle" fill="#4d4d4d" stroke="#4d4d4d" stroke-width="0.3">100%</text>
<rect x="1664.8" y="2213.51" width="97.1" height="32.18" fill="#7f7f7f"/>
<rect x="1664.8" y="2249.46" width="123.9" height="32.18" fill="#7f7f7f"/>
<rect x="1664.8" y="2285.41" width="20.2" height="32.18" fill="#7f7f7f"/>
<rect x="1664.8" y="2321.36" width="47" height="32.18" fill="#7f7f7f"/>
<rect x="1664.8" y="2357.31" width="7.5" height="32.18" fill="#7f7f7f"/>
<line x1="1686.5" y1="2394" x2="1686.5" y2="2208.1" stroke="#000" stroke-width="2.7" stroke-linecap="butt" stroke-dasharray="12.2 12.3"/>
<line x1="1734.5" y1="2229.6" x2="1800" y2="2229.6" stroke="#000" stroke-width="2.2" stroke-linecap="butt"/>
<line x1="1734.5" y1="2224.1" x2="1734.5" y2="2235.1" stroke="#000" stroke-width="2.4" stroke-linecap="butt"/>
<line x1="1800" y1="2224.1" x2="1800" y2="2235.1" stroke="#000" stroke-width="2.4" stroke-linecap="butt"/>
<circle cx="1699.5" cy="2229.6" r="3" fill="#fff" stroke="#000" stroke-width="1.8"/>
<circle cx="1701.9" cy="2229.6" r="3" fill="#fff" stroke="#000" stroke-width="1.8"/>
<circle cx="1775.7" cy="2229.6" r="3" fill="#fff" stroke="#000" stroke-width="1.8"/>
<circle cx="1836.5" cy="2229.6" r="3" fill="#fff" stroke="#000" stroke-width="1.8"/>
<circle cx="1842.7" cy="2229.6" r="3" fill="#fff" stroke="#000" stroke-width="1.8"/>
<circle cx="1862.3" cy="2229.6" r="3" fill="#fff" stroke="#000" stroke-width="1.8"/>
<text x="1881.9" y="2250.1" font-size="40" text-anchor="middle" fill="#000" stroke="#000" stroke-width="0.3" style="stroke-width:0.75px">*</text>
<text x="1893.2" y="2238.4" font-size="25.5" fill="#000" stroke="#000" stroke-width="0.3">6</text>
<text x="1924.1" y="2238.4" font-size="25.5" fill="#000" stroke="#000" stroke-width="0.3">0.004</text>
<line x1="1774.1" y1="2265.55" x2="1804.6" y2="2265.55" stroke="#000" stroke-width="2.2" stroke-linecap="butt"/>
<line x1="1774.1" y1="2260.05" x2="1774.1" y2="2271.05" stroke="#000" stroke-width="2.4" stroke-linecap="butt"/>
<line x1="1804.6" y1="2260.05" x2="1804.6" y2="2271.05" stroke="#000" stroke-width="2.4" stroke-linecap="butt"/>
<circle cx="1758.2" cy="2265.55" r="3" fill="#fff" stroke="#000" stroke-width="1.8"/>
<circle cx="1761.3" cy="2265.55" r="3" fill="#fff" stroke="#000" stroke-width="1.8"/>
<circle cx="1811.8" cy="2265.55" r="3" fill="#fff" stroke="#000" stroke-width="1.8"/>
<circle cx="1831.4" cy="2265.55" r="3" fill="#fff" stroke="#000" stroke-width="1.8"/>
<circle cx="1838.6" cy="2265.55" r="3" fill="#fff" stroke="#000" stroke-width="1.8"/>
<circle cx="1760" cy="2265.55" r="3" fill="#fff" stroke="#000" stroke-width="1.8"/>
<text x="1858.2" y="2286.05" font-size="40" text-anchor="middle" fill="#000" stroke="#000" stroke-width="0.3" style="stroke-width:0.75px">*</text>
<text x="1872.4" y="2274.35" font-size="25.5" fill="#000" stroke="#000" stroke-width="0.3">6</text>
<text x="1901.3" y="2274.35" font-size="25.5" fill="#000" stroke="#000" stroke-width="0.3">&lt;0.001</text>
<circle cx="1674.3" cy="2301.5" r="3" fill="#fff" stroke="#000" stroke-width="1.8"/>
<circle cx="1680.5" cy="2301.5" r="3" fill="#fff" stroke="#000" stroke-width="1.8"/>
<circle cx="1688.1" cy="2301.5" r="3" fill="#fff" stroke="#000" stroke-width="1.8"/>
<circle cx="1692.3" cy="2301.5" r="3" fill="#fff" stroke="#000" stroke-width="1.8"/>
<circle cx="1703.2" cy="2301.5" r="3" fill="#fff" stroke="#000" stroke-width="1.8"/>
<circle cx="1690" cy="2301.5" r="3" fill="#fff" stroke="#000" stroke-width="1.8"/>
<text x="1872.4" y="2310.3" font-size="25.5" fill="#000" stroke="#000" stroke-width="0.3">6</text>
<line x1="1709" y1="2337.45" x2="1720" y2="2337.45" stroke="#000" stroke-width="2.2" stroke-linecap="butt"/>
<line x1="1709" y1="2331.95" x2="1709" y2="2342.95" stroke="#000" stroke-width="2.4" stroke-linecap="butt"/>
<line x1="1720" y1="2331.95" x2="1720" y2="2342.95" stroke="#000" stroke-width="2.4" stroke-linecap="butt"/>
<circle cx="1695.8" cy="2337.45" r="3" fill="#fff" stroke="#000" stroke-width="1.8"/>
<circle cx="1709.8" cy="2337.45" r="3" fill="#fff" stroke="#000" stroke-width="1.8"/>
<circle cx="1714.9" cy="2337.45" r="3" fill="#fff" stroke="#000" stroke-width="1.8"/>
<circle cx="1719" cy="2337.45" r="3" fill="#fff" stroke="#000" stroke-width="1.8"/>
<circle cx="1723.2" cy="2337.45" r="3" fill="#fff" stroke="#000" stroke-width="1.8"/>
<circle cx="1712" cy="2337.45" r="3" fill="#fff" stroke="#000" stroke-width="1.8"/>
<text x="1742.3" y="2357.95" font-size="40" text-anchor="middle" fill="#000" stroke="#000" stroke-width="0.3" style="stroke-width:0.75px">*</text>
<text x="1872.4" y="2346.25" font-size="25.5" fill="#000" stroke="#000" stroke-width="0.3">6</text>
<text x="1901.3" y="2346.25" font-size="25.5" fill="#000" stroke="#000" stroke-width="0.3">0.010</text>
<circle cx="1670.6" cy="2373.4" r="3" fill="#fff" stroke="#000" stroke-width="1.8"/>
<circle cx="1674.7" cy="2373.4" r="3" fill="#fff" stroke="#000" stroke-width="1.8"/>
<circle cx="1680.5" cy="2373.4" r="3" fill="#fff" stroke="#000" stroke-width="1.8"/>
<circle cx="1668" cy="2373.4" r="3" fill="#fff" stroke="#000" stroke-width="1.8"/>
<circle cx="1672" cy="2373.4" r="3" fill="#fff" stroke="#000" stroke-width="1.8"/>
<circle cx="1671" cy="2373.4" r="3" fill="#fff" stroke="#000" stroke-width="1.8"/>
<text x="1699.5" y="2393.9" font-size="40" text-anchor="middle" fill="#000" stroke="#000" stroke-width="0.3" style="stroke-width:0.75px">*</text>
<text x="1872.4" y="2382.2" font-size="25.5" fill="#000" stroke="#000" stroke-width="0.3">6</text>
<text x="1901.3" y="2382.2" font-size="25.5" fill="#000" stroke="#000" stroke-width="0.3">0.013</text>
<line x1="1664.8" y1="2208.1" x2="1664.8" y2="2396.65" stroke="#000" stroke-width="5.3" stroke-linecap="butt"/>
<line x1="1662.15" y1="2394" x2="2002" y2="2394" stroke="#000" stroke-width="5.3" stroke-linecap="butt"/>
<line x1="1664.8" y1="2394" x2="1664.8" y2="2401.5" stroke="#000" stroke-width="2.2" stroke-linecap="butt"/>
<line x1="1686.5" y1="2394" x2="1686.5" y2="2401.5" stroke="#000" stroke-width="2.2" stroke-linecap="butt"/>
<text x="1664.8" y="2436.4" font-size="34" text-anchor="middle" fill="#4d4d4d" stroke="#4d4d4d" stroke-width="0.3">0%</text>
<text x="1686.5" y="2436.4" font-size="34" text-anchor="middle" fill="#4d4d4d" stroke="#4d4d4d" stroke-width="0.3">100%</text>
<text x="1023.5" y="2511" font-size="32.7" text-anchor="middle" fill="#000" stroke="#000" stroke-width="0.3" transform="translate(1023.5 2511) scale(1 1.045) translate(-1023.5 -2511)">5'UTR truncations</text>
<text x="1430.4" y="2493.3" font-size="32.7" text-anchor="middle" fill="#000" stroke="#000" stroke-width="0.3" transform="translate(1430.4 2493.3) scale(1 1.045) translate(-1430.4 -2493.3)">Fluc/Rluc</text>
<text x="1430.4" y="2535" font-size="32.7" text-anchor="middle" fill="#000" stroke="#000" stroke-width="0.3" transform="translate(1430.4 2535) scale(1 1.045) translate(-1430.4 -2535)">relative to WT</text>
<text x="1848.3" y="2488.8" font-size="32.7" text-anchor="middle" fill="#000" stroke="#000" stroke-width="0.3" transform="translate(1848.3 2488.8) scale(1 1.045) translate(-1848.3 -2488.8)">Rluc/Fluc</text>
<text x="1848.3" y="2529" font-size="32.7" text-anchor="middle" fill="#000" stroke="#000" stroke-width="0.3" transform="translate(1848.3 2529) scale(1 1.045) translate(-1848.3 -2529)">relative to WT</text>
<text x="-1" y="786.8" font-size="48" font-weight="bold" fill="#000" stroke="#000" stroke-width="0.3" transform="translate(-1 786.8) scale(1 1.045) translate(1 -786.8)">c</text>
<rect x="509.1" y="812.3" width="34.2" height="35" fill="#aa0000"/>
<rect x="514.9" y="851.69" width="28.4" height="35" fill="#aa0000"/>
<rect x="515.1" y="891.08" width="28.2" height="35" fill="#aa0000"/>
<rect x="525.5" y="930.47" width="17.8" height="35" fill="#aa0000"/>
<rect x="526.1" y="969.86" width="17.2" height="35" fill="#aa0000"/>
<rect x="536.4" y="1009.25" width="6.9" height="35" fill="#8c8c8c"/>
<rect x="541.2" y="1048.64" width="2.1" height="35" fill="#8c8c8c"/>
<rect x="543.3" y="1088.03" width="8.1" height="35" fill="#8c8c8c"/>
<rect x="543.3" y="1127.42" width="29.5" height="35" fill="#000"/>
<rect x="543.3" y="1166.81" width="66.2" height="35" fill="#000"/>
<rect x="543.3" y="1206.2" width="88.5" height="35" fill="#000"/>
<line x1="543.3" y1="806.4" x2="543.3" y2="1247.4" stroke="#000" stroke-width="2.8" stroke-linecap="butt"/>
<line x1="505.6" y1="829.8" x2="512.6" y2="829.8" stroke="#000" stroke-width="2.7" stroke-linecap="butt"/>
<line x1="505.6" y1="815.2" x2="505.6" y2="844.4" stroke="#000" stroke-width="2.8" stroke-linecap="butt"/>
<line x1="512.6" y1="815.2" x2="512.6" y2="844.4" stroke="#000" stroke-width="2.8" stroke-linecap="butt"/>
<circle cx="505.6" cy="829.8" r="4.5" fill="#fff" stroke="#000" stroke-width="2"/>
<circle cx="516.7" cy="829.8" r="4.5" fill="#fff" stroke="#000" stroke-width="2"/>
<text x="476.9" y="844.16" font-size="30" text-anchor="middle" fill="#000" stroke="#000" stroke-width="0.3">*</text>
<text x="184.8" y="841.2" font-size="29.5" text-anchor="end" fill="#4d4d4d" stroke="#4d4d4d" stroke-width="0.3" transform="translate(184.8 841.2) scale(1 1.045) translate(-184.8 -841.2)">Rnf168</text>
<line x1="195.6" y1="829.8" x2="204.1" y2="829.8" stroke="#000" stroke-width="2.4" stroke-linecap="butt"/>
<text x="724.8" y="838.3" font-size="23.5" text-anchor="middle" fill="#000" stroke="#000" stroke-width="0.3">0.004</text>
<line x1="506.2" y1="869.19" x2="522.6" y2="869.19" stroke="#000" stroke-width="2.7" stroke-linecap="butt"/>
<line x1="506.2" y1="854.59" x2="506.2" y2="883.79" stroke="#000" stroke-width="2.8" stroke-linecap="butt"/>
<line x1="522.6" y1="854.59" x2="522.6" y2="883.79" stroke="#000" stroke-width="2.8" stroke-linecap="butt"/>
<circle cx="519.6" cy="869.19" r="4.5" fill="#fff" stroke="#000" stroke-width="2"/>
<circle cx="498" cy="869.19" r="4.5" fill="#fff" stroke="#000" stroke-width="2"/>
<circle cx="524.3" cy="869.19" r="4.5" fill="#fff" stroke="#000" stroke-width="2"/>
<text x="477.9" y="883.55" font-size="30" text-anchor="middle" fill="#000" stroke="#000" stroke-width="0.3">*</text>
<text x="184.8" y="880.59" font-size="29.5" text-anchor="end" fill="#4d4d4d" stroke="#4d4d4d" stroke-width="0.3" transform="translate(184.8 880.59) scale(1 1.045) translate(-184.8 -880.59)">Pfn4</text>
<line x1="195.6" y1="869.19" x2="204.1" y2="869.19" stroke="#000" stroke-width="2.4" stroke-linecap="butt"/>
<text x="724.8" y="877.69" font-size="23.5" text-anchor="middle" fill="#000" stroke="#000" stroke-width="0.3">0.029</text>
<line x1="511.7" y1="908.58" x2="518.3" y2="908.58" stroke="#000" stroke-width="2.7" stroke-linecap="butt"/>
<line x1="511.7" y1="893.98" x2="511.7" y2="923.18" stroke="#000" stroke-width="2.8" stroke-linecap="butt"/>
<line x1="518.3" y1="893.98" x2="518.3" y2="923.18" stroke="#000" stroke-width="2.8" stroke-linecap="butt"/>
<circle cx="511.8" cy="908.58" r="4.5" fill="#fff" stroke="#000" stroke-width="2"/>
<circle cx="519.9" cy="908.58" r="4.5" fill="#fff" stroke="#000" stroke-width="2"/>
<circle cx="509.7" cy="908.58" r="4.5" fill="#fff" stroke="#000" stroke-width="2"/>
<text x="482.8" y="922.94" font-size="30" text-anchor="middle" fill="#000" stroke="#000" stroke-width="0.3">*</text>
<text x="184.8" y="919.98" font-size="29.5" text-anchor="end" fill="#4d4d4d" stroke="#4d4d4d" stroke-width="0.3" transform="translate(184.8 919.98) scale(1 1.045) translate(-184.8 -919.98)">Spdye4b</text>
<line x1="195.6" y1="908.58" x2="204.1" y2="908.58" stroke="#000" stroke-width="2.4" stroke-linecap="butt"/>
<text x="724.8" y="917.08" font-size="23.5" text-anchor="middle" fill="#000" stroke="#000" stroke-width="0.3">&lt;0.001</text>
<line x1="521.8" y1="947.97" x2="528.4" y2="947.97" stroke="#000" stroke-width="2.7" stroke-linecap="butt"/>
<line x1="521.8" y1="933.37" x2="521.8" y2="962.57" stroke="#000" stroke-width="2.8" stroke-linecap="butt"/>
<line x1="528.4" y1="933.37" x2="528.4" y2="962.57" stroke="#000" stroke-width="2.8" stroke-linecap="butt"/>
<circle cx="528" cy="947.97" r="4.5" fill="#fff" stroke="#000" stroke-width="2"/>
<circle cx="522.4" cy="947.97" r="4.5" fill="#fff" stroke="#000" stroke-width="2"/>
<circle cx="518.3" cy="947.97" r="4.5" fill="#fff" stroke="#000" stroke-width="2"/>
<text x="493.7" y="962.33" font-size="30" text-anchor="middle" fill="#000" stroke="#000" stroke-width="0.3">*</text>
<text x="184.8" y="959.37" font-size="29.5" text-anchor="end" fill="#4d4d4d" stroke="#4d4d4d" stroke-width="0.3" transform="translate(184.8 959.37) scale(1 1.045) translate(-184.8 -959.37)">Slc37a1</text>
<line x1="195.6" y1="947.97" x2="204.1" y2="947.97" stroke="#000" stroke-width="2.4" stroke-linecap="butt"/>
<text x="724.8" y="956.47" font-size="23.5" text-anchor="middle" fill="#000" stroke="#000" stroke-width="0.3">0.003</text>
<line x1="523.4" y1="987.36" x2="527" y2="987.36" stroke="#000" stroke-width="2.7" stroke-linecap="butt"/>
<line x1="523.4" y1="972.76" x2="523.4" y2="1001.96" stroke="#000" stroke-width="2.8" stroke-linecap="butt"/>
<line x1="527" y1="972.76" x2="527" y2="1001.96" stroke="#000" stroke-width="2.8" stroke-linecap="butt"/>
<circle cx="525.7" cy="987.36" r="4.5" fill="#fff" stroke="#000" stroke-width="2"/>
<circle cx="521.2" cy="987.36" r="4.5" fill="#fff" stroke="#000" stroke-width="2"/>
<text x="495.1" y="1001.72" font-size="30" text-anchor="middle" fill="#000" stroke="#000" stroke-width="0.3">*</text>
<text x="184.8" y="998.76" font-size="29.5" text-anchor="end" fill="#4d4d4d" stroke="#4d4d4d" stroke-width="0.3" transform="translate(184.8 998.76) scale(1 1.045) translate(-184.8 -998.76)">Dhx34</text>
<line x1="195.6" y1="987.36" x2="204.1" y2="987.36" stroke="#000" stroke-width="2.4" stroke-linecap="butt"/>
<text x="724.8" y="995.86" font-size="23.5" text-anchor="middle" fill="#000" stroke="#000" stroke-width="0.3">0.018</text>
<line x1="533.3" y1="1026.75" x2="538.3" y2="1026.75" stroke="#000" stroke-width="2.7" stroke-linecap="butt"/>
<line x1="533.3" y1="1012.15" x2="533.3" y2="1041.35" stroke="#000" stroke-width="2.8" stroke-linecap="butt"/>
<line x1="538.3" y1="1012.15" x2="538.3" y2="1041.35" stroke="#000" stroke-width="2.8" stroke-linecap="butt"/>
<circle cx="540.8" cy="1026.75" r="4.5" fill="#fff" stroke="#000" stroke-width="2"/>
<circle cx="530.5" cy="1026.75" r="4.5" fill="#fff" stroke="#000" stroke-width="2"/>
<text x="184.8" y="1038.15" font-size="29.5" text-anchor="end" fill="#4d4d4d" stroke="#4d4d4d" stroke-width="0.3" transform="translate(184.8 1038.15) scale(1 1.045) translate(-184.8 -1038.15)">Nmral1</text>
<line x1="195.6" y1="1026.75" x2="204.1" y2="1026.75" stroke="#000" stroke-width="2.4" stroke-linecap="butt"/>
<text x="724.8" y="1035.25" font-size="23.5" text-anchor="middle" fill="#000" stroke="#000" stroke-width="0.3">0.071</text>
<line x1="531.1" y1="1066.14" x2="549.7" y2="1066.14" stroke="#000" stroke-width="2.7" stroke-linecap="butt"/>
<line x1="531.1" y1="1051.54" x2="531.1" y2="1080.74" stroke="#000" stroke-width="2.8" stroke-linecap="butt"/>
<line x1="549.7" y1="1051.54" x2="549.7" y2="1080.74" stroke="#000" stroke-width="2.8" stroke-linecap="butt"/>
<circle cx="524.2" cy="1066.14" r="4.5" fill="#fff" stroke="#000" stroke-width="2"/>
<circle cx="539.4" cy="1066.14" r="4.5" fill="#fff" stroke="#000" stroke-width="2"/>
<circle cx="557.2" cy="1066.14" r="4.5" fill="#fff" stroke="#000" stroke-width="2"/>
<text x="184.8" y="1077.54" font-size="29.5" text-anchor="end" fill="#4d4d4d" stroke="#4d4d4d" stroke-width="0.3" transform="translate(184.8 1077.54) scale(1 1.045) translate(-184.8 -1077.54)">Olfr921</text>
<line x1="195.6" y1="1066.14" x2="204.1" y2="1066.14" stroke="#000" stroke-width="2.4" stroke-linecap="butt"/>
<text x="724.8" y="1074.64" font-size="23.5" text-anchor="middle" fill="#000" stroke="#000" stroke-width="0.3">0.756</text>
<line x1="546.1" y1="1105.53" x2="557.5" y2="1105.53" stroke="#000" stroke-width="2.7" stroke-linecap="butt"/>
<line x1="546.1" y1="1090.93" x2="546.1" y2="1120.13" stroke="#000" stroke-width="2.8" stroke-linecap="butt"/>
<line x1="557.5" y1="1090.93" x2="557.5" y2="1120.13" stroke="#000" stroke-width="2.8" stroke-linecap="butt"/>
<circle cx="548.9" cy="1105.53" r="4.5" fill="#fff" stroke="#000" stroke-width="2"/>
<circle cx="543.9" cy="1105.53" r="4.5" fill="#fff" stroke="#000" stroke-width="2"/>
<circle cx="563.3" cy="1105.53" r="4.5" fill="#fff" stroke="#000" stroke-width="2"/>
<text x="184.8" y="1116.93" font-size="29.5" text-anchor="end" fill="#4d4d4d" stroke="#4d4d4d" stroke-width="0.3" transform="translate(184.8 1116.93) scale(1 1.045) translate(-184.8 -1116.93)">Eppk1</text>
<line x1="195.6" y1="1105.53" x2="204.1" y2="1105.53" stroke="#000" stroke-width="2.4" stroke-linecap="butt"/>
<text x="724.8" y="1114.03" font-size="23.5" text-anchor="middle" fill="#000" stroke="#000" stroke-width="0.3">0.151</text>
<line x1="570.5" y1="1144.92" x2="576.1" y2="1144.92" stroke="#000" stroke-width="2.7" stroke-linecap="butt"/>
<line x1="570.5" y1="1130.32" x2="570.5" y2="1159.52" stroke="#000" stroke-width="2.8" stroke-linecap="butt"/>
<line x1="576.1" y1="1130.32" x2="576.1" y2="1159.52" stroke="#000" stroke-width="2.8" stroke-linecap="butt"/>
<circle cx="566.2" cy="1144.92" r="4.5" fill="#fff" stroke="#000" stroke-width="2"/>
<circle cx="578.1" cy="1144.92" r="4.5" fill="#fff" stroke="#000" stroke-width="2"/>
<text x="601.9" y="1159.28" font-size="30" text-anchor="middle" fill="#000" stroke="#000" stroke-width="0.3">*</text>
<text x="184.8" y="1156.32" font-size="29.5" text-anchor="end" fill="#4d4d4d" stroke="#4d4d4d" stroke-width="0.3" transform="translate(184.8 1156.32) scale(1 1.045) translate(-184.8 -1156.32)">Dars2</text>
<line x1="195.6" y1="1144.92" x2="204.1" y2="1144.92" stroke="#000" stroke-width="2.4" stroke-linecap="butt"/>
<text x="724.8" y="1153.42" font-size="23.5" text-anchor="middle" fill="#000" stroke="#000" stroke-width="0.3">0.001</text>
<line x1="602.3" y1="1184.31" x2="611" y2="1184.31" stroke="#000" stroke-width="2.7" stroke-linecap="butt"/>
<line x1="602.3" y1="1169.71" x2="602.3" y2="1198.91" stroke="#000" stroke-width="2.8" stroke-linecap="butt"/>
<line x1="611" y1="1169.71" x2="611" y2="1198.91" stroke="#000" stroke-width="2.8" stroke-linecap="butt"/>
<circle cx="610.9" cy="1184.31" r="4.5" fill="#fff" stroke="#000" stroke-width="2"/>
<text x="635.9" y="1198.67" font-size="30" text-anchor="middle" fill="#000" stroke="#000" stroke-width="0.3">*</text>
<text x="184.8" y="1195.71" font-size="29.5" text-anchor="end" fill="#4d4d4d" stroke="#4d4d4d" stroke-width="0.3" transform="translate(184.8 1195.71) scale(1 1.045) translate(-184.8 -1195.71)">Vmn1r63</text>
<line x1="195.6" y1="1184.31" x2="204.1" y2="1184.31" stroke="#000" stroke-width="2.4" stroke-linecap="butt"/>
<text x="724.8" y="1192.81" font-size="23.5" text-anchor="middle" fill="#000" stroke="#000" stroke-width="0.3">&lt;0.001</text>
<line x1="632.5" y1="1223.7" x2="635.5" y2="1223.7" stroke="#000" stroke-width="2.7" stroke-linecap="butt"/>
<line x1="632.5" y1="1209.1" x2="632.5" y2="1238.3" stroke="#000" stroke-width="2.8" stroke-linecap="butt"/>
<line x1="635.5" y1="1209.1" x2="635.5" y2="1238.3" stroke="#000" stroke-width="2.8" stroke-linecap="butt"/>
<circle cx="629.3" cy="1223.7" r="4.5" fill="#fff" stroke="#000" stroke-width="2"/>
<circle cx="638.8" cy="1223.7" r="4.5" fill="#fff" stroke="#000" stroke-width="2"/>
<text x="661.3" y="1238.06" font-size="30" text-anchor="middle" fill="#000" stroke="#000" stroke-width="0.3">*</text>
<text x="184.8" y="1235.1" font-size="29.5" text-anchor="end" fill="#4d4d4d" stroke="#4d4d4d" stroke-width="0.3" transform="translate(184.8 1235.1) scale(1 1.045) translate(-184.8 -1235.1)">Cit</text>
<line x1="195.6" y1="1223.7" x2="204.1" y2="1223.7" stroke="#000" stroke-width="2.4" stroke-linecap="butt"/>
<text x="724.8" y="1232.2" font-size="23.5" text-anchor="middle" fill="#000" stroke="#000" stroke-width="0.3">&lt;0.001</text>
<text x="723.9" y="797.5" font-size="37.5" text-anchor="middle" fill="#000" stroke="#000" stroke-width="0.3" transform="translate(723.9 797.5) scale(1 1.045) translate(-723.9 -797.5)">p</text>
<line x1="204.1" y1="806.4" x2="204.1" y2="1248.7" stroke="#000" stroke-width="2.6" stroke-linecap="butt"/>
<line x1="202.8" y1="1247.4" x2="787.7" y2="1247.4" stroke="#000" stroke-width="2.7" stroke-linecap="butt"/>
<line x1="324.9" y1="1247.4" x2="324.9" y2="1256" stroke="#000" stroke-width="2.2" stroke-linecap="butt"/>
<text x="337.1" y="1265.5" font-size="29.5" text-anchor="end" fill="#4d4d4d" stroke="#4d4d4d" stroke-width="0.3" transform="translate(337.1 1265.5) rotate(-90) scale(1 1.0) translate(-337.1 -1265.5)">-6</text>
<line x1="397.7" y1="1247.4" x2="397.7" y2="1256" stroke="#000" stroke-width="2.2" stroke-linecap="butt"/>
<text x="409.9" y="1265.5" font-size="29.5" text-anchor="end" fill="#4d4d4d" stroke="#4d4d4d" stroke-width="0.3" transform="translate(409.9 1265.5) rotate(-90) scale(1 1.0) translate(-409.9 -1265.5)">-4</text>
<line x1="470.5" y1="1247.4" x2="470.5" y2="1256" stroke="#000" stroke-width="2.2" stroke-linecap="butt"/>
<text x="482.7" y="1265.5" font-size="29.5" text-anchor="end" fill="#4d4d4d" stroke="#4d4d4d" stroke-width="0.3" transform="translate(482.7 1265.5) rotate(-90) scale(1 1.0) translate(-482.7 -1265.5)">-2</text>
<line x1="543.3" y1="1247.4" x2="543.3" y2="1256" stroke="#000" stroke-width="2.2" stroke-linecap="butt"/>
<text x="555.5" y="1265.5" font-size="29.5" text-anchor="end" fill="#4d4d4d" stroke="#4d4d4d" stroke-width="0.3" transform="translate(555.5 1265.5) rotate(-90) scale(1 1.0) translate(-555.5 -1265.5)">0</text>
<line x1="616.1" y1="1247.4" x2="616.1" y2="1256" stroke="#000" stroke-width="2.2" stroke-linecap="butt"/>
<text x="628.3" y="1265.5" font-size="29.5" text-anchor="end" fill="#4d4d4d" stroke="#4d4d4d" stroke-width="0.3" transform="translate(628.3 1265.5) rotate(-90) scale(1 1.0) translate(-628.3 -1265.5)">2</text>
<line x1="688.9" y1="1247.4" x2="688.9" y2="1256" stroke="#000" stroke-width="2.2" stroke-linecap="butt"/>
<text x="701.1" y="1265.5" font-size="29.5" text-anchor="end" fill="#4d4d4d" stroke="#4d4d4d" stroke-width="0.3" transform="translate(701.1 1265.5) rotate(-90) scale(1 1.0) translate(-701.1 -1265.5)">4</text>
<rect x="225.3" y="1126.5" width="47.5" height="47.3" fill="#aa0000"/>
<rect x="225.3" y="1178" width="47.5" height="47.3" fill="#000"/>
<text x="292" y="1159.8" font-size="26.2" fill="#000" stroke="#000" stroke-width="0.3" transform="translate(292 1159.8) scale(1 1.045) translate(-292 -1159.8)">Decreasing, p&lt;0.05</text>
<text x="292" y="1210.8" font-size="26.2" fill="#000" stroke="#000" stroke-width="0.3" transform="translate(292 1210.8) scale(1 1.045) translate(-292 -1210.8)">Increasing, p&lt;0.05</text>
<text x="495.8" y="1325" font-size="37" text-anchor="middle" fill="#000" stroke="#000" stroke-width="0.3" transform="translate(495.8 1325) scale(1 1.045) translate(-495.8 -1325)">Upstream reporter activity</text>
<text x="494.4" y="1361.8" font-size="37" text-anchor="middle" fill="#000" stroke="#000" stroke-width="0.3" transform="translate(494.4 1361.8) scale(1 1.045) translate(-494.4 -1361.8)">Δlog2(Rluc/Fluc)truncated-FL</text>
<text x="-1" y="1404.3" font-size="48" font-weight="bold" fill="#000" stroke="#000" stroke-width="0.3" transform="translate(-1 1404.3) scale(1 1.045) translate(1 -1404.3)">d</text>
<path d="M469.7,1492.9 C470.17,1492.67 470.85,1492.17 472.5,1491.5 C474.15,1490.83 477.27,1490.22 479.6,1488.9 C481.93,1487.58 484.22,1485.7 486.5,1483.6 C488.78,1481.5 490.13,1480.3 493.3,1476.3 C496.47,1472.3 501.7,1465.18 505.5,1459.6 C509.3,1454.02 512.82,1447.12 516.1,1442.8 C519.38,1438.48 522.4,1435.67 525.2,1433.7 C528,1431.73 530.35,1431.13 532.9,1431 C535.45,1430.87 537.47,1430.93 540.5,1432.9 C543.53,1434.87 547.55,1439.12 551.1,1442.8 C554.65,1446.48 557.98,1450.93 561.8,1455 C565.62,1459.07 569.95,1463.9 574,1467.2 C578.05,1470.5 581.8,1473.08 586.1,1474.8 C590.4,1476.52 594.97,1476.73 599.8,1477.5 C604.63,1478.27 610.02,1478.33 615.1,1479.4 C620.18,1480.47 625.23,1482.17 630.3,1483.9 C635.37,1485.63 640.43,1488.2 645.5,1489.8 C650.57,1491.4 656.77,1492.75 660.7,1493.5 C664.63,1494.25 667.7,1494.17 669.1,1494.3 L669.1,1497.9 C667.7,1498.03 664.63,1497.95 660.7,1498.7 C656.77,1499.45 650.57,1500.8 645.5,1502.4 C640.43,1504 635.37,1506.57 630.3,1508.3 C625.23,1510.03 620.18,1511.73 615.1,1512.8 C610.02,1513.87 604.63,1513.93 599.8,1514.7 C594.97,1515.47 590.4,1515.68 586.1,1517.4 C581.8,1519.12 578.05,1521.7 574,1525 C569.95,1528.3 565.62,1533.13 561.8,1537.2 C557.98,1541.27 554.65,1545.72 551.1,1549.4 C547.55,1553.08 543.53,1557.33 540.5,1559.3 C537.47,1561.27 535.45,1561.33 532.9,1561.2 C530.35,1561.07 528,1560.47 525.2,1558.5 C522.4,1556.53 519.38,1553.72 516.1,1549.4 C512.82,1545.08 509.3,1538.18 505.5,1532.6 C501.7,1527.02 496.47,1519.9 493.3,1515.9 C490.13,1511.9 488.78,1510.7 486.5,1508.6 C484.22,1506.5 481.93,1504.62 479.6,1503.3 C477.27,1501.98 474.15,1501.37 472.5,1500.7 C470.85,1500.03 470.17,1499.53 469.7,1499.3 Z" fill="#bebebe" stroke="#000" stroke-width="2.7" stroke-linejoin="round"/>
<path d="M240.7,1639.3 C249.07,1639.18 276.02,1638.85 290.9,1638.6 C305.78,1638.35 319.85,1638.07 330,1637.8 C340.15,1637.53 344.62,1637.5 351.8,1637 C358.98,1636.5 366.4,1635.65 373.1,1634.8 C379.8,1633.95 385.4,1633.03 392,1631.9 C398.6,1630.77 404.18,1629.92 412.7,1628 C421.22,1626.08 432.95,1622.93 443.1,1620.4 C453.25,1617.87 465.78,1614.5 473.6,1612.8 C481.42,1611.1 484.93,1610.83 490,1610.2 C495.07,1609.57 499.13,1609.23 504,1609 C508.87,1608.77 514.03,1608.6 519.2,1608.8 C524.37,1609 529.92,1609.53 535,1610.2 C540.08,1610.87 542.18,1611.1 549.7,1612.8 C557.22,1614.5 569.95,1618.12 580.1,1620.4 C590.25,1622.68 600.45,1624.57 610.6,1626.5 C620.75,1628.43 630.85,1630.48 641,1632 C651.15,1633.52 661.35,1634.53 671.5,1635.6 C681.65,1636.67 691.5,1637.78 701.9,1638.4 C712.3,1639.02 728.57,1639.15 733.9,1639.3 L733.9,1641.1 C728.57,1641.25 712.3,1641.38 701.9,1642 C691.5,1642.62 681.65,1643.73 671.5,1644.8 C661.35,1645.87 651.15,1646.88 641,1648.4 C630.85,1649.92 620.75,1651.97 610.6,1653.9 C600.45,1655.83 590.25,1657.72 580.1,1660 C569.95,1662.28 557.22,1665.9 549.7,1667.6 C542.18,1669.3 540.08,1669.53 535,1670.2 C529.92,1670.87 524.37,1671.4 519.2,1671.6 C514.03,1671.8 508.87,1671.63 504,1671.4 C499.13,1671.17 495.07,1670.83 490,1670.2 C484.93,1669.57 481.42,1669.3 473.6,1667.6 C465.78,1665.9 453.25,1662.53 443.1,1660 C432.95,1657.47 421.22,1654.32 412.7,1652.4 C404.18,1650.48 398.6,1649.63 392,1648.5 C385.4,1647.37 379.8,1646.45 373.1,1645.6 C366.4,1644.75 358.98,1643.9 351.8,1643.4 C344.62,1642.9 340.15,1642.87 330,1642.6 C319.85,1642.33 305.78,1642.05 290.9,1641.8 C276.02,1641.55 249.07,1641.22 240.7,1641.1 Z" fill="#eabcbc" stroke="#a80000" stroke-width="2.6" stroke-linejoin="round"/>
<line x1="516.1" y1="1496.1" x2="524.8" y2="1496.1" stroke="#000" stroke-width="2.6" stroke-linecap="butt"/>
<line x1="562.2" y1="1496.1" x2="602.1" y2="1496.1" stroke="#000" stroke-width="2.6" stroke-linecap="butt"/>
<rect x="524.8" y="1488.6" width="37.4" height="15" fill="none" stroke="#000" stroke-width="2.7"/>
<line x1="539" y1="1488.6" x2="539" y2="1503.6" stroke="#000" stroke-width="4.6" stroke-linecap="butt"/>
<line x1="375.5" y1="1640.2" x2="472.6" y2="1640.2" stroke="#000" stroke-width="2.6" stroke-linecap="butt"/>
<line x1="548.8" y1="1640.2" x2="659.3" y2="1640.2" stroke="#000" stroke-width="2.6" stroke-linecap="butt"/>
<rect x="472.6" y="1632.6" width="76.2" height="15.2" fill="none" stroke="#000" stroke-width="2.7"/>
<line x1="507" y1="1632.6" x2="507" y2="1647.8" stroke="#000" stroke-width="4.6" stroke-linecap="butt"/>
<circle cx="514.6" cy="1495.7" r="2.6" fill="#222" fill-opacity="0.6"/>
<circle cx="520.4" cy="1490.8" r="2.6" fill="#222" fill-opacity="0.6"/>
<circle cx="519.9" cy="1501.1" r="2.6" fill="#222" fill-opacity="0.6"/>
<circle cx="530.1" cy="1495.4" r="2.6" fill="#222" fill-opacity="0.6"/>
<circle cx="543.2" cy="1498" r="2.6" fill="#222" fill-opacity="0.6"/>
<circle cx="552.7" cy="1498.1" r="2.6" fill="#222" fill-opacity="0.6"/>
<circle cx="570.9" cy="1490" r="2.6" fill="#222" fill-opacity="0.6"/>
<circle cx="602.9" cy="1494.6" r="2.6" fill="#222" fill-opacity="0.6"/>
<circle cx="622.7" cy="1491.5" r="2.6" fill="#222" fill-opacity="0.6"/>
<circle cx="538.2" cy="1496.1" r="2.6" fill="#222" fill-opacity="0.6"/>
<circle cx="313.7" cy="1635.7" r="2.6" fill="#222" fill-opacity="0.6"/>
<circle cx="374.6" cy="1634.1" r="2.6" fill="#222" fill-opacity="0.6"/>
<circle cx="418.8" cy="1642.4" r="2.6" fill="#222" fill-opacity="0.6"/>
<circle cx="421.8" cy="1644.2" r="2.6" fill="#222" fill-opacity="0.6"/>
<circle cx="435.5" cy="1635.1" r="2.6" fill="#222" fill-opacity="0.6"/>
<circle cx="461.4" cy="1644.2" r="2.6" fill="#222" fill-opacity="0.6"/>
<circle cx="464.4" cy="1645.7" r="2.6" fill="#222" fill-opacity="0.6"/>
<circle cx="467.5" cy="1643.3" r="2.6" fill="#222" fill-opacity="0.6"/>
<circle cx="479.6" cy="1635.7" r="2.6" fill="#222" fill-opacity="0.6"/>
<circle cx="481.2" cy="1643.9" r="2.6" fill="#222" fill-opacity="0.6"/>
<circle cx="491.8" cy="1635.7" r="2.6" fill="#222" fill-opacity="0.6"/>
<circle cx="496.4" cy="1643.3" r="2.6" fill="#222" fill-opacity="0.6"/>
<circle cx="499.4" cy="1636.6" r="2.6" fill="#222" fill-opacity="0.6"/>
<circle cx="517.7" cy="1633.5" r="2.6" fill="#222" fill-opacity="0.6"/>
<circle cx="525.3" cy="1638.1" r="2.6" fill="#222" fill-opacity="0.6"/>
<circle cx="531.4" cy="1632.6" r="2.6" fill="#222" fill-opacity="0.6"/>
<circle cx="537.5" cy="1637.8" r="2.6" fill="#222" fill-opacity="0.6"/>
<circle cx="523.8" cy="1646.3" r="2.6" fill="#222" fill-opacity="0.6"/>
<circle cx="560.3" cy="1644.2" r="2.6" fill="#222" fill-opacity="0.6"/>
<circle cx="567.9" cy="1638.7" r="2.6" fill="#222" fill-opacity="0.6"/>
<circle cx="574" cy="1635.1" r="2.6" fill="#222" fill-opacity="0.6"/>
<circle cx="577.1" cy="1644.2" r="2.6" fill="#222" fill-opacity="0.6"/>
<circle cx="587.7" cy="1638.7" r="2.6" fill="#222" fill-opacity="0.6"/>
<circle cx="616.6" cy="1646.3" r="2.6" fill="#222" fill-opacity="0.6"/>
<circle cx="621.2" cy="1641.8" r="2.6" fill="#222" fill-opacity="0.6"/>
<circle cx="622.7" cy="1633.5" r="2.6" fill="#222" fill-opacity="0.6"/>
<circle cx="659.3" cy="1634.1" r="2.6" fill="#222" fill-opacity="0.6"/>
<circle cx="505" cy="1641" r="2.6" fill="#222" fill-opacity="0.6"/>
<circle cx="486" cy="1639" r="2.6" fill="#222" fill-opacity="0.6"/>
<line x1="216.9" y1="1411" x2="216.9" y2="1727.4" stroke="#000" stroke-width="2.2" stroke-linecap="butt"/>
<line x1="215.8" y1="1726.3" x2="757.2" y2="1726.3" stroke="#000" stroke-width="2.2" stroke-linecap="butt"/>
<line x1="210" y1="1496.1" x2="216.9" y2="1496.1" stroke="#000" stroke-width="2.2" stroke-linecap="butt"/>
<line x1="210" y1="1640.4" x2="216.9" y2="1640.4" stroke="#000" stroke-width="2.2" stroke-linecap="butt"/>
<line x1="227.9" y1="1726.3" x2="227.9" y2="1733.3" stroke="#000" stroke-width="2.2" stroke-linecap="butt"/>
<text x="228.5" y="1756.4" font-size="23" text-anchor="end" fill="#4d4d4d" stroke="#4d4d4d" stroke-width="0.3">−10</text>
<line x1="386.6" y1="1726.3" x2="386.6" y2="1733.3" stroke="#000" stroke-width="2.2" stroke-linecap="butt"/>
<text x="387.2" y="1756.4" font-size="23" text-anchor="end" fill="#4d4d4d" stroke="#4d4d4d" stroke-width="0.3">−5</text>
<line x1="545.3" y1="1726.3" x2="545.3" y2="1733.3" stroke="#000" stroke-width="2.2" stroke-linecap="butt"/>
<text x="545.9" y="1756.4" font-size="23" text-anchor="end" fill="#4d4d4d" stroke="#4d4d4d" stroke-width="0.3">0</text>
<line x1="704" y1="1726.3" x2="704" y2="1733.3" stroke="#000" stroke-width="2.2" stroke-linecap="butt"/>
<text x="704.6" y="1756.4" font-size="23" text-anchor="end" fill="#4d4d4d" stroke="#4d4d4d" stroke-width="0.3">5</text>
<text x="202.6" y="1492.4" font-size="23.5" text-anchor="end" fill="#4d4d4d" stroke="#4d4d4d" stroke-width="0.3" transform="translate(202.6 1492.4) scale(1 1.045) translate(-202.6 -1492.4)">Nonconserved</text>
<text x="202.6" y="1517" font-size="23.5" text-anchor="end" fill="#4d4d4d" stroke="#4d4d4d" stroke-width="0.3" transform="translate(202.6 1517) scale(1 1.045) translate(-202.6 -1517)">5'UTRs</text>
<text x="202.6" y="1637.2" font-size="23.5" text-anchor="end" fill="#4d4d4d" stroke="#4d4d4d" stroke-width="0.3" transform="translate(202.6 1637.2) scale(1 1.045) translate(-202.6 -1637.2)">Hyperconserved</text>
<text x="202.6" y="1660.9" font-size="23.5" text-anchor="end" fill="#4d4d4d" stroke="#4d4d4d" stroke-width="0.3" transform="translate(202.6 1660.9) scale(1 1.045) translate(-202.6 -1660.9)">5'UTRs</text>
<clipPath id="dclip"><rect x="0" y="1400" width="757.5" height="300"/></clipPath>
<text x="642" y="1580.1" font-size="29.5" fill="#000" stroke="#000" stroke-width="0.3" transform="translate(642 1580.1) scale(1 1.045) translate(-642 -1580.1)" clip-path="url(#dclip)">p=0.0481</text>
<text x="486.4" y="1789.6" font-size="28.9" text-anchor="middle" fill="#000" stroke="#000" stroke-width="0.3" transform="translate(486.4 1789.6) scale(1 1.045) translate(-486.4 -1789.6)">Change in translation efficiency</text>
<g><text x="309.12" y="1840" font-size="29.4" fill="#000" stroke="#000" stroke-width="0.3" transform="translate(309.12 1840) scale(1 1.04) translate(-309.12 -1840)">Δ</text><text x="333.63" y="1840" font-size="29.4" fill="#000" stroke="#000" stroke-width="0.3" transform="translate(333.63 1840) scale(1 1.04) translate(-333.63 -1840)">log2</text><text x="388.28" y="1839.8" font-size="29.4" fill="#000" stroke="#000" stroke-width="0.3" transform="translate(388.28 1839.8) scale(1 1.17) translate(-388.28 -1839.8)">(</text><text x="400.99" y="1840" font-size="29.4" fill="#000" stroke="#000" stroke-width="0.3" transform="translate(400.99 1840) scale(1 1.04) translate(-400.99 -1840)">Rluc</text><text x="463.5" y="1841.6" font-size="29.4" fill="#000" stroke="#000" stroke-width="0.3" transform="translate(463.5 1841.6) scale(1 1.25) translate(-463.5 -1841.6)">/</text><text x="473.39" y="1840" font-size="29.4" fill="#000" stroke="#000" stroke-width="0.3" transform="translate(473.39 1840) scale(1 1.04) translate(-473.39 -1840)">Fluc</text><text x="528.92" y="1839.8" font-size="29.4" fill="#000" stroke="#000" stroke-width="0.3" transform="translate(528.92 1839.8) scale(1 1.17) translate(-528.92 -1839.8)">)</text><text x="540.78" y="1844.5" font-size="21" fill="#000" stroke="#000" stroke-width="0.3" transform="translate(540.78 1844.5) scale(1 1.04) translate(-540.78 -1844.5)">FL</text><text x="566.97" y="1844.5" font-size="21" fill="#000" stroke="#000" stroke-width="0.3" transform="translate(566.97 1844.5) scale(1 1.04) translate(-566.97 -1844.5)">−</text><text x="576.68" y="1844.5" font-size="21" fill="#000" stroke="#000" stroke-width="0.3" transform="translate(576.68 1844.5) scale(1 1.04) translate(-576.68 -1844.5)">truncated</text></g>
<text x="-1" y="1904.5" font-size="48" font-weight="bold" fill="#000" stroke="#000" stroke-width="0.3" transform="translate(-1 1904.5) scale(1 1.045) translate(1 -1904.5)">e</text>
<line x1="192.4" y1="1900.6" x2="192.4" y2="2370.2" stroke="#000" stroke-width="2.2" stroke-linecap="butt"/>
<line x1="191.3" y1="2369.1" x2="781.3" y2="2369.1" stroke="#000" stroke-width="2.2" stroke-linecap="butt"/>
<line x1="185.6" y1="1965.35" x2="192.4" y2="1965.35" stroke="#000" stroke-width="2.2" stroke-linecap="butt"/>
<text x="178" y="1973.55" font-size="23.5" text-anchor="end" fill="#4d4d4d" stroke="#4d4d4d" stroke-width="0.3">2.5</text>
<line x1="185.6" y1="2063.3" x2="192.4" y2="2063.3" stroke="#000" stroke-width="2.2" stroke-linecap="butt"/>
<text x="178" y="2071.5" font-size="23.5" text-anchor="end" fill="#4d4d4d" stroke="#4d4d4d" stroke-width="0.3">0.0</text>
<line x1="185.6" y1="2161.25" x2="192.4" y2="2161.25" stroke="#000" stroke-width="2.2" stroke-linecap="butt"/>
<text x="178" y="2169.45" font-size="23.5" text-anchor="end" fill="#4d4d4d" stroke="#4d4d4d" stroke-width="0.3">−2.5</text>
<line x1="185.6" y1="2259.2" x2="192.4" y2="2259.2" stroke="#000" stroke-width="2.2" stroke-linecap="butt"/>
<text x="178" y="2267.4" font-size="23.5" text-anchor="end" fill="#4d4d4d" stroke="#4d4d4d" stroke-width="0.3">−5.0</text>
<line x1="185.6" y1="2357.15" x2="192.4" y2="2357.15" stroke="#000" stroke-width="2.2" stroke-linecap="butt"/>
<text x="178" y="2365.35" font-size="23.5" text-anchor="end" fill="#4d4d4d" stroke="#4d4d4d" stroke-width="0.3">−7.5</text>
<line x1="218.7" y1="2369.1" x2="218.7" y2="2376.1" stroke="#000" stroke-width="2.2" stroke-linecap="butt"/>
<text x="218.7" y="2401.5" font-size="23.5" text-anchor="middle" fill="#4d4d4d" stroke="#4d4d4d" stroke-width="0.3">0.000</text>
<line x1="352.55" y1="2369.1" x2="352.55" y2="2376.1" stroke="#000" stroke-width="2.2" stroke-linecap="butt"/>
<text x="352.55" y="2401.5" font-size="23.5" text-anchor="middle" fill="#4d4d4d" stroke="#4d4d4d" stroke-width="0.3">0.005</text>
<line x1="486.4" y1="2369.1" x2="486.4" y2="2376.1" stroke="#000" stroke-width="2.2" stroke-linecap="butt"/>
<text x="486.4" y="2401.5" font-size="23.5" text-anchor="middle" fill="#4d4d4d" stroke="#4d4d4d" stroke-width="0.3">0.010</text>
<line x1="620.25" y1="2369.1" x2="620.25" y2="2376.1" stroke="#000" stroke-width="2.2" stroke-linecap="butt"/>
<text x="620.25" y="2401.5" font-size="23.5" text-anchor="middle" fill="#4d4d4d" stroke="#4d4d4d" stroke-width="0.3">0.015</text>
<line x1="754.1" y1="2369.1" x2="754.1" y2="2376.1" stroke="#000" stroke-width="2.2" stroke-linecap="butt"/>
<text x="754.1" y="2401.5" font-size="23.5" text-anchor="middle" fill="#4d4d4d" stroke="#4d4d4d" stroke-width="0.3">0.020</text>
<circle cx="219" cy="1970.6" r="4.7" fill="#000"/>
<circle cx="219" cy="2060.3" r="4.7" fill="#000"/>
<circle cx="219" cy="2070.2" r="4.7" fill="#000"/>
<circle cx="219" cy="2086.6" r="4.7" fill="#000"/>
<circle cx="219" cy="2111.9" r="4.7" fill="#000"/>
<circle cx="219" cy="2118.9" r="4.7" fill="#000"/>
<circle cx="219" cy="2123.6" r="4.7" fill="#000"/>
<circle cx="219" cy="2129.4" r="4.7" fill="#000"/>
<circle cx="219" cy="2143.5" r="4.7" fill="#000"/>
<circle cx="219" cy="2148.1" r="4.7" fill="#000"/>
<circle cx="219" cy="2152.8" r="4.7" fill="#000"/>
<circle cx="219" cy="2160.6" r="4.7" fill="#000"/>
<circle cx="219" cy="2220.7" r="4.7" fill="#000"/>
<circle cx="282.2" cy="2167.6" r="4.7" fill="#000"/>
<circle cx="334.6" cy="2199.2" r="4.7" fill="#000"/>
<circle cx="343.6" cy="1967.8" r="4.7" fill="#000"/>
<circle cx="378" cy="1975.9" r="4.7" fill="#000"/>
<circle cx="382.5" cy="2086.9" r="4.7" fill="#000"/>
<circle cx="383.6" cy="2274" r="4.7" fill="#000"/>
<circle cx="389" cy="2024.6" r="4.7" fill="#000"/>
<circle cx="400.5" cy="2165.9" r="4.7" fill="#000"/>
<circle cx="402.3" cy="2046" r="4.7" fill="#000"/>
<circle cx="405.2" cy="2098.4" r="4.7" fill="#000"/>
<circle cx="415.9" cy="2081.1" r="4.7" fill="#000"/>
<circle cx="420.6" cy="2113.9" r="4.7" fill="#000"/>
<circle cx="423.9" cy="2089.5" r="4.7" fill="#000"/>
<circle cx="429" cy="2060" r="4.7" fill="#000"/>
<circle cx="437.9" cy="2216.4" r="4.7" fill="#000"/>
<circle cx="442.6" cy="2125.1" r="4.7" fill="#000"/>
<circle cx="454.3" cy="2027.2" r="4.7" fill="#000"/>
<circle cx="457.6" cy="2219.7" r="4.7" fill="#000"/>
<circle cx="525.5" cy="2034.2" r="4.7" fill="#000"/>
<circle cx="525.5" cy="2349" r="4.7" fill="#000"/>
<circle cx="543.3" cy="2010.8" r="4.7" fill="#000"/>
<circle cx="552.7" cy="2078.7" r="4.7" fill="#000"/>
<circle cx="625.8" cy="1922.3" r="4.7" fill="#000"/>
<circle cx="635.1" cy="2073.1" r="4.7" fill="#000"/>
<circle cx="755" cy="2153.7" r="4.7" fill="#000"/>
<text x="672" y="2288.6" font-size="29.7" text-anchor="middle" fill="#000" stroke="#000" stroke-width="0.3" transform="translate(672 2288.6) scale(1 1.045) translate(-672 -2288.6)">r=0.11</text>
<text x="672" y="2329.8" font-size="29.7" text-anchor="middle" fill="#000" stroke="#000" stroke-width="0.3" transform="translate(672 2329.8) scale(1 1.045) translate(-672 -2329.8)">p=0.52</text>
<g><text x="276.3" y="2437.8" font-size="29.4" fill="#000" stroke="#000" stroke-width="0.3" transform="translate(276.3 2437.8) scale(1 1.04) translate(-276.3 -2437.8)">AUG</text><text x="338.28" y="2443" font-size="21" fill="#000" stroke="#000" stroke-width="0.3" transform="translate(338.28 2443) scale(1 1.04) translate(-338.28 -2443)">FL</text><text x="366.07" y="2443" font-size="21" fill="#000" stroke="#000" stroke-width="0.3" transform="translate(366.07 2443) scale(1 1.04) translate(-366.07 -2443)">−</text><text x="376.58" y="2443" font-size="21" fill="#000" stroke="#000" stroke-width="0.3" transform="translate(376.58 2443) scale(1 1.04) translate(-376.58 -2443)">truncated</text><text x="468.9" y="2443.6" font-size="29.4" fill="#000" stroke="#000" stroke-width="0.3" transform="translate(468.9 2443.6) scale(1 1.46) translate(-468.9 -2443.6)">/</text><text x="480.09" y="2437.8" font-size="29.4" fill="#000" stroke="#000" stroke-width="0.3" transform="translate(480.09 2437.8) scale(1 1.04) translate(-480.09 -2437.8)">Length</text><text x="572.28" y="2443" font-size="21" fill="#000" stroke="#000" stroke-width="0.3" transform="translate(572.28 2443) scale(1 1.04) translate(-572.28 -2443)">FL</text><text x="599.17" y="2443" font-size="21" fill="#000" stroke="#000" stroke-width="0.3" transform="translate(599.17 2443) scale(1 1.04) translate(-599.17 -2443)">−</text><text x="609.18" y="2443" font-size="21" fill="#000" stroke="#000" stroke-width="0.3" transform="translate(609.18 2443) scale(1 1.04) translate(-609.18 -2443)">truncated</text></g>
<text x="60.5" y="2137.3" font-size="29.8" text-anchor="middle" fill="#000" stroke="#000" stroke-width="0.3" transform="translate(60.5 2137.3) rotate(-90) scale(1 1.045) translate(-60.5 -2137.3)">Change in translation efficiency</text>
<g transform="translate(109.7 2315.8) rotate(-90)"><text x="-0.88" y="0" font-size="29.4" fill="#000" stroke="#000" stroke-width="0.3" transform="translate(-0.88 0) scale(1 1.04) translate(0.88 0)">Δ</text><text x="23.63" y="0" font-size="29.4" fill="#000" stroke="#000" stroke-width="0.3" transform="translate(23.63 0) scale(1 1.04) translate(-23.63 0)">log2</text><text x="78.28" y="-0.2" font-size="29.4" fill="#000" stroke="#000" stroke-width="0.3" transform="translate(78.28 -0.2) scale(1 1.17) translate(-78.28 0.2)">(</text><text x="90.99" y="0" font-size="29.4" fill="#000" stroke="#000" stroke-width="0.3" transform="translate(90.99 0) scale(1 1.04) translate(-90.99 0)">Rluc</text><text x="153.5" y="1.6" font-size="29.4" fill="#000" stroke="#000" stroke-width="0.3" transform="translate(153.5 1.6) scale(1 1.25) translate(-153.5 -1.6)">/</text><text x="163.39" y="0" font-size="29.4" fill="#000" stroke="#000" stroke-width="0.3" transform="translate(163.39 0) scale(1 1.04) translate(-163.39 0)">Fluc</text><text x="218.92" y="-0.2" font-size="29.4" fill="#000" stroke="#000" stroke-width="0.3" transform="translate(218.92 -0.2) scale(1 1.17) translate(-218.92 0.2)">)</text><text x="230.78" y="4.5" font-size="21" fill="#000" stroke="#000" stroke-width="0.3" transform="translate(230.78 4.5) scale(1 1.04) translate(-230.78 -4.5)">FL</text><text x="256.97" y="4.5" font-size="21" fill="#000" stroke="#000" stroke-width="0.3" transform="translate(256.97 4.5) scale(1 1.04) translate(-256.97 -4.5)">−</text><text x="266.69" y="4.5" font-size="21" fill="#000" stroke="#000" stroke-width="0.3" transform="translate(266.69 4.5) scale(1 1.04) translate(-266.69 -4.5)">truncated</text></g>
</svg>
</body></html>
